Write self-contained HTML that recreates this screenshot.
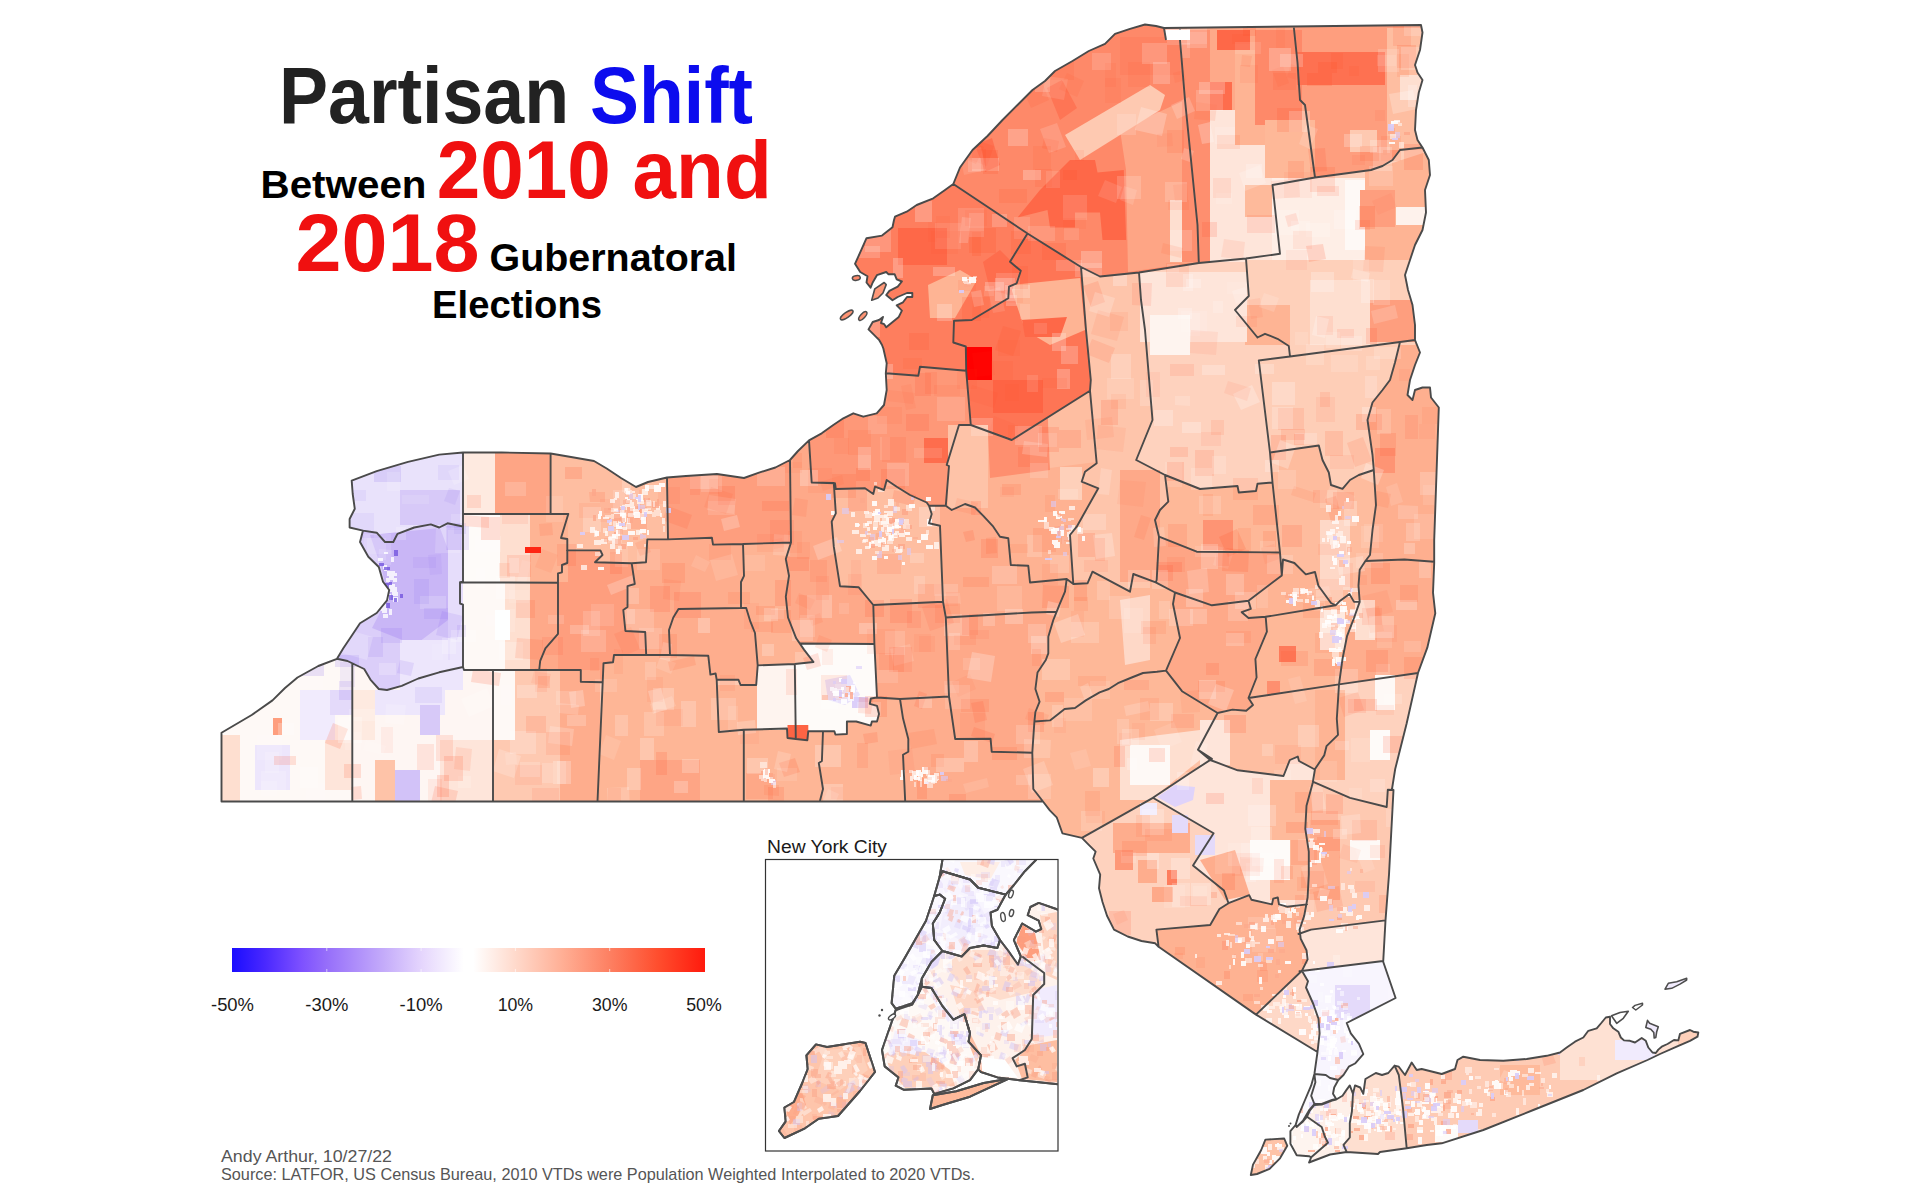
<!DOCTYPE html><html><head><meta charset="utf-8"><title>Partisan Shift</title><style>html,body{margin:0;padding:0;background:#fff}body{width:1920px;height:1200px;position:relative;overflow:hidden;font-family:"Liberation Sans",sans-serif}</style></head><body><svg width="1920" height="1200" viewBox="0 0 1920 1200" style="position:absolute;left:0;top:0">
<defs><clipPath id="land"><path d="M1130,28.8 1115,33.8 1105,43.8 1088.8,51 1072.5,61 1055,71 1045,81 1032.5,90 1017.5,105 1002.5,120 987.5,136 972.5,150 960,167.5 953.3,184 945,190 933.3,198.3 916.7,205 906.7,211.7 895,216.7 894,220 892.5,227.3 882,235.6 866.5,238.2 861.2,250.2 855,263.8 860.2,272 867.5,276.2 866.5,282.5 870.6,287.7 872.7,282.5 876.9,275.2 886.2,272 888.3,274.2 894.6,274.2 896.7,279.4 901.9,281.5 897.7,286.7 889.4,290.8 886.2,295 892.5,300.2 897.7,297 907,293 912.3,293 912.3,297 907,297 903,302.3 896.7,305.4 901.9,310.6 898.8,316.9 886.2,327.3 884.2,324.2 881,323 883,316.9 879,320 872.7,322 868.5,329.4 873.8,334.6 879,339.8 882,345 883.3,348.3 886.7,363.3 885.8,373.3 886.7,390 884,405 876.7,413.3 863.3,416.7 853.3,413.3 843.3,418.3 833.3,425 821.7,433.3 809,440.4 798,451 790,460 775.4,467.5 759,472.7 744,478 717,474 686,476 667,477.5 648,482 636,487 621,478 606.7,468.5 594,461 571,457 550.6,453.5 501.7,452.5 463,452.5 439.2,454.6 408,461.9 376.7,471.2 351.7,480.6 352.7,494 354.8,508.8 349.6,519 349.6,527.5 363,530.6 360,542 368.3,556.7 378.8,567 383,581.7 389.2,590 387,600.4 376.7,613 360,623.3 351.7,635.8 343.3,648.3 337,658.8 318.3,666 297.5,677.5 285,688 272.5,700.4 251.7,715 221.5,732.7 221.5,801.5 1043,801.5 1049.8,810.4 1056.7,817.3 1062.4,833.3 1081.9,837.9 1088.8,844.8 1095.6,851.7 1093.3,858.5 1100.2,874.6 1099,888.3 1102.5,902 1107,915.8 1114,929.6 1127.7,936.5 1141.5,941 1155.2,943.3 1158.6,946.8 1256,1014.6 1317.5,1052 1314.4,1074 1311.2,1085.4 1305,1100 1298.8,1114.6 1295.6,1125 1290.4,1131.2 1290.4,1143.8 1296.7,1155.2 1309,1156.2 1311.2,1157.3 1309,1162.5 1330,1154.5 1346.7,1152 1378,1154 1380,1152 1406.7,1148.3 1426.7,1145 1441.7,1143.3 1483.3,1130 1533.3,1110 1583.3,1090 1616.7,1073.3 1647.5,1060 1660,1054 1676.7,1046.7 1690,1040.8 1697.5,1036.7 1698.3,1032.5 1693.3,1031.7 1690,1030 1680,1033.8 1678.3,1040.4 1674,1040 1667.5,1044 1661.7,1046.7 1658.3,1049.6 1655.8,1053 1652.5,1052.5 1648.3,1047.5 1645.8,1040.8 1641.7,1038 1635,1042.5 1630,1040.8 1624,1040.4 1620.8,1037.5 1618.3,1031.7 1613.3,1028.3 1610,1024 1610,1016.7 1605.8,1017.5 1601.7,1022.5 1596.7,1028.3 1588.3,1030.8 1583.3,1037.5 1575,1041.7 1566.7,1047.5 1560,1052.5 1546.7,1055.8 1526.7,1059 1503.3,1060.8 1480,1060 1463.3,1056.7 1457.5,1060 1455,1069 1441.7,1074 1421.7,1069 1416.7,1070 1411.7,1062.5 1405,1075 1398.8,1066.7 1394.6,1065.6 1388.3,1073 1382,1075 1375.8,1073 1365.4,1079 1363.3,1093.8 1360.2,1087.5 1355,1085.4 1353,1093.8 1349.8,1085.4 1346.7,1089.6 1342.5,1095.8 1336.2,1099.5 1332,1100.5 1321.7,1104.5 1314.4,1105 1309.5,1111 1307,1116.7 1303,1121.5 1298.4,1125.4 1303,1120.8 1309,1110.4 1314.4,1104 1321.7,1104 1332,1100 1336.2,1099 1333,1093.8 1334.2,1087.5 1338.3,1080 1343.5,1075 1348.8,1066.7 1355,1063.5 1363.3,1054 1359,1043.8 1350.8,1033.3 1346.7,1023 1395.6,998 1383.2,961.7 1385.5,920.4 1389,874.6 1393.5,790 1392,789 1395.2,769 1406.7,723.3 1418,673 1427.3,647.7 1435.3,613.3 1433,592.7 1434.2,563 1434.2,540 1438.8,407.5 1431,397.5 1430,387.5 1422.5,387.5 1415,390 1412.5,400 1407.5,395 1410,380 1415,365 1420,352.5 1415,340 1415,325 1412.5,305 1408,290 1405,275 1410,260 1415,245 1422.5,230 1426,212.5 1425,190 1430,175 1428.8,160 1422.5,147.5 1417.5,140 1415,130 1416,110 1418.8,92.5 1422.5,80 1417.5,72.5 1415,65 1420,50 1422.5,32.5 1421,25 1164,28 1156,26 1145,24.5Z"/><path d="M1269.6,1168.8 1280,1158.3 1287.3,1145.8 1284.2,1138.5 1265.4,1139.6 1261.2,1150 1253,1164.6 1250.8,1175 1257,1174.0Z"/></clipPath>
<linearGradient id="lg" x1="0" x2="1" y1="0" y2="0"><stop offset="0" stop-color="#1a0dff"/><stop offset="0.07" stop-color="#4a28ff"/><stop offset="0.146" stop-color="#7d50ff"/><stop offset="0.2" stop-color="#966efa"/><stop offset="0.318" stop-color="#c3aafa"/><stop offset="0.404" stop-color="#e6d7fd"/><stop offset="0.49" stop-color="#ffffff"/><stop offset="0.51" stop-color="#ffffff"/><stop offset="0.6" stop-color="#ffd9cb"/><stop offset="0.7" stop-color="#ffae94"/><stop offset="0.8" stop-color="#fd7f61"/><stop offset="0.9" stop-color="#ff4e2e"/><stop offset="1" stop-color="#ff1a0d"/></linearGradient>
<clipPath id="inset"><rect x="766" y="860" width="291.5" height="290.5"/></clipPath>
</defs>
<g stroke="none">
<path d="M1145,24.5 1130,28.8 1115,33.8 1105,43.8 1088.8,51 1072.5,61 1055,71 1045,81 1032.5,90 1017.5,105 1002.5,120 987.5,136 972.5,150 960,167.5 953.3,184 1027.5,233.5 1081,267 1100,276.5 1139,272.5 1198.8,263 1197.5,225 1192.5,175 1185,100 1180,40 1180,27.8 1164,28 1156,26.0Z" fill="#fe8969"/>
<path d="M953.3,184 945,190 933.3,198.3 916.7,205 906.7,211.7 895,216.7 894,220 892.5,227.3 882,235.6 866.5,238.2 861.2,250.2 855,263.8 860.2,272 867.5,276.2 866.5,282.5 870.6,287.7 872.7,282.5 876.9,275.2 886.2,272 888.3,274.2 894.6,274.2 896.7,279.4 901.9,281.5 897.7,286.7 889.4,290.8 886.2,295 892.5,300.2 897.7,297 907,293 912.3,293 912.3,297 907,297 903,302.3 896.7,305.4 901.9,310.6 898.8,316.9 886.2,327.3 884.2,324.2 881,323 883,316.9 879,320 872.7,322 868.5,329.4 873.8,334.6 879,339.8 882,345 883.3,348.3 886.7,363.3 885.8,373.3 918.3,375.8 920,366.7 966.2,370.8 965.8,346.5 953.3,342.5 954,320.8 971.7,320 1008.3,298.3 1009,286.7 1016.7,283.3 1020.8,270.8 1010,261.7 1027.5,233.5Z" fill="#fe7e5e"/>
<path d="M885.8,373.3 885.8,373.3 886.7,390 884,405 876.7,413.3 863.3,416.7 853.3,413.3 843.3,418.3 833.3,425 821.7,433.3 809,440.4 811.7,482.5 833.8,483 833.8,483.3 835,483.3 835.8,489 865,488.3 873.3,494 875,486.7 884,490 886.7,480 896.7,486.7 910,495 926.7,502.5 929,505.8 945.8,505.8 949,466 946.7,465 959,425 970.8,425 966.2,370.8 920,366.7 918.3,375.8Z" fill="#fe9878"/>
<path d="M809,440.4 798,451 790,460 791,542.5 785.8,559 789,575.8 785.8,596.7 788,617.5 796.2,638.3 799.8,643.5 874.4,644 873.3,605 858.8,587.3 840,586.2 833.8,546.7 831.7,521.7 835.8,513.3 833.8,483.3 811.7,482.5Z" fill="#fea989"/>
<path d="M790,460 775.4,467.5 759,472.7 744,478 717,474 686,476 667,477.5 668,539.4 711.9,537.7 713,544.6 743,544 791,542.5Z" fill="#fe9e7e"/>
<path d="M667,477.5 648,482 636,487 621,478 606.7,468.5 594,461 571,457 550.6,453.5 550.6,514 568.3,514 561,538 567.3,539 567.3,550.4 600.4,550.4 602.5,555 595,562.3 631.7,563.3 646,562.3 647.3,539.4 668,539.4Z" fill="#febea1"/>
<path d="M550.6,453.5 501.7,452.5 463,452.5 463,514 550.6,514.0Z" fill="#febea1"/>
<path d="M463,452.5 439.2,454.6 408,461.9 376.7,471.2 351.7,480.6 352.7,494 354.8,508.8 349.6,519 349.6,527.5 363,530.6 376.7,532.7 385,542 393.3,542 397.5,533.8 414.2,527.5 430.8,524.4 439.2,527.5 447.5,523.3 463,526.5 463,514.0Z" fill="#e9e2fb"/>
<path d="M363,530.6 360,542 368.3,556.7 378.8,567 383,581.7 389.2,590 387,600.4 376.7,613 360,623.3 351.7,635.8 343.3,648.3 337,658.8 347.5,661 352.3,663.3 355.8,665 364.2,669 370.4,679.6 378.8,689 387,690 401.7,685.8 418.3,678.5 439.2,672.3 463,667 463,604.6 460,603.5 460,582.3 463,581.7 463,526.5 447.5,523.3 439.2,527.5 430.8,524.4 414.2,527.5 397.5,533.8 393.3,542 385,542 376.7,532.7Z" fill="#dbcef9"/>
<path d="M337,658.8 318.3,666 297.5,677.5 285,688 272.5,700.4 251.7,715 221.5,732.7 221.5,801.5 352.3,801.5 352.3,663.3 347.5,661.0Z" fill="#fef9f6"/>
<path d="M352.3,801.5 493,801.5 493,670 464,670 463,667 439.2,672.3 418.3,678.5 401.7,685.8 387,690 378.8,689 370.4,679.6 364.2,669 355.8,665 352.3,663.3Z" fill="#fef6f3"/>
<path d="M493,801.5 597.5,801.5 602.7,682.2 580.8,681.7 580.8,670 539.2,670 493,670.0Z" fill="#fec9b1"/>
<path d="M597.5,801.5 743.8,801.5 743.7,729.8 718.8,732 716.7,679.8 715.6,673.5 710.4,674.6 708.3,655.8 670,655 648.2,655 646.2,655 644.2,655 614,655 613,662.3 603.5,663.3 602.7,682.2Z" fill="#feb696"/>
<path d="M743.8,801.5 819.8,801.5 823,789 818.8,763 821.9,761 823,731.2 808.3,731.2 807.3,740.2 795.8,739 787.5,738 787,728.5 743.7,729.8Z" fill="#feb696"/>
<path d="M819.8,801.5 905.2,801.5 903,754.8 908.3,751.7 908.3,739 903,718.3 900,699 877,697.5 870.8,698.5 869.8,703.8 877,705.8 879,714 877,721.5 871.9,721.5 870.8,725.6 856.2,721.5 846.9,721.5 846.9,734 835.4,734.6 834.4,731.2 823,731.2 821.9,761 818.8,763 823,789.0Z" fill="#feb494"/>
<path d="M905.2,801.5 1043,801.5 1033.3,789 1032.3,752.7 991.7,751.7 990.6,738.8 955.2,739 949,696.5 900,699 903,718.3 908.3,739 908.3,751.7 903,754.8Z" fill="#fead8d"/>
<path d="M1043,801.5 1049.8,810.4 1056.7,817.3 1062.4,833.3 1081.9,837.9 1152.9,797.8 1189,773.8 1210.2,760 1210.2,760 1198,749.7 1217.6,713 1182,691.2 1166,670.6 1156.9,671.8 1143,673 1131.7,677.5 1117.9,683.2 1108.8,689 1099.6,692.4 1085.8,700.4 1075,708 1064.6,709 1058.3,714 1050,720.4 1034.4,721.5 1032.3,752.7 1033.3,789.0Z" fill="#feb898"/>
<path d="M1081.9,837.9 1088.8,844.8 1095.6,851.7 1093.3,858.5 1100.2,874.6 1099,888.3 1102.5,902 1107,915.8 1114,929.6 1127.7,936.5 1141.5,941 1155.2,943.3 1158.6,946.8 1156.4,929.6 1210.2,925 1219.4,909 1228.5,903.2 1224,890.6 1193,865.4 1213.6,833.3 1152.9,797.8Z" fill="#fed2be"/>
<path d="M1158.6,946.8 1256,1014.6 1301.8,970.9 1301.9,970.8 1307.6,959.4 1306.5,950.2 1300.7,938.8 1300.1,933.4 1299.6,929.6 1304.2,915.8 1306.3,904.5 1287,906.7 1279,904.4 1277.8,897.5 1273.2,898.6 1272,904.4 1251.5,899.8 1249.2,895.2 1228.5,903.2 1219.4,909 1210.2,925 1156.4,929.6Z" fill="#feb292"/>
<path d="M1256,1014.6 1317.5,1052 1319.6,1033.3 1318.5,1018.8 1313.3,1004 1306,987.5 1308,981.2 1302,970.9 1301.8,970.9Z" fill="#fed8c7"/>
<path d="M1317.5,1052 1314.4,1074 1325.8,1075 1330,1078 1338.3,1080 1343.5,1075 1348.8,1066.7 1355,1063.5 1363.3,1054 1359,1043.8 1350.8,1033.3 1346.7,1023 1395.6,998 1383.2,961.7 1383.2,961 1302,970.9 1308,981.2 1306,987.5 1313.3,1004 1318.5,1018.8 1319.6,1033.3Z" fill="#f8f5fe"/>
<path d="M1314.4,1074 1311.2,1085.4 1305,1100 1298.8,1114.6 1295.6,1125 1296.7,1127 1303,1120.8 1309,1110.4 1314.4,1104 1311.2,1095.8 1315.4,1082.3Z" fill="#fbfafe"/>
<path d="M1314.4,1104 1321.7,1104 1332,1100 1336.2,1099 1333,1093.8 1334.2,1087.5 1338.3,1080 1330,1078 1325.8,1075 1314.4,1074 1315.4,1082.3 1311.2,1095.8Z" fill="#faf8fe"/>
<path d="M1383.2,961 1385.5,920.4 1311,929.6 1300.1,933.4 1300.7,938.8 1306.5,950.2 1307.6,959.4 1301.9,970.8 1302,970.9Z" fill="#fee5da"/>
<path d="M1385.5,920.4 1389,874.6 1393.5,790 1387.8,789.8 1386.7,807 1350,797.8 1312.9,781.6 1312.7,783 1306.5,805.8 1305.3,828.8 1308.8,851.7 1308.8,874.6 1307.6,897.5 1306.3,904.5 1304.2,915.8 1299.6,929.6 1300.1,933.4 1311,929.6Z" fill="#fec9b1"/>
<path d="M1393.5,790 1392,789 1395.2,769 1406.7,723.3 1418,673 1339,684.4 1338,700.4 1336.8,718.8 1338,734.8 1326.5,746.2 1324.2,755.4 1315,769 1314.9,769.5 1312.9,781.6 1350,797.8 1386.7,807 1387.8,789.8Z" fill="#fed2be"/>
<path d="M1418,673 1427.3,647.7 1435.3,613.3 1433,592.7 1434.2,563 1434.2,561.8 1404.4,559.5 1365.4,561 1359.7,569.8 1358.5,585.8 1359.7,601.9 1354,618 1347,636.2 1342.5,659 1339,684.4Z" fill="#fead8d"/>
<path d="M1434.2,561.8 1434.2,540 1438.8,407.5 1431,397.5 1430,387.5 1422.5,387.5 1415,390 1412.5,400 1407.5,395 1410,380 1415,365 1420,352.5 1415,340 1400,342 1395,362.5 1390,380 1382.5,390 1372.5,402.5 1367.5,420 1372.5,455 1373.8,470 1376,505 1372.5,530 1370,555 1365.4,561 1404.4,559.5Z" fill="#feaf8f"/>
<path d="M1415,340 1415,325 1412.5,305 1408,290 1405,275 1410,260 1415,245 1422.5,230 1426,212.5 1425,190 1430,175 1428.8,160 1422.5,147.5 1400,150 1392.5,160 1382.5,166 1371,170 1352.5,172.5 1315,177.5 1272.5,185 1280,253.8 1246,258.5 1248.8,296 1235,310 1257.5,337.5 1265,333.8 1277.5,338.8 1288.8,346 1290,356.5 1400,342.0Z" fill="#fed0ba"/>
<path d="M1422.5,147.5 1417.5,140 1415,130 1416,110 1418.8,92.5 1422.5,80 1417.5,72.5 1415,65 1420,50 1422.5,32.5 1421,25 1293.7,26.5 1297.5,62.5 1300,100 1305,105 1315,177.5 1352.5,172.5 1371,170 1382.5,166 1392.5,160 1400,150.0Z" fill="#fe9e7e"/>
<path d="M1293.7,26.5 1180,27.8 1180,40 1185,100 1192.5,175 1197.5,225 1198.8,263 1246,258.5 1280,253.8 1272.5,185 1315,177.5 1305,105 1300,100 1297.5,62.5Z" fill="#fea989"/>
<path d="M1081,267 1027.5,233.5 1010,261.7 1020.8,270.8 1016.7,283.3 1009,286.7 1008.3,298.3 971.7,320 954,320.8 953.3,342.5 965.8,346.5 966.2,370.8 970.8,425 1011.7,440 1090,390.8 1090.8,380 1086,330.0Z" fill="#fe7555"/>
<path d="M1100,276.5 1081,267 1086,330 1090.8,380 1090,390.8 1096.7,463.3 1085,471.7 1081.7,481.7 1098.3,488.3 1076.7,526.7 1070,535 1073.3,584 1087.5,583.3 1092.5,571.7 1130,591.7 1133.3,574 1155.7,582.4 1156.7,580 1159,536.7 1155,520 1160,510 1168.3,501.7 1165,475 1136.2,460 1152.5,420 1145,330 1141,300 1139,272.5Z" fill="#fec5ab"/>
<path d="M1198.8,263 1139,272.5 1141,300 1145,330 1152.5,420 1136.2,460 1165,475 1200,489 1237.5,486 1238.8,492.5 1256,491 1257.5,483.8 1272.5,482.5 1270,452.5 1258.8,360.5 1290,356.5 1288.8,346 1277.5,338.8 1265,333.8 1257.5,337.5 1235,310 1248.8,296 1246,258.5Z" fill="#fed2be"/>
<path d="M1290,356.5 1258.8,360.5 1270,452.5 1318.8,445.5 1322.5,460 1328.8,472.5 1331,485 1342.5,488.8 1350,480 1358.8,475 1373.8,470 1372.5,455 1367.5,420 1372.5,402.5 1382.5,390 1390,380 1395,362.5 1400,342.0Z" fill="#feceb7"/>
<path d="M1270,452.5 1272.5,482.5 1280,552.5 1281.8,575.5 1283,559.5 1294.4,563 1305.8,574.4 1315,572 1318.4,585.8 1331,603 1335.6,605.3 1340.2,600.7 1349.4,593.9 1354,601.9 1359.7,601.9 1358.5,585.8 1359.7,569.8 1365.4,561 1370,555 1372.5,530 1376,505 1373.8,470 1358.8,475 1350,480 1342.5,488.8 1331,485 1328.8,472.5 1322.5,460 1318.8,445.5Z" fill="#febc9e"/>
<path d="M1280,552.5 1272.5,482.5 1257.5,483.8 1256,491 1238.8,492.5 1237.5,486 1200,489 1165,475 1168.3,501.7 1160,510 1155,520 1159,536.7 1196.7,551.7Z" fill="#feb898"/>
<path d="M1281.8,575.5 1280,552.5 1196.7,551.7 1159,536.7 1156.7,580 1155.7,582.4 1175,592.5 1211.9,605.3 1248.5,600.7Z" fill="#fea585"/>
<path d="M1090,390.8 1011.7,440 970.8,425 959,425 946.7,465 949,466 945.8,505.8 951.7,510 965,504 975,507.5 983.3,515.8 993.3,526.7 1000,536.7 1008.3,538.3 1010.8,565 1028.3,565.8 1030,582.5 1066.7,579 1073.3,584 1070,535 1076.7,526.7 1098.3,488.3 1081.7,481.7 1085,471.7 1096.7,463.3Z" fill="#feb292"/>
<path d="M811.7,482.5 833.8,483.3 833.8,483.0Z" fill="#feb494"/>
<path d="M929,505.8 926.7,502.5 910,495 896.7,486.7 886.7,480 884,490 875,486.7 873.3,494 865,488.3 835.8,489 835,483.3 833.8,483.3 835.8,513.3 831.7,521.7 833.8,546.7 840,586.2 858.8,587.3 873.3,605 943,601.7 940,525.8 929,523.3 931.7,514.0Z" fill="#febea1"/>
<path d="M945.8,505.8 929,505.8 931.7,514 929,523.3 940,525.8 943,601.7 945.8,617.5 1031.7,612.5 1056.7,611.7 1060,603.3 1065,591.7 1066.7,579 1030,582.5 1028.3,565.8 1010.8,565 1008.3,538.3 1000,536.7 993.3,526.7 983.3,515.8 975,507.5 965,504 951.7,510.0Z" fill="#fead8d"/>
<path d="M1073.3,584 1066.7,579 1065,591.7 1060,603.3 1056.7,611.7 1053.3,620 1048.3,636.7 1048.3,653.3 1045.8,660 1037.5,672.5 1035.4,689 1039.6,701.7 1035.4,712 1034.4,721.5 1050,720.4 1058.3,714 1064.6,709 1075,708 1085.8,700.4 1099.6,692.4 1108.8,689 1117.9,683.2 1131.7,677.5 1143,673 1156.9,671.8 1166,670.6 1180,638 1173,604 1175,592.5 1155.7,582.4 1133.3,574 1130,591.7 1092.5,571.7 1087.5,583.3Z" fill="#feb898"/>
<path d="M1248.5,600.7 1211.9,605.3 1175,592.5 1173,604 1180,638 1166,670.6 1182,691.2 1217.6,713 1232.5,709.6 1246.2,710.7 1253,705 1248.5,698 1256.6,677.5 1255.4,659 1266.9,631.7 1265.7,616.8 1248.5,618 1241.7,612.2 1250.8,608.8Z" fill="#fea989"/>
<path d="M1281.8,575.5 1248.5,600.7 1250.8,608.8 1241.7,612.2 1248.5,618 1265.7,616.8 1335.6,605.3 1331,603 1318.4,585.8 1315,572 1305.8,574.4 1294.4,563 1283,559.5Z" fill="#feb494"/>
<path d="M1265.7,616.8 1266.9,631.7 1255.4,659 1256.6,677.5 1248.5,698 1339,684.4 1342.5,659 1347,636.2 1354,618 1359.7,601.9 1354,601.9 1349.4,593.9 1340.2,600.7 1335.6,605.3Z" fill="#feb898"/>
<path d="M1248.5,698 1253,705 1246.2,710.7 1232.5,709.6 1217.6,713 1198,749.7 1211.9,758.9 1210.2,760 1237.7,770.3 1283.5,776 1289.8,760 1297.8,756.6 1299,761 1314.9,769.5 1315,769 1324.2,755.4 1326.5,746.2 1338,734.8 1336.8,718.8 1338,700.4 1339,684.4Z" fill="#febea1"/>
<path d="M1312.9,781.6 1314.9,769.5 1299,761 1297.8,756.6 1289.8,760 1283.5,776 1237.7,770.3 1210.2,760 1189,773.8 1152.9,797.8 1213.6,833.3 1193,865.4 1224,890.6 1228.5,903.2 1249.2,895.2 1251.5,899.8 1272,904.4 1273.2,898.6 1277.8,897.5 1279,904.4 1287,906.7 1306.3,904.5 1307.6,897.5 1308.8,874.6 1308.8,851.7 1305.3,828.8 1306.5,805.8 1312.7,783.0Z" fill="#fee5da"/>
<path d="M1302,970.9 1301.9,970.8 1301.8,970.9Z" fill="#feb494"/>
<path d="M1198,749.7 1210.2,760 1210.2,760 1211.9,758.9Z" fill="#feb494"/>
<path d="M1034.4,721.5 1035.4,712 1039.6,701.7 1035.4,689 1037.5,672.5 1045.8,660 1048.3,653.3 1048.3,636.7 1053.3,620 1056.7,611.7 1031.7,612.5 945.8,617.5 949,696.5 955.2,739 990.6,738.8 991.7,751.7 1032.3,752.7Z" fill="#fea989"/>
<path d="M945.8,617.5 943,601.7 873.3,605 874.4,644 877,697.5 900,699 949,696.5Z" fill="#fea989"/>
<path d="M668,539.4 647.3,539.4 646,562.3 631.7,563.3 634.8,584 627.5,586.2 627.5,607 623.3,610 625.4,631 645.2,632 646.2,655 648.2,655 670,655 669,630 673.3,617.5 678.5,609 741,608 741,582 744,575.8 743,544 713,544.6 711.9,537.7Z" fill="#fead8d"/>
<path d="M791,542.5 743,544 744,575.8 741,582 741,608 746.2,608 750.4,621.7 755,633 757.7,665.4 794.8,664 813.5,662 804,649.6 799.8,643.5 796.2,638.3 788,617.5 785.8,596.7 789,575.8 785.8,559.0Z" fill="#feb494"/>
<path d="M631.7,563.3 595,562.3 602.5,555 600.4,550.4 567.3,550.4 567.3,563 562,565 562,572.3 558,573.3 558,580.7 558,582.7 558,584.7 558,633.8 545.4,648.3 540.2,660.8 539.2,670 580.8,670 580.8,681.7 602.7,682.2 603.5,663.3 613,662.3 614,655 644.2,655 646.2,655 645.2,632 625.4,631 623.3,610 627.5,607 627.5,586.2 634.8,584.0Z" fill="#fe9e7e"/>
<path d="M550.6,514 463,514 463,526.5 463,581.7 460,582.3 558,582.7 558,580.7 558,573.3 562,572.3 562,565 567.3,563 567.3,550.4 567.3,539 561,538 568.3,514.0Z" fill="#fed4c1"/>
<path d="M558,584.7 558,582.7 460,582.3 460,603.5 463,604.6 463,667 464,670 493,670 539.2,670 540.2,660.8 545.4,648.3 558,633.8Z" fill="#fed8c7"/>
<path d="M670,655 708.3,655.8 710.4,674.6 715.6,673.5 716.7,679.8 738.5,679.8 740.6,685 756.2,685 757.7,665.4 755,633 750.4,621.7 746.2,608 741,608 678.5,609 673.3,617.5 669,630.0Z" fill="#fead8d"/>
<path d="M716.7,679.8 718.8,732 743.7,729.8 787,728.5 787.5,738 795.8,739 794.8,664 757.7,665.4 756.2,685 740.6,685 738.5,679.8Z" fill="#fec9b1"/>
<path d="M813.5,662 794.8,664 795.8,739 807.3,740.2 808.3,731.2 823,731.2 834.4,731.2 835.4,734.6 846.9,734 846.9,721.5 856.2,721.5 870.8,725.6 871.9,721.5 877,721.5 879,714 877,705.8 869.8,703.8 870.8,698.5 877,697.5 874.4,644 799.8,643.5 804,649.6Z" fill="#fefbf9"/>
<path d="M1307,1116.7 1303,1121.5 1297,1126.5 1295.6,1125 1290.4,1131.2 1290.4,1143.8 1296.7,1155.2 1309,1156.2 1311.2,1157.3 1328,1142.7 1324.8,1136.5 1321.7,1127.0Z" fill="#fef4ef"/>
<path d="M1353,1093.8 1349.8,1085.4 1346.7,1089.6 1342.5,1095.8 1336.2,1099.5 1332,1100.5 1321.7,1104.5 1314.4,1105 1309.5,1111 1307,1116.7 1321.7,1127 1324.8,1136.5 1328,1142.7 1311.2,1157.3 1309,1162.5 1330,1154.5 1346.7,1152 1343.5,1144.8 1349.8,1137.5 1349.8,1123 1351.9,1111.5Z" fill="#fef0e9"/>
<path d="M1394.6,1065.6 1388.3,1073 1382,1075 1375.8,1073 1365.4,1079 1363.3,1093.8 1360.2,1087.5 1355,1085.4 1353,1093.8 1351.9,1111.5 1349.8,1123 1349.8,1137.5 1343.5,1144.8 1346.7,1152 1378,1154 1380,1152 1406.7,1148.3 1403,1108.3 1398.8,1075.0Z" fill="#fedfd0"/>
<path d="M1406.7,1148.3 1426.7,1145 1441.7,1143.3 1483.3,1130 1533.3,1110 1583.3,1090 1616.7,1073.3 1647.5,1060 1660,1054 1676.7,1046.7 1690,1040.8 1697.5,1036.7 1698.3,1032.5 1693.3,1031.7 1690,1030 1680,1033.8 1678.3,1040.4 1674,1040 1667.5,1044 1661.7,1046.7 1658.3,1049.6 1655.8,1053 1652.5,1052.5 1648.3,1047.5 1645.8,1040.8 1641.7,1038 1635,1042.5 1630,1040.8 1624,1040.4 1620.8,1037.5 1618.3,1031.7 1613.3,1028.3 1610,1024 1610,1016.7 1605.8,1017.5 1601.7,1022.5 1596.7,1028.3 1588.3,1030.8 1583.3,1037.5 1575,1041.7 1566.7,1047.5 1560,1052.5 1546.7,1055.8 1526.7,1059 1503.3,1060.8 1480,1060 1463.3,1056.7 1457.5,1060 1455,1069 1441.7,1074 1421.7,1069 1416.7,1070 1411.7,1062.5 1405,1075 1398.8,1066.7 1394.6,1065.6 1398.8,1075 1403,1108.3Z" fill="#fecbb4"/>
<path d="M1250.8,1175 1253,1164.6 1261.2,1150 1265.4,1139.6 1284.2,1138.5 1287.3,1145.8 1280,1158.3 1269.6,1168.8 1257,1174.0Z" fill="#fec3a8"/>
</g>
<g clip-path="url(#land)" stroke="none">
<path d="M1120,130 1185,100 1198,262 1128,272 1126,170.0Z" fill="#fea585"/>
<path d="M1040,190 1070,160 1095,160 1097.5,172.5 1123.8,170 1126.2,240 1102.5,240 1100,212.5 1075,212.5 1075,227.5 1050,227.5 1047.5,210 1017.5,217.5Z" fill="#fe6848"/>
<path d="M1065,135 1150,85 1165,95 1160,110 1080,160.0Z" fill="#fec9b1"/>
<path d="M1047,88 1062,80 1077,108 1060,120.0Z" fill="#fe7555"/>
<path d="M975,145 992,138 1000,165 985,172.0Z" fill="#fe7151"/>
<rect x="1120" y="37" width="60" height="38" fill="#fe8262"/>
<rect x="1170" y="200" width="26" height="62" fill="#fedfd0"/>
<rect x="1182" y="30" width="28" height="232" fill="#fe8f6f"/>
<rect x="1210" y="110" width="62" height="152" fill="#fee5da"/>
<rect x="1245" y="185" width="27" height="32" fill="#feba9b"/>
<rect x="1235" y="50" width="30" height="95" fill="#feb494"/>
<rect x="1255" y="30" width="47" height="95" fill="#fe8969"/>
<rect x="1265" y="120" width="50" height="58" fill="#feb898"/>
<rect x="1210" y="82" width="22" height="28" fill="#fe6d4d"/>
<rect x="1217" y="30" width="33" height="20" fill="#fe6848"/>
<rect x="1297" y="52" width="88" height="33" fill="#fe7151"/>
<rect x="1387" y="28" width="38" height="122" fill="#febea1"/>
<rect x="1400" y="75" width="25" height="25" fill="#fedfd0"/>
<rect x="1350" y="130" width="27" height="22" fill="#fec9b1"/>
<rect x="1272" y="178" width="93" height="84" fill="#feeee6"/>
<rect x="1345" y="180" width="20" height="70" fill="#fef9f6"/>
<path d="M1365,172 1432,150 1432,345 1365,345.0Z" fill="#feb494"/>
<rect x="1360" y="190" width="35" height="37" fill="#fe9e7e"/>
<rect x="1396" y="207" width="32" height="18" fill="#fef2ec"/>
<rect x="1245" y="260" width="170" height="85" fill="#fed0ba"/>
<rect x="1245" y="305" width="45" height="40" fill="#feb494"/>
<rect x="1310" y="280" width="60" height="65" fill="#fedfd0"/>
<rect x="1370" y="300" width="48" height="42" fill="#fe9e7e"/>
<rect x="1140" y="272" width="107" height="70" fill="#fee5da"/>
<rect x="1150" y="315" width="40" height="40" fill="#fef4ef"/>
<path d="M1010,285 1080,278 1085,330 1050,345 1025,330.0Z" fill="#feb494"/>
<path d="M1022,320 1067,317 1060,337 1025,337.0Z" fill="#fe6848"/>
<rect x="966" y="347" width="26" height="33" fill="#ff0000"/>
<rect x="898" y="228" width="49" height="37" fill="#fe6848"/>
<path d="M983,262 1000,250 1020,270 1010,295 990,290.0Z" fill="#fe6d4d"/>
<path d="M928,285 960,270 977,280 955,318 930,318.0Z" fill="#feb494"/>
<rect x="924" y="438" width="26" height="25" fill="#fe6d4d"/>
<rect x="948" y="425" width="40" height="83" fill="#fec3a8"/>
<path d="M988,432 1011,441 1048,418 1050,470 990,478.0Z" fill="#fe8f6f"/>
<path d="M1048,418 1090,392 1096,462 1050,468.0Z" fill="#febea1"/>
<rect x="1060" y="467" width="22" height="33" fill="#fed0ba"/>
<rect x="1120" y="470" width="40" height="112" fill="#fea989"/>
<rect x="993" y="380" width="50" height="33" fill="#fe6444"/>
<path d="M370,535 440,528 452,560 448,620 415,645 372,628 388,597 382,570.0Z" fill="#c9b6f6"/>
<rect x="400" y="640" width="63" height="50" fill="#ede6fc"/>
<rect x="448" y="530" width="15" height="130" fill="#e6ddfb"/>
<rect x="400" y="490" width="60" height="35" fill="#d7c9f8"/>
<rect x="463" y="453" width="32" height="61" fill="#feeae0"/>
<rect x="495" y="453" width="56" height="61" fill="#fea585"/>
<rect x="463" y="514" width="37" height="68" fill="#fefbf9"/>
<rect x="500" y="514" width="30" height="68" fill="#fedfd0"/>
<rect x="530" y="514" width="38" height="68" fill="#feb494"/>
<rect x="525" y="547" width="16" height="6" fill="#fe2613"/>
<rect x="463" y="582" width="42" height="88" fill="#fef9f6"/>
<rect x="505" y="582" width="25" height="88" fill="#fedfd0"/>
<rect x="530" y="582" width="28" height="88" fill="#fea989"/>
<rect x="495" y="610" width="15" height="30" fill="#feffff"/>
<rect x="222" y="735" width="18" height="66" fill="#fedfd0"/>
<rect x="255" y="745" width="35" height="45" fill="#ede6fc"/>
<rect x="300" y="690" width="35" height="50" fill="#f1ebfd"/>
<rect x="330" y="690" width="22" height="25" fill="#e4dafa"/>
<rect x="325" y="740" width="27" height="50" fill="#fee5da"/>
<rect x="273" y="718" width="9" height="17" fill="#fe9e7e"/>
<rect x="375" y="690" width="70" height="25" fill="#ede6fc"/>
<rect x="420" y="705" width="20" height="30" fill="#d7c9f8"/>
<rect x="375" y="760" width="20" height="41" fill="#fec3a8"/>
<rect x="395" y="770" width="25" height="31" fill="#d2c2f8"/>
<rect x="440" y="740" width="53" height="61" fill="#fee5da"/>
<rect x="352" y="690" width="23" height="50" fill="#feeae0"/>
<rect x="493" y="670" width="22" height="70" fill="#fef9f6"/>
<rect x="560" y="670" width="40" height="131" fill="#fead8d"/>
<rect x="640" y="760" width="60" height="41" fill="#fea585"/>
<path d="M825,680 850,675 860,695 845,705 828,700.0Z" fill="#e9e2fb"/>
<rect x="852" y="697" width="16" height="11" fill="#dbcef9"/>
<rect x="757" y="665" width="38" height="65" fill="#fef4ef"/>
<rect x="718" y="685" width="39" height="45" fill="#feb494"/>
<path d="M787.5,725 808.3,725 808.3,740.5 795.8,739 787.5,738.0Z" fill="#fe6444"/>
<path d="M1120,740 1200,730 1200,760 1150,800 1120,800.0Z" fill="#fedfd0"/>
<rect x="1130" y="745" width="40" height="40" fill="#fef9f6"/>
<rect x="1270" y="780" width="42" height="120" fill="#feba9b"/>
<path d="M1157,797 1175,785 1195,787 1193,800 1175,807.0Z" fill="#dfd3fa"/>
<rect x="1195" y="835" width="20" height="20" fill="#e4dafa"/>
<path d="M1200,860 1235,850 1250,895 1225,900.0Z" fill="#fead8d"/>
<rect x="1250" y="840" width="40" height="40" fill="#fefbf9"/>
<rect x="1113" y="823" width="77" height="30" fill="#fead8d"/>
<rect x="1115" y="850" width="18" height="20" fill="#fe9878"/>
<rect x="1138" y="860" width="19" height="23" fill="#fead8d"/>
<rect x="1152" y="887" width="21" height="15" fill="#fea989"/>
<rect x="1167" y="870" width="10" height="15" fill="#fe7e5e"/>
<rect x="1140" y="803" width="17" height="12" fill="#f1ebfd"/>
<rect x="1172" y="815" width="16" height="18" fill="#e4dafa"/>
<rect x="1350" y="840" width="30" height="20" fill="#fef9f6"/>
<rect x="1310" y="820" width="30" height="80" fill="#fead8d"/>
<rect x="1335" y="985" width="35" height="35" fill="#e4dafa"/>
<rect x="1375" y="675" width="20" height="35" fill="#fef9f6"/>
<rect x="1370" y="730" width="20" height="30" fill="#fefbf9"/>
<rect x="1315" y="690" width="30" height="90" fill="#feb494"/>
<rect x="1355" y="600" width="20" height="40" fill="#fedfd0"/>
<rect x="1320" y="610" width="25" height="40" fill="#feeae0"/>
<rect x="1279" y="646" width="17" height="16" fill="#fe7a5a"/>
<rect x="1267" y="681" width="13" height="13" fill="#fe8f6f"/>
<rect x="1320" y="520" width="30" height="70" fill="#fed8c7"/>
<rect x="1200" y="720" width="30" height="45" fill="#fee5da"/>
<rect x="1375" y="448" width="20" height="25" fill="#fe9474"/>
<rect x="1203" y="520" width="30" height="30" fill="#fe9474"/>
<path d="M1120,600 1150,595 1150,660 1125,665.0Z" fill="#fed8c7"/>
<rect x="1560" y="1010" width="140" height="70" fill="#fee1d3"/>
<rect x="1615" y="1040" width="40" height="20" fill="#f1ebfd"/>
<rect x="1678" y="1028" width="22" height="17" fill="#fed0ba"/>
<rect x="1458" y="1120" width="20" height="13" fill="#e4dafa"/>
<rect x="1435" y="1125" width="23" height="17" fill="#fefbf9"/>
<rect x="1500" y="1065" width="40" height="30" fill="#feba9b"/>
<path d="M1171,105 1189,97 1195,111 1177,119z" fill="#fff" opacity="0.18"/><path d="M1021,85 1040,77 1049,100 1031,108z" fill="#ff4a22" opacity="0.12"/><path d="M1035,169h17v18h-17z" fill="#ff4a22" opacity="0.12"/><path d="M1070,753 1086,749 1091,766 1075,770z" fill="#fff" opacity="0.11"/><path d="M1356,553h27v15h-27z" fill="#fff" opacity="0.13"/><path d="M1054,623 1078,614 1085,635 1061,643z" fill="#fff" opacity="0.25"/><path d="M1422,407h16v17h-16z" fill="#ff4a22" opacity="0.07"/><path d="M917,778h10v21h-10z" fill="#ff4a22" opacity="0.16"/><path d="M737,722 755,720 756,733 738,735z" fill="#fff" opacity="0.21"/><path d="M625,490h16v24h-16z" fill="#ff4a22" opacity="0.08"/><path d="M1182,32h25v12h-25z" fill="#fff" opacity="0.12"/><path d="M974,727 995,734 992,743 971,736z" fill="#ff4a22" opacity="0.14"/><path d="M800,470h18v16h-18z" fill="#fff" opacity="0.25"/><path d="M1124,186 1137,190 1133,205 1120,200z" fill="#fff" opacity="0.12"/><path d="M925,372h12v22h-12z" fill="#ff4a22" opacity="0.11"/><path d="M656,752h11v23h-11z" fill="#ff4a22" opacity="0.15"/><path d="M548,615h16v9h-16z" fill="#fff" opacity="0.14"/><path d="M510,731h26v23h-26z" fill="#fff" opacity="0.20"/><path d="M857,743h11v25h-11z" fill="#ff4a22" opacity="0.11"/><path d="M1285,216 1296,213 1299,224 1288,227z" fill="#ff4a22" opacity="0.14"/><path d="M1182,422h19v11h-19z" fill="#fff" opacity="0.25"/><path d="M569,692 583,690 585,706 571,708z" fill="#fff" opacity="0.24"/><path d="M1196,957h9v11h-9z" fill="#ff4a22" opacity="0.07"/><path d="M1113,914 1124,910 1128,920 1117,925z" fill="#ff4a22" opacity="0.07"/><path d="M1370,140h20v13h-20z" fill="#fff" opacity="0.22"/><path d="M1341,1069 1349,1070 1347,1080 1339,1078z" fill="#ff4a22" opacity="0.11"/><path d="M962,297h19v24h-19z" fill="#ff4a22" opacity="0.15"/><path d="M396,527h10v13h-10z" fill="#fff" opacity="0.20"/><path d="M413,557h23v11h-23z" fill="#7a55ee" opacity="0.08"/><path d="M451,514h19v15h-19z" fill="#fff" opacity="0.15"/><path d="M709,544h22v16h-22z" fill="#ff4a22" opacity="0.09"/><path d="M1366,328h11v16h-11z" fill="#ff4a22" opacity="0.14"/><path d="M1005,609h18v15h-18z" fill="#fff" opacity="0.22"/><path d="M1113,275h14v11h-14z" fill="#fff" opacity="0.25"/><path d="M1128,62h22v25h-22z" fill="#ff4a22" opacity="0.09"/><path d="M1143,627h13v17h-13z" fill="#ff4a22" opacity="0.09"/><path d="M973,297 990,297 989,318 972,317z" fill="#ff4a22" opacity="0.13"/><path d="M1284,172h28v26h-28z" fill="#ff4a22" opacity="0.06"/><path d="M1195,450h19v26h-19z" fill="#ff4a22" opacity="0.13"/><path d="M447,525h14v25h-14z" fill="#7a55ee" opacity="0.11"/><path d="M627,768h14v22h-14z" fill="#fff" opacity="0.22"/><path d="M1141,107 1167,114 1162,136 1135,130z" fill="#fff" opacity="0.23"/><path d="M1343,844 1361,850 1357,863 1339,858z" fill="#ff4a22" opacity="0.07"/><path d="M1302,955h6v9h-6z" fill="#ff4a22" opacity="0.14"/><path d="M772,540 782,538 784,547 774,549z" fill="#ff4a22" opacity="0.08"/><path d="M954,635h22v10h-22z" fill="#ff4a22" opacity="0.09"/><path d="M553,761h18v23h-18z" fill="#fff" opacity="0.24"/><path d="M1127,758h10v12h-10z" fill="#fff" opacity="0.21"/><path d="M607,788 629,787 630,808 608,808z" fill="#fff" opacity="0.18"/><path d="M1027,375 1038,375 1038,392 1027,392z" fill="#fff" opacity="0.11"/><path d="M1317,316h16v19h-16z" fill="#ff4a22" opacity="0.09"/><path d="M881,364h12v15h-12z" fill="#fff" opacity="0.23"/><path d="M757,467h28v19h-28z" fill="#fff" opacity="0.16"/><path d="M1196,741 1208,744 1202,769 1190,766z" fill="#fff" opacity="0.15"/><path d="M1273,73h23v17h-23z" fill="#ff4a22" opacity="0.12"/><path d="M467,495h14v13h-14z" fill="#ff4a22" opacity="0.13"/><path d="M660,657 676,663 671,674 656,668z" fill="#fff" opacity="0.13"/><path d="M1027,535h15v22h-15z" fill="#fff" opacity="0.18"/><path d="M1320,490h17v18h-17z" fill="#fff" opacity="0.15"/><path d="M1059,430h22v18h-22z" fill="#ff4a22" opacity="0.14"/><path d="M779,763 795,758 800,772 784,777z" fill="#ff4a22" opacity="0.16"/><path d="M919,691 927,694 922,709 914,706z" fill="#ff4a22" opacity="0.14"/><path d="M442,611 463,616 457,640 436,635z" fill="#7a55ee" opacity="0.12"/><path d="M1051,55h23v25h-23z" fill="#ff4a22" opacity="0.11"/><path d="M570,625h19v9h-19z" fill="#fff" opacity="0.20"/><path d="M949,794h17v13h-17z" fill="#ff4a22" opacity="0.15"/><path d="M1241,843h16v16h-16z" fill="#fff" opacity="0.14"/><path d="M1331,355h27v17h-27z" fill="#fff" opacity="0.13"/><path d="M261,781h16v15h-16z" fill="#fff" opacity="0.13"/><path d="M1330,455h24v14h-24z" fill="#ff4a22" opacity="0.07"/><path d="M1349,66h10v10h-10z" fill="#ff4a22" opacity="0.09"/><path d="M1311,811h27v14h-27z" fill="#ff4a22" opacity="0.12"/><path d="M583,507h18v25h-18z" fill="#fff" opacity="0.22"/><path d="M1111,394h15v15h-15z" fill="#ff4a22" opacity="0.07"/><path d="M1263,531h13v16h-13z" fill="#ff4a22" opacity="0.13"/><path d="M1366,356h14v14h-14z" fill="#fff" opacity="0.14"/><path d="M690,471h28v18h-28z" fill="#fff" opacity="0.22"/><path d="M1367,1108h6v9h-6z" fill="#ff4a22" opacity="0.08"/><path d="M1423,485 1439,485 1439,505 1423,505z" fill="#fff" opacity="0.10"/><path d="M795,652h21v11h-21z" fill="#fff" opacity="0.20"/><path d="M1203,494h10v22h-10z" fill="#ff4a22" opacity="0.10"/><path d="M1165,462h17v25h-17z" fill="#fff" opacity="0.12"/><path d="M345,732h16v18h-16z" fill="#fff" opacity="0.14"/><path d="M1407,1134h6v6h-6z" fill="#ff4a22" opacity="0.16"/><path d="M1114,746h11v21h-11z" fill="#ff4a22" opacity="0.15"/><path d="M1132,723h13v17h-13z" fill="#ff4a22" opacity="0.06"/><path d="M386,704 406,705 404,725 385,723z" fill="#fff" opacity="0.16"/><path d="M962,217 971,218 968,243 959,243z" fill="#fff" opacity="0.17"/><path d="M1396,600h21v10h-21z" fill="#fff" opacity="0.24"/><path d="M420,596h26v13h-26z" fill="#fff" opacity="0.18"/><path d="M505,482h21v14h-21z" fill="#fff" opacity="0.16"/><path d="M381,628h21v15h-21z" fill="#7a55ee" opacity="0.12"/><path d="M581,630h25v22h-25z" fill="#fff" opacity="0.16"/><path d="M1307,73h25v13h-25z" fill="#ff4a22" opacity="0.16"/><path d="M1297,877h13v14h-13z" fill="#ff4a22" opacity="0.10"/><path d="M1181,43h9v15h-9z" fill="#fff" opacity="0.15"/><path d="M1081,251h21v17h-21z" fill="#fff" opacity="0.24"/><path d="M428,779h14v23h-14z" fill="#ff4a22" opacity="0.07"/><path d="M1090,681h20v18h-20z" fill="#fff" opacity="0.12"/><path d="M1000,487h14v10h-14z" fill="#ff4a22" opacity="0.06"/><path d="M1109,596h21v23h-21z" fill="#fff" opacity="0.15"/><path d="M919,636h16v16h-16z" fill="#ff4a22" opacity="0.07"/><path d="M1243,994h10v7h-10z" fill="#ff4a22" opacity="0.10"/><path d="M958,208h26v23h-26z" fill="#fff" opacity="0.12"/><path d="M1142,809h22v26h-22z" fill="#fff" opacity="0.23"/><path d="M1057,369h13v20h-13z" fill="#fff" opacity="0.24"/><path d="M381,727h12v26h-12z" fill="#ff4a22" opacity="0.06"/><path d="M1246,863h10v19h-10z" fill="#fff" opacity="0.22"/><path d="M1265,460h14v12h-14z" fill="#fff" opacity="0.24"/><path d="M1271,435h15v25h-15z" fill="#ff4a22" opacity="0.15"/><path d="M1377,55h19v11h-19z" fill="#fff" opacity="0.11"/><path d="M1061,346h17v18h-17z" fill="#fff" opacity="0.21"/><path d="M934,584h24v12h-24z" fill="#fff" opacity="0.15"/><path d="M1063,195h24v25h-24z" fill="#fff" opacity="0.12"/><path d="M1044,138 1059,141 1057,152 1042,148z" fill="#ff4a22" opacity="0.15"/><path d="M557,544h19v22h-19z" fill="#ff4a22" opacity="0.12"/><path d="M879,653h15v17h-15z" fill="#ff4a22" opacity="0.09"/><path d="M698,618h12v15h-12z" fill="#fff" opacity="0.25"/><path d="M458,776h13v12h-13z" fill="#fff" opacity="0.15"/><path d="M505,753 516,752 517,764 506,765z" fill="#fff" opacity="0.11"/><path d="M1235,592h21v17h-21z" fill="#fff" opacity="0.19"/><path d="M1352,820h25v21h-25z" fill="#ff4a22" opacity="0.11"/><path d="M522,560 531,562 526,584 517,582z" fill="#fff" opacity="0.15"/><path d="M622,476h9v16h-9z" fill="#fff" opacity="0.20"/><path d="M499,749 521,756 514,778 493,771z" fill="#fff" opacity="0.20"/><path d="M903,358h19v11h-19z" fill="#ff4a22" opacity="0.10"/><path d="M1248,805h28v21h-28z" fill="#fff" opacity="0.22"/><path d="M919,507h21v20h-21z" fill="#fff" opacity="0.24"/><path d="M340,662h15v25h-15z" fill="#7a55ee" opacity="0.09"/><path d="M644,712h20v24h-20z" fill="#fff" opacity="0.17"/><path d="M1109,911h22v24h-22z" fill="#ff4a22" opacity="0.14"/><path d="M1034,323h13v11h-13z" fill="#fff" opacity="0.11"/><path d="M1248,300 1260,298 1263,317 1251,319z" fill="#ff4a22" opacity="0.08"/><path d="M762,501h27v10h-27z" fill="#ff4a22" opacity="0.12"/><path d="M963,577h26v10h-26z" fill="#ff4a22" opacity="0.12"/><path d="M937,397h28v24h-28z" fill="#fff" opacity="0.13"/><path d="M653,688h21v22h-21z" fill="#fff" opacity="0.21"/><path d="M1018,447h12v20h-12z" fill="#ff4a22" opacity="0.15"/><path d="M1195,546h23v11h-23z" fill="#fff" opacity="0.11"/><path d="M1376,664h14v14h-14z" fill="#fff" opacity="0.15"/><path d="M944,614h25v22h-25z" fill="#fff" opacity="0.20"/><path d="M1167,264h12v9h-12z" fill="#fff" opacity="0.20"/><path d="M909,333h20v17h-20z" fill="#ff4a22" opacity="0.15"/><path d="M1289,111h21v21h-21z" fill="#fff" opacity="0.24"/><path d="M1276,28h9v20h-9z" fill="#ff4a22" opacity="0.07"/><path d="M1107,378h27v21h-27z" fill="#fff" opacity="0.12"/><path d="M747,758h21v16h-21z" fill="#fff" opacity="0.22"/><path d="M668,506 692,515 687,529 662,520z" fill="#ff4a22" opacity="0.12"/><path d="M600,499h20v23h-20z" fill="#ff4a22" opacity="0.06"/><path d="M335,655h24v12h-24z" fill="#7a55ee" opacity="0.15"/><path d="M1216,553h13v13h-13z" fill="#ff4a22" opacity="0.14"/><path d="M1008,425h10v16h-10z" fill="#ff4a22" opacity="0.09"/><path d="M919,696h13v12h-13z" fill="#fff" opacity="0.21"/><path d="M809,617 820,613 823,622 812,626z" fill="#ff4a22" opacity="0.10"/><path d="M1372,201 1391,193 1397,207 1378,215z" fill="#ff4a22" opacity="0.06"/><path d="M1075,263h27v14h-27z" fill="#fff" opacity="0.17"/><path d="M1101,468 1112,470 1109,495 1098,494z" fill="#fff" opacity="0.18"/><path d="M1272,210h27v25h-27z" fill="#fff" opacity="0.18"/><path d="M591,604h23v22h-23z" fill="#fff" opacity="0.12"/><path d="M650,704 672,696 676,706 653,714z" fill="#fff" opacity="0.14"/><path d="M770,520h24v25h-24z" fill="#ff4a22" opacity="0.11"/><path d="M333,723 348,729 340,749 325,743z" fill="#ff4a22" opacity="0.16"/><path d="M877,407h25v17h-25z" fill="#ff4a22" opacity="0.07"/><path d="M475,536h26v16h-26z" fill="#fff" opacity="0.16"/><path d="M934,385h26v11h-26z" fill="#ff4a22" opacity="0.07"/><path d="M565,467h17v12h-17z" fill="#ff4a22" opacity="0.16"/><path d="M865,600h19v17h-19z" fill="#ff4a22" opacity="0.15"/><path d="M538,676h12v12h-12z" fill="#ff4a22" opacity="0.13"/><path d="M1295,895h12v11h-12z" fill="#ff4a22" opacity="0.12"/><path d="M1294,486 1316,493 1313,502 1291,495z" fill="#ff4a22" opacity="0.09"/><path d="M343,490h23v11h-23z" fill="#7a55ee" opacity="0.08"/><path d="M1442,1069h10v11h-10z" fill="#ff4a22" opacity="0.15"/><path d="M970,630h19v9h-19z" fill="#ff4a22" opacity="0.08"/><path d="M668,662 694,656 696,665 670,671z" fill="#ff4a22" opacity="0.13"/><path d="M1272,70 1283,66 1289,83 1278,87z" fill="#ff4a22" opacity="0.09"/><path d="M1201,544h17v25h-17z" fill="#fff" opacity="0.20"/><path d="M1362,407h14v15h-14z" fill="#fff" opacity="0.25"/><path d="M579,503h21v15h-21z" fill="#ff4a22" opacity="0.07"/><path d="M546,496h17v26h-17z" fill="#fff" opacity="0.11"/><path d="M265,752h14v21h-14z" fill="#fff" opacity="0.18"/><path d="M583,611h17v25h-17z" fill="#fff" opacity="0.15"/><path d="M1579,1057h6v9h-6z" fill="#ff4a22" opacity="0.10"/><path d="M1306,344h18v21h-18z" fill="#fff" opacity="0.16"/><path d="M890,649 910,644 914,661 894,666z" fill="#fff" opacity="0.14"/><path d="M1028,712h16v20h-16z" fill="#ff4a22" opacity="0.14"/><path d="M831,787h12v12h-12z" fill="#ff4a22" opacity="0.09"/><path d="M1301,871h23v17h-23z" fill="#ff4a22" opacity="0.13"/><path d="M822,649h11v16h-11z" fill="#ff4a22" opacity="0.07"/><path d="M774,534 791,535 790,556 773,555z" fill="#fff" opacity="0.16"/><path d="M1167,19h23v26h-23z" fill="#fff" opacity="0.15"/><path d="M858,447h13v23h-13z" fill="#fff" opacity="0.25"/><path d="M1043,585 1069,586 1069,608 1042,608z" fill="#ff4a22" opacity="0.16"/><path d="M1085,420 1112,417 1114,437 1087,440z" fill="#ff4a22" opacity="0.07"/><path d="M832,474h24v24h-24z" fill="#ff4a22" opacity="0.13"/><path d="M970,138 994,146 987,166 963,157z" fill="#ff4a22" opacity="0.16"/><path d="M1141,621h25v13h-25z" fill="#ff4a22" opacity="0.10"/><path d="M1153,62h17v22h-17z" fill="#fff" opacity="0.20"/><path d="M1105,180 1122,187 1116,203 1098,196z" fill="#fff" opacity="0.11"/><path d="M1408,85h9v22h-9z" fill="#fff" opacity="0.21"/><path d="M257,735h25v25h-25z" fill="#fff" opacity="0.13"/><path d="M863,734 877,732 878,742 865,744z" fill="#ff4a22" opacity="0.15"/><path d="M656,709h27v17h-27z" fill="#ff4a22" opacity="0.08"/><path d="M820,482 842,475 844,484 823,491z" fill="#ff4a22" opacity="0.07"/><path d="M645,662h11v18h-11z" fill="#fff" opacity="0.16"/><path d="M1030,463h18v15h-18z" fill="#fff" opacity="0.14"/><path d="M499,642h24v18h-24z" fill="#fff" opacity="0.22"/><path d="M958,280h18v11h-18z" fill="#ff4a22" opacity="0.09"/><path d="M1002,484h19v11h-19z" fill="#ff4a22" opacity="0.13"/><path d="M1304,894h10v21h-10z" fill="#fff" opacity="0.10"/><path d="M1361,279h13v24h-13z" fill="#fff" opacity="0.24"/><path d="M1420,472h16v23h-16z" fill="#fff" opacity="0.19"/><path d="M615,715h13v21h-13z" fill="#fff" opacity="0.19"/><path d="M1024,739 1051,740 1050,758 1024,758z" fill="#fff" opacity="0.17"/><path d="M1198,681h27v11h-27z" fill="#ff4a22" opacity="0.13"/><path d="M1356,414h26v16h-26z" fill="#ff4a22" opacity="0.16"/><path d="M1308,975h9v8h-9z" fill="#fff" opacity="0.20"/><path d="M931,231h27v23h-27z" fill="#ff4a22" opacity="0.08"/><path d="M1020,304h10v15h-10z" fill="#fff" opacity="0.13"/><path d="M1226,574h18v21h-18z" fill="#fff" opacity="0.20"/><path d="M1239,173 1260,165 1266,183 1245,191z" fill="#fff" opacity="0.19"/><path d="M1334,210h22v19h-22z" fill="#fff" opacity="0.21"/><path d="M1232,34h18v10h-18z" fill="#ff4a22" opacity="0.09"/><path d="M696,555 710,562 705,572 691,566z" fill="#fff" opacity="0.10"/><path d="M1178,308h14v11h-14z" fill="#fff" opacity="0.22"/><path d="M1217,135h23v14h-23z" fill="#ff4a22" opacity="0.10"/><path d="M1024,441 1048,444 1047,457 1022,454z" fill="#fff" opacity="0.19"/><path d="M946,592h12v14h-12z" fill="#ff4a22" opacity="0.07"/><path d="M417,744h17v26h-17z" fill="#ff4a22" opacity="0.11"/><path d="M1190,609h17v15h-17z" fill="#fff" opacity="0.20"/><path d="M1050,555h19v18h-19z" fill="#fff" opacity="0.18"/><path d="M1111,354h20v25h-20z" fill="#fff" opacity="0.20"/><path d="M992,747h25v13h-25z" fill="#ff4a22" opacity="0.13"/><path d="M867,312h13v25h-13z" fill="#fff" opacity="0.21"/><path d="M1170,230h22v21h-22z" fill="#fff" opacity="0.17"/><path d="M1222,941h6v9h-6z" fill="#ff4a22" opacity="0.14"/><path d="M499,563h11v15h-11z" fill="#ff4a22" opacity="0.10"/><path d="M1253,505h26v20h-26z" fill="#ff4a22" opacity="0.12"/><path d="M1224,971h6v8h-6z" fill="#ff4a22" opacity="0.15"/><path d="M1419,424h16v15h-16z" fill="#ff4a22" opacity="0.06"/><path d="M1075,150h9v11h-9z" fill="#ff4a22" opacity="0.08"/><path d="M1337,329h17v9h-17z" fill="#ff4a22" opacity="0.11"/><path d="M1397,54h12v23h-12z" fill="#ff4a22" opacity="0.10"/><path d="M1238,528h13v25h-13z" fill="#ff4a22" opacity="0.10"/><path d="M745,555h20v16h-20z" fill="#fff" opacity="0.10"/><path d="M1147,853h12v16h-12z" fill="#fff" opacity="0.25"/><path d="M1149,748h16v14h-16z" fill="#ff4a22" opacity="0.15"/><path d="M1303,603h21v15h-21z" fill="#ff4a22" opacity="0.10"/><path d="M1362,596 1387,590 1393,612 1368,618z" fill="#ff4a22" opacity="0.08"/><path d="M808,468h24v25h-24z" fill="#ff4a22" opacity="0.07"/><path d="M1281,651h27v15h-27z" fill="#ff4a22" opacity="0.12"/><path d="M1228,843h27v23h-27z" fill="#fff" opacity="0.13"/><path d="M1335,741h14v9h-14z" fill="#fff" opacity="0.17"/><path d="M1320,761h17v21h-17z" fill="#fff" opacity="0.11"/><path d="M338,717h24v26h-24z" fill="#fff" opacity="0.24"/><path d="M1121,852h15v11h-15z" fill="#fff" opacity="0.12"/><path d="M550,726 574,729 572,746 548,743z" fill="#fff" opacity="0.20"/><path d="M1038,433h19v14h-19z" fill="#fff" opacity="0.18"/><path d="M436,735h17v26h-17z" fill="#ff4a22" opacity="0.12"/><path d="M1028,226h27v15h-27z" fill="#fff" opacity="0.13"/><path d="M994,416 1015,424 1010,440 989,432z" fill="#ff4a22" opacity="0.08"/><path d="M889,390 915,393 913,404 887,401z" fill="#ff4a22" opacity="0.07"/><path d="M1211,420h13v15h-13z" fill="#ff4a22" opacity="0.10"/><path d="M1264,293 1279,298 1274,312 1259,307z" fill="#fff" opacity="0.14"/><path d="M535,668h12v24h-12z" fill="#ff4a22" opacity="0.09"/><path d="M1093,535 1112,533 1115,556 1096,559z" fill="#fff" opacity="0.23"/><path d="M1306,125 1318,129 1310,149 1299,144z" fill="#fff" opacity="0.15"/><path d="M1386,809h10v18h-10z" fill="#fff" opacity="0.16"/><path d="M542,637h21v18h-21z" fill="#ff4a22" opacity="0.11"/><path d="M1295,332 1308,332 1308,345 1295,345z" fill="#fff" opacity="0.11"/><path d="M1384,1116h7v7h-7z" fill="#fff" opacity="0.17"/><path d="M785,462h17v11h-17z" fill="#ff4a22" opacity="0.06"/><path d="M1232,853h28v23h-28z" fill="#ff4a22" opacity="0.07"/><path d="M1233,394 1252,385 1260,402 1241,410z" fill="#fff" opacity="0.25"/><path d="M961,699h28v13h-28z" fill="#ff4a22" opacity="0.13"/><path d="M792,620h21v21h-21z" fill="#fff" opacity="0.19"/><path d="M1078,676h28v10h-28z" fill="#ff4a22" opacity="0.10"/><path d="M888,751 912,748 915,772 890,775z" fill="#ff4a22" opacity="0.06"/><path d="M986,538 996,537 997,553 986,554z" fill="#ff4a22" opacity="0.13"/><path d="M1291,221h19v9h-19z" fill="#fff" opacity="0.17"/><path d="M590,658h9v13h-9z" fill="#ff4a22" opacity="0.09"/><path d="M859,623h18v11h-18z" fill="#fff" opacity="0.24"/><path d="M1330,1136h8v9h-8z" fill="#fff" opacity="0.14"/><path d="M764,785 779,785 779,796 764,795z" fill="#ff4a22" opacity="0.10"/><path d="M1381,136h20v25h-20z" fill="#ff4a22" opacity="0.10"/><path d="M935,603h25v20h-25z" fill="#ff4a22" opacity="0.10"/><path d="M1352,155h13v10h-13z" fill="#ff4a22" opacity="0.07"/><path d="M1046,76 1068,79 1064,100 1042,96z" fill="#fff" opacity="0.11"/><path d="M1140,380h13v26h-13z" fill="#fff" opacity="0.18"/><path d="M971,501h10v14h-10z" fill="#ff4a22" opacity="0.14"/><path d="M515,765h27v20h-27z" fill="#ff4a22" opacity="0.07"/><path d="M1035,74h15v18h-15z" fill="#fff" opacity="0.18"/><path d="M539,524 552,523 553,535 540,536z" fill="#ff4a22" opacity="0.12"/><path d="M1281,866h12v13h-12z" fill="#ff4a22" opacity="0.13"/><path d="M1181,311h26v21h-26z" fill="#fff" opacity="0.11"/><path d="M446,526h23v24h-23z" fill="#7a55ee" opacity="0.13"/><path d="M778,751 791,754 787,772 774,769z" fill="#fff" opacity="0.17"/><path d="M709,479h10v15h-10z" fill="#ff4a22" opacity="0.08"/><path d="M1316,590h27v11h-27z" fill="#fff" opacity="0.23"/><path d="M507,555h24v22h-24z" fill="#ff4a22" opacity="0.12"/><path d="M1306,223h24v14h-24z" fill="#fff" opacity="0.18"/><path d="M1376,705h18v10h-18z" fill="#ff4a22" opacity="0.07"/><path d="M1295,433h22v11h-22z" fill="#fff" opacity="0.20"/><path d="M949,633h11v17h-11z" fill="#fff" opacity="0.18"/><path d="M1006,295h11v11h-11z" fill="#fff" opacity="0.22"/><path d="M1227,282h23v12h-23z" fill="#fff" opacity="0.10"/><path d="M339,681h13v19h-13z" fill="#7a55ee" opacity="0.13"/><path d="M1355,220h15v10h-15z" fill="#ff4a22" opacity="0.12"/><path d="M1216,193h16v11h-16z" fill="#fff" opacity="0.13"/><path d="M918,584h24v24h-24z" fill="#ff4a22" opacity="0.12"/><path d="M1310,167h25v25h-25z" fill="#ff4a22" opacity="0.13"/><path d="M1371,311 1395,305 1398,318 1374,324z" fill="#fff" opacity="0.17"/><path d="M1191,468h21v22h-21z" fill="#fff" opacity="0.16"/><path d="M711,698h25v22h-25z" fill="#fff" opacity="0.17"/><path d="M432,644h11v16h-11z" fill="#fff" opacity="0.10"/><path d="M819,635 832,640 827,652 815,647z" fill="#ff4a22" opacity="0.10"/><path d="M457,625h9v12h-9z" fill="#7a55ee" opacity="0.11"/><path d="M1295,792h28v21h-28z" fill="#ff4a22" opacity="0.13"/><path d="M1196,102 1217,105 1215,121 1194,119z" fill="#ff4a22" opacity="0.10"/><path d="M300,767h18v21h-18z" fill="#fff" opacity="0.23"/><path d="M1033,528h23v24h-23z" fill="#ff4a22" opacity="0.13"/><path d="M461,699 487,688 494,706 469,717z" fill="#fff" opacity="0.22"/><path d="M1175,947h10v8h-10z" fill="#ff4a22" opacity="0.13"/><path d="M908,733 934,729 937,744 911,749z" fill="#ff4a22" opacity="0.10"/><path d="M1365,376h12v22h-12z" fill="#fff" opacity="0.18"/><path d="M640,738h14v22h-14z" fill="#fff" opacity="0.22"/><path d="M1098,425 1126,428 1123,452 1096,449z" fill="#ff4a22" opacity="0.07"/><path d="M1308,149 1325,148 1327,171 1311,172z" fill="#ff4a22" opacity="0.14"/><path d="M1405,415h13v24h-13z" fill="#ff4a22" opacity="0.11"/><path d="M1199,680h17v19h-17z" fill="#fff" opacity="0.23"/><path d="M435,786 458,791 454,808 431,803z" fill="#ff4a22" opacity="0.15"/><path d="M1251,827h21v14h-21z" fill="#fff" opacity="0.19"/><path d="M972,158h27v13h-27z" fill="#fff" opacity="0.21"/><path d="M1092,53h19v17h-19z" fill="#fff" opacity="0.14"/><path d="M995,278h20v23h-20z" fill="#fff" opacity="0.25"/><path d="M374,466h27v16h-27z" fill="#7a55ee" opacity="0.15"/><path d="M1260,541h15v12h-15z" fill="#fff" opacity="0.14"/><path d="M858,246h22v12h-22z" fill="#fff" opacity="0.18"/><path d="M1320,1110h11v10h-11z" fill="#ff4a22" opacity="0.07"/><path d="M1315,633h20v20h-20z" fill="#ff4a22" opacity="0.09"/><path d="M1404,543h11v11h-11z" fill="#fff" opacity="0.22"/><path d="M1048,601 1061,604 1059,617 1046,614z" fill="#fff" opacity="0.24"/><path d="M1355,850 1367,846 1375,869 1364,873z" fill="#fff" opacity="0.12"/><path d="M1365,246 1385,247 1383,272 1363,271z" fill="#ff4a22" opacity="0.09"/><path d="M931,754h13v13h-13z" fill="#ff4a22" opacity="0.10"/><path d="M1335,669h23v24h-23z" fill="#fff" opacity="0.20"/><path d="M1267,555h26v19h-26z" fill="#fff" opacity="0.17"/><path d="M1311,272h23v20h-23z" fill="#fff" opacity="0.24"/><path d="M532,788h27v20h-27z" fill="#ff4a22" opacity="0.09"/><path d="M1340,1037 1345,1036 1346,1042 1341,1043z" fill="#ff4a22" opacity="0.12"/><path d="M1124,706 1148,701 1150,711 1126,716z" fill="#fff" opacity="0.18"/><path d="M1206,663h13v12h-13z" fill="#ff4a22" opacity="0.14"/><path d="M1117,114h19v21h-19z" fill="#fff" opacity="0.14"/><path d="M944,681h15v12h-15z" fill="#fff" opacity="0.11"/><path d="M981,539h17v19h-17z" fill="#ff4a22" opacity="0.15"/><path d="M1269,48h22v23h-22z" fill="#fff" opacity="0.23"/><path d="M1326,332h14v16h-14z" fill="#fff" opacity="0.13"/><path d="M893,258h10v20h-10z" fill="#fff" opacity="0.24"/><path d="M1166,263h23v24h-23z" fill="#ff4a22" opacity="0.10"/><path d="M1117,719h12v25h-12z" fill="#fff" opacity="0.16"/><path d="M1154,730 1174,722 1182,742 1162,750z" fill="#fff" opacity="0.11"/><path d="M658,487h22v17h-22z" fill="#ff4a22" opacity="0.07"/><path d="M1370,779h15v13h-15z" fill="#fff" opacity="0.17"/><path d="M777,768h20v13h-20z" fill="#fff" opacity="0.10"/><path d="M1014,217h16v22h-16z" fill="#fff" opacity="0.12"/><path d="M1342,1092h5v10h-5z" fill="#ff4a22" opacity="0.14"/><path d="M1156,562h26v10h-26z" fill="#ff4a22" opacity="0.14"/><path d="M914,576h11v18h-11z" fill="#fff" opacity="0.16"/><path d="M608,528h14v15h-14z" fill="#fff" opacity="0.18"/><path d="M988,290 1000,287 1005,311 993,313z" fill="#fff" opacity="0.11"/><path d="M1369,166h24v20h-24z" fill="#fff" opacity="0.14"/><path d="M928,222h9v20h-9z" fill="#ff4a22" opacity="0.06"/><path d="M1005,284h18v19h-18z" fill="#ff4a22" opacity="0.07"/><path d="M1311,1005h8v11h-8z" fill="#fff" opacity="0.13"/><path d="M1309,787 1322,785 1326,809 1313,811z" fill="#fff" opacity="0.17"/><path d="M1331,53h12v16h-12z" fill="#ff4a22" opacity="0.12"/><path d="M1110,312h18v19h-18z" fill="#ff4a22" opacity="0.07"/><path d="M613,490h26v26h-26z" fill="#fff" opacity="0.15"/><path d="M1078,533h17v24h-17z" fill="#ff4a22" opacity="0.15"/><path d="M349,513h25v25h-25z" fill="#7a55ee" opacity="0.07"/><path d="M972,149h14v20h-14z" fill="#ff4a22" opacity="0.14"/><path d="M859,697 873,699 871,714 858,713z" fill="#ff4a22" opacity="0.16"/><path d="M751,622h22v10h-22z" fill="#ff4a22" opacity="0.12"/><path d="M1393,25h18v21h-18z" fill="#ff4a22" opacity="0.12"/><path d="M1373,280h17v25h-17z" fill="#fff" opacity="0.16"/><path d="M775,580h16v26h-16z" fill="#ff4a22" opacity="0.15"/><path d="M1167,557h18v15h-18z" fill="#ff4a22" opacity="0.09"/><path d="M476,568h9v20h-9z" fill="#fff" opacity="0.16"/><path d="M1145,829h27v12h-27z" fill="#ff4a22" opacity="0.09"/><path d="M1243,22h13v14h-13z" fill="#ff4a22" opacity="0.16"/><path d="M509,558h10v15h-10z" fill="#fff" opacity="0.21"/><path d="M1136,815h14v22h-14z" fill="#ff4a22" opacity="0.09"/><path d="M877,554h24v20h-24z" fill="#ff4a22" opacity="0.11"/><path d="M501,685h11v20h-11z" fill="#fff" opacity="0.14"/><path d="M1280,54h23v13h-23z" fill="#fff" opacity="0.20"/><path d="M674,781h14v12h-14z" fill="#fff" opacity="0.22"/><path d="M800,615h15v22h-15z" fill="#fff" opacity="0.14"/><path d="M962,614h16v21h-16z" fill="#ff4a22" opacity="0.14"/><path d="M1141,515 1151,518 1144,540 1134,537z" fill="#ff4a22" opacity="0.10"/><path d="M1347,443 1363,437 1372,461 1355,467z" fill="#ff4a22" opacity="0.12"/><path d="M261,771h25v20h-25z" fill="#fff" opacity="0.18"/><path d="M1274,859h10v24h-10z" fill="#ff4a22" opacity="0.11"/><path d="M451,630h25v12h-25z" fill="#fff" opacity="0.21"/><path d="M893,647h11v25h-11z" fill="#ff4a22" opacity="0.13"/><path d="M637,549h23v21h-23z" fill="#fff" opacity="0.13"/><path d="M1397,45h19v23h-19z" fill="#ff4a22" opacity="0.16"/><path d="M815,745h26v22h-26z" fill="#fff" opacity="0.24"/><path d="M1333,955h7v10h-7z" fill="#fff" opacity="0.23"/><path d="M1199,82h26v12h-26z" fill="#fff" opacity="0.22"/><path d="M1388,988h12v12h-12z" fill="#fff" opacity="0.17"/><path d="M1294,434h10v11h-10z" fill="#ff4a22" opacity="0.15"/><path d="M1306,246 1323,244 1326,259 1309,262z" fill="#ff4a22" opacity="0.16"/><path d="M517,638 543,640 542,660 515,658z" fill="#ff4a22" opacity="0.13"/><path d="M1083,514h23v16h-23z" fill="#fff" opacity="0.18"/><path d="M1105,78h16v25h-16z" fill="#ff4a22" opacity="0.08"/><path d="M1293,231h19v18h-19z" fill="#ff4a22" opacity="0.07"/><path d="M1542,1058 1553,1055 1556,1063 1544,1066z" fill="#ff4a22" opacity="0.12"/><path d="M1398,505 1418,506 1418,519 1398,519z" fill="#fff" opacity="0.16"/><path d="M1005,285h25v13h-25z" fill="#fff" opacity="0.23"/><path d="M1317,837h23v14h-23z" fill="#ff4a22" opacity="0.15"/><path d="M1213,178h18v20h-18z" fill="#ff4a22" opacity="0.09"/><path d="M1153,528 1164,527 1166,546 1154,547z" fill="#fff" opacity="0.14"/><path d="M1348,699h18v14h-18z" fill="#ff4a22" opacity="0.11"/><path d="M1371,563h19v21h-19z" fill="#ff4a22" opacity="0.16"/><path d="M1028,774h23v25h-23z" fill="#fff" opacity="0.15"/><path d="M1085,791h15v25h-15z" fill="#ff4a22" opacity="0.10"/><path d="M1406,523h14v18h-14z" fill="#fff" opacity="0.18"/><path d="M1158,565h15v16h-15z" fill="#ff4a22" opacity="0.14"/><path d="M1389,94 1413,90 1417,109 1393,114z" fill="#fff" opacity="0.23"/><path d="M1291,840h26v25h-26z" fill="#ff4a22" opacity="0.15"/><path d="M1322,1010h8v6h-8z" fill="#ff4a22" opacity="0.14"/><path d="M1262,744h11v12h-11z" fill="#fff" opacity="0.19"/><path d="M856,468h14v13h-14z" fill="#ff4a22" opacity="0.16"/><path d="M1383,736h21v17h-21z" fill="#ff4a22" opacity="0.15"/><path d="M1101,400h17v25h-17z" fill="#ff4a22" opacity="0.15"/><path d="M444,756h19v25h-19z" fill="#ff4a22" opacity="0.15"/><path d="M823,784h20v21h-20z" fill="#fff" opacity="0.24"/><path d="M1228,381 1251,388 1247,401 1224,393z" fill="#ff4a22" opacity="0.08"/><path d="M880,437h10v23h-10z" fill="#fff" opacity="0.11"/><path d="M516,600h19v18h-19z" fill="#ff4a22" opacity="0.13"/><path d="M1317,186h22v10h-22z" fill="#ff4a22" opacity="0.11"/><path d="M963,532 973,530 975,540 966,542z" fill="#ff4a22" opacity="0.15"/><path d="M1164,885h21v23h-21z" fill="#fff" opacity="0.12"/><path d="M1351,738h19v24h-19z" fill="#fff" opacity="0.11"/><path d="M1222,873h13v17h-13z" fill="#ff4a22" opacity="0.16"/><path d="M983,150h15v24h-15z" fill="#ff4a22" opacity="0.15"/><path d="M1040,129 1057,123 1066,147 1049,153z" fill="#fff" opacity="0.15"/><path d="M415,687h27v16h-27z" fill="#7a55ee" opacity="0.09"/><path d="M882,437h24v25h-24z" fill="#ff4a22" opacity="0.11"/><path d="M1201,432h20v14h-20z" fill="#ff4a22" opacity="0.08"/><path d="M1193,886h14v11h-14z" fill="#fff" opacity="0.12"/><path d="M971,418h22v18h-22z" fill="#fff" opacity="0.19"/><path d="M972,385 998,393 994,408 968,400z" fill="#ff4a22" opacity="0.07"/><path d="M746,773h27v26h-27z" fill="#ff4a22" opacity="0.12"/><path d="M762,644h12v12h-12z" fill="#fff" opacity="0.22"/><path d="M952,682 970,674 976,689 958,697z" fill="#ff4a22" opacity="0.06"/><path d="M851,560h10v26h-10z" fill="#ff4a22" opacity="0.06"/><path d="M344,764h17v14h-17z" fill="#ff4a22" opacity="0.15"/><path d="M463,515 489,517 489,528 462,526z" fill="#ff4a22" opacity="0.15"/><path d="M1168,200h21v10h-21z" fill="#ff4a22" opacity="0.09"/><path d="M965,210h22v16h-22z" fill="#ff4a22" opacity="0.07"/><path d="M1252,778h11v16h-11z" fill="#ff4a22" opacity="0.09"/><path d="M608,788h13v16h-13z" fill="#ff4a22" opacity="0.10"/><path d="M606,735 621,741 614,760 599,754z" fill="#fff" opacity="0.11"/><path d="M1419,561h12v17h-12z" fill="#fff" opacity="0.20"/><path d="M454,523h12v11h-12z" fill="#7a55ee" opacity="0.10"/><path d="M1189,313h11v23h-11z" fill="#fff" opacity="0.13"/><path d="M1314,659h27v17h-27z" fill="#ff4a22" opacity="0.14"/><path d="M1288,161h16v19h-16z" fill="#ff4a22" opacity="0.12"/><path d="M957,498 978,503 975,515 954,510z" fill="#ff4a22" opacity="0.09"/><path d="M1366,609 1379,606 1384,631 1370,633z" fill="#ff4a22" opacity="0.10"/><path d="M1215,853h25v21h-25z" fill="#fff" opacity="0.11"/><path d="M718,486h17v19h-17z" fill="#ff4a22" opacity="0.15"/><path d="M710,560 732,554 738,575 716,581z" fill="#fff" opacity="0.12"/><path d="M708,501h27v14h-27z" fill="#fff" opacity="0.12"/><path d="M1213,301h10v12h-10z" fill="#fff" opacity="0.16"/><path d="M971,142 984,147 976,164 963,158z" fill="#ff4a22" opacity="0.16"/><path d="M793,453h9v15h-9z" fill="#ff4a22" opacity="0.09"/><path d="M517,685h20v13h-20z" fill="#fff" opacity="0.21"/><path d="M556,691h20v14h-20z" fill="#fff" opacity="0.15"/><path d="M968,158h13v14h-13z" fill="#fff" opacity="0.15"/><path d="M701,476h21v16h-21z" fill="#fff" opacity="0.14"/><path d="M546,732h24v23h-24z" fill="#ff4a22" opacity="0.10"/><path d="M1320,1101h11v7h-11z" fill="#ff4a22" opacity="0.13"/><path d="M813,546 837,537 842,551 818,560z" fill="#fff" opacity="0.21"/><path d="M1012,266h16v23h-16z" fill="#ff4a22" opacity="0.12"/><path d="M1122,841h25v15h-25z" fill="#ff4a22" opacity="0.12"/><path d="M709,495 736,499 734,514 707,510z" fill="#fff" opacity="0.12"/><path d="M690,477h10v18h-10z" fill="#ff4a22" opacity="0.11"/><path d="M1236,316h21v11h-21z" fill="#ff4a22" opacity="0.08"/><path d="M639,628h23v21h-23z" fill="#fff" opacity="0.14"/><path d="M1016,725h24v19h-24z" fill="#fff" opacity="0.17"/><path d="M1325,431h18v25h-18z" fill="#ff4a22" opacity="0.13"/><path d="M1086,811h19v12h-19z" fill="#ff4a22" opacity="0.07"/><path d="M1226,631h25v12h-25z" fill="#ff4a22" opacity="0.09"/><path d="M1202,365h23v10h-23z" fill="#fff" opacity="0.24"/><path d="M1187,571 1207,568 1209,592 1189,594z" fill="#fff" opacity="0.18"/><path d="M1443,1102h7v7h-7z" fill="#ff4a22" opacity="0.11"/><path d="M756,606h19v9h-19z" fill="#ff4a22" opacity="0.13"/><path d="M1344,501h13v25h-13z" fill="#fff" opacity="0.24"/><path d="M1152,570h16v19h-16z" fill="#fff" opacity="0.17"/><path d="M1029,708 1049,715 1045,725 1025,719z" fill="#ff4a22" opacity="0.09"/><path d="M1414,514h22v25h-22z" fill="#fff" opacity="0.12"/><path d="M682,759h17v14h-17z" fill="#fff" opacity="0.21"/><path d="M914,634h17v18h-17z" fill="#ff4a22" opacity="0.06"/><path d="M1167,130h17v23h-17z" fill="#ff4a22" opacity="0.12"/><path d="M1170,447h18v10h-18z" fill="#ff4a22" opacity="0.13"/><path d="M297,677h26v12h-26z" fill="#fff" opacity="0.14"/><path d="M937,304h15v17h-15z" fill="#fff" opacity="0.22"/><path d="M1333,1013h6v10h-6z" fill="#fff" opacity="0.17"/><path d="M1330,486 1355,496 1349,511 1324,500z" fill="#fff" opacity="0.11"/><path d="M1216,684 1234,690 1226,711 1208,704z" fill="#fff" opacity="0.22"/><path d="M959,151 981,147 986,170 964,175z" fill="#fff" opacity="0.10"/><path d="M1286,250h21v20h-21z" fill="#ff4a22" opacity="0.06"/><path d="M984,286h10v10h-10z" fill="#fff" opacity="0.11"/><path d="M799,593 815,600 810,610 795,603z" fill="#ff4a22" opacity="0.09"/><path d="M771,610h20v23h-20z" fill="#ff4a22" opacity="0.13"/><path d="M438,465h21v15h-21z" fill="#7a55ee" opacity="0.08"/><path d="M1045,495h10v17h-10z" fill="#ff4a22" opacity="0.09"/><path d="M807,595h25v23h-25z" fill="#fff" opacity="0.22"/><path d="M503,609h12v23h-12z" fill="#fff" opacity="0.14"/><path d="M1016,775h15v10h-15z" fill="#fff" opacity="0.16"/><path d="M626,588h13v16h-13z" fill="#fff" opacity="0.19"/><path d="M1159,601h11v18h-11z" fill="#fff" opacity="0.16"/><path d="M1280,440 1296,446 1288,469 1272,463z" fill="#fff" opacity="0.25"/><path d="M1174,953h9v6h-9z" fill="#ff4a22" opacity="0.08"/><path d="M1170,364h24v12h-24z" fill="#ff4a22" opacity="0.11"/><path d="M1224,239 1245,242 1243,260 1221,257z" fill="#ff4a22" opacity="0.09"/><path d="M969,228h27v25h-27z" fill="#ff4a22" opacity="0.16"/><path d="M915,373h16v23h-16z" fill="#ff4a22" opacity="0.14"/><path d="M992,566h25v18h-25z" fill="#fff" opacity="0.18"/><path d="M542,549 558,555 551,573 535,567z" fill="#ff4a22" opacity="0.07"/><path d="M1074,597h14v14h-14z" fill="#ff4a22" opacity="0.10"/><path d="M1338,698 1358,692 1364,710 1344,717z" fill="#ff4a22" opacity="0.11"/><path d="M442,638h14v16h-14z" fill="#fff" opacity="0.21"/><path d="M1361,526h18v22h-18z" fill="#fff" opacity="0.12"/><path d="M414,579h15v25h-15z" fill="#7a55ee" opacity="0.10"/><path d="M1314,598h11v13h-11z" fill="#fff" opacity="0.11"/><path d="M664,579 681,581 679,601 663,599z" fill="#ff4a22" opacity="0.09"/><path d="M1080,687 1088,683 1094,698 1085,701z" fill="#fff" opacity="0.19"/><path d="M1186,589h17v18h-17z" fill="#fff" opacity="0.21"/><path d="M1191,330 1218,332 1216,355 1190,353z" fill="#ff4a22" opacity="0.08"/><path d="M366,740 386,746 383,755 363,750z" fill="#fff" opacity="0.14"/><path d="M889,647h23v25h-23z" fill="#ff4a22" opacity="0.11"/><path d="M1378,49h21v23h-21z" fill="#fff" opacity="0.16"/><path d="M1117,176h24v23h-24z" fill="#fff" opacity="0.17"/><path d="M436,527 461,528 460,553 435,553z" fill="#fff" opacity="0.16"/><path d="M1320,392h10v15h-10z" fill="#ff4a22" opacity="0.11"/><path d="M1318,579h25v11h-25z" fill="#ff4a22" opacity="0.08"/><path d="M481,517h19v23h-19z" fill="#ff4a22" opacity="0.16"/><path d="M1052,333h14v18h-14z" fill="#fff" opacity="0.23"/><path d="M1235,42h26v12h-26z" fill="#fff" opacity="0.10"/><path d="M1404,641h17v11h-17z" fill="#fff" opacity="0.13"/><path d="M351,787 361,786 362,799 352,800z" fill="#ff4a22" opacity="0.15"/><path d="M387,472h13v19h-13z" fill="#fff" opacity="0.15"/><path d="M1246,164h16v14h-16z" fill="#fff" opacity="0.21"/><path d="M865,229h26v23h-26z" fill="#fff" opacity="0.19"/><path d="M873,670h25v13h-25z" fill="#fff" opacity="0.12"/><path d="M972,232h9v24h-9z" fill="#ff4a22" opacity="0.16"/><path d="M449,488 460,491 455,505 444,501z" fill="#7a55ee" opacity="0.09"/><path d="M1119,733h12v13h-12z" fill="#ff4a22" opacity="0.06"/><path d="M614,634 631,627 640,649 624,656z" fill="#ff4a22" opacity="0.10"/><path d="M1286,822h22v11h-22z" fill="#ff4a22" opacity="0.16"/><path d="M821,675h26v25h-26z" fill="#ff4a22" opacity="0.10"/><path d="M1313,892 1339,886 1343,906 1317,912z" fill="#ff4a22" opacity="0.12"/><path d="M963,784 987,778 989,787 966,793z" fill="#fff" opacity="0.11"/><path d="M1364,524h19v18h-19z" fill="#fff" opacity="0.11"/><path d="M1183,274h10v17h-10z" fill="#fff" opacity="0.21"/><path d="M610,552h12v22h-12z" fill="#ff4a22" opacity="0.15"/><path d="M1093,768h16v19h-16z" fill="#fff" opacity="0.25"/><path d="M1157,134 1172,133 1173,146 1157,147z" fill="#ff4a22" opacity="0.06"/><path d="M1370,845h15v13h-15z" fill="#ff4a22" opacity="0.09"/><path d="M1042,564h16v21h-16z" fill="#ff4a22" opacity="0.07"/><path d="M1081,811h21v20h-21z" fill="#fff" opacity="0.17"/><path d="M1353,269 1370,273 1368,282 1351,278z" fill="#fff" opacity="0.20"/><path d="M935,223h26v26h-26z" fill="#fff" opacity="0.10"/><path d="M1063,218h23v11h-23z" fill="#ff4a22" opacity="0.07"/><path d="M1333,492h21v17h-21z" fill="#ff4a22" opacity="0.14"/><path d="M502,515h26v9h-26z" fill="#ff4a22" opacity="0.09"/><path d="M1154,410h19v16h-19z" fill="#fff" opacity="0.24"/><path d="M1278,408h26v22h-26z" fill="#ff4a22" opacity="0.11"/><path d="M1232,291 1245,287 1249,300 1236,304z" fill="#fff" opacity="0.18"/><path d="M728,592h22v12h-22z" fill="#ff4a22" opacity="0.10"/><path d="M922,607 947,599 954,623 930,631z" fill="#ff4a22" opacity="0.11"/><path d="M1337,560 1363,556 1365,571 1339,575z" fill="#fff" opacity="0.24"/><path d="M1355,881h20v11h-20z" fill="#ff4a22" opacity="0.07"/><path d="M368,637h15v20h-15z" fill="#7a55ee" opacity="0.11"/><path d="M663,642 672,644 670,661 660,659z" fill="#fff" opacity="0.23"/><path d="M306,783 325,783 325,806 306,806z" fill="#fff" opacity="0.12"/><path d="M857,702h24v14h-24z" fill="#fff" opacity="0.24"/><path d="M615,543h13v24h-13z" fill="#fff" opacity="0.10"/><path d="M402,495h27v9h-27z" fill="#fff" opacity="0.11"/><path d="M945,685h25v24h-25z" fill="#fff" opacity="0.12"/><path d="M424,608h24v11h-24z" fill="#7a55ee" opacity="0.10"/><path d="M486,615h12v11h-12z" fill="#fff" opacity="0.13"/><path d="M1240,857 1264,858 1263,872 1240,871z" fill="#ff4a22" opacity="0.08"/><path d="M1359,206h16v23h-16z" fill="#ff4a22" opacity="0.16"/><path d="M1316,397h19v25h-19z" fill="#ff4a22" opacity="0.07"/><path d="M1180,692 1199,690 1200,712 1182,713z" fill="#ff4a22" opacity="0.07"/><path d="M983,613h12v13h-12z" fill="#fff" opacity="0.19"/><path d="M1278,470h18v19h-18z" fill="#fff" opacity="0.14"/><path d="M901,386 911,384 916,408 906,410z" fill="#ff4a22" opacity="0.08"/><path d="M1380,433h16v23h-16z" fill="#ff4a22" opacity="0.14"/><path d="M1282,525h20v22h-20z" fill="#ff4a22" opacity="0.14"/><path d="M720,675h15v16h-15z" fill="#ff4a22" opacity="0.08"/><path d="M999,189h28v14h-28z" fill="#ff4a22" opacity="0.13"/><path d="M526,716h20v17h-20z" fill="#ff4a22" opacity="0.13"/><path d="M810,560h17v22h-17z" fill="#ff4a22" opacity="0.10"/><path d="M971,703 983,701 987,720 975,723z" fill="#ff4a22" opacity="0.14"/><path d="M650,586h20v26h-20z" fill="#ff4a22" opacity="0.14"/><path d="M1184,148 1194,151 1190,162 1181,159z" fill="#fff" opacity="0.18"/><path d="M496,576h19v23h-19z" fill="#fff" opacity="0.23"/><path d="M1366,650h22v22h-22z" fill="#ff4a22" opacity="0.15"/><path d="M278,723h16v12h-16z" fill="#fff" opacity="0.24"/><path d="M972,353 992,351 995,375 975,377z" fill="#ff4a22" opacity="0.06"/><path d="M835,684h12v15h-12z" fill="#fff" opacity="0.20"/><path d="M1386,487 1397,483 1403,502 1391,506z" fill="#fff" opacity="0.12"/><path d="M1376,625h21v17h-21z" fill="#ff4a22" opacity="0.07"/><path d="M1054,718h12v15h-12z" fill="#ff4a22" opacity="0.06"/><path d="M1252,928h24v24h-24z" fill="#fff" opacity="0.12"/><path d="M1233,478h25v22h-25z" fill="#ff4a22" opacity="0.10"/><path d="M1399,369h11v12h-11z" fill="#ff4a22" opacity="0.06"/><path d="M1031,636h17v18h-17z" fill="#fff" opacity="0.24"/><path d="M1404,23h25v13h-25z" fill="#fff" opacity="0.18"/><path d="M1219,537 1237,529 1246,549 1228,557z" fill="#ff4a22" opacity="0.16"/><path d="M1032,649h9v17h-9z" fill="#ff4a22" opacity="0.10"/><path d="M1173,73 1184,70 1186,80 1175,83z" fill="#ff4a22" opacity="0.09"/><path d="M1168,524h19v23h-19z" fill="#ff4a22" opacity="0.12"/><path d="M848,490h19v21h-19z" fill="#ff4a22" opacity="0.15"/><path d="M991,361h22v19h-22z" fill="#ff4a22" opacity="0.09"/><path d="M910,553h14v10h-14z" fill="#fff" opacity="0.19"/><path d="M936,216h14v22h-14z" fill="#ff4a22" opacity="0.07"/><path d="M1326,1109h11v7h-11z" fill="#ff4a22" opacity="0.14"/><path d="M1039,427h20v25h-20z" fill="#ff4a22" opacity="0.15"/><path d="M1028,624h18v19h-18z" fill="#fff" opacity="0.18"/><path d="M1003,326 1021,331 1013,356 995,350z" fill="#ff4a22" opacity="0.13"/><path d="M1124,680h25v10h-25z" fill="#ff4a22" opacity="0.11"/><path d="M821,700h17v9h-17z" fill="#fff" opacity="0.21"/><path d="M865,696h22v21h-22z" fill="#ff4a22" opacity="0.16"/><path d="M364,534h27v20h-27z" fill="#fff" opacity="0.13"/><path d="M915,201h17v21h-17z" fill="#fff" opacity="0.22"/><path d="M1215,127h20v17h-20z" fill="#fff" opacity="0.14"/><path d="M349,709h26v12h-26z" fill="#fff" opacity="0.19"/><path d="M662,563h23v20h-23z" fill="#ff4a22" opacity="0.13"/><path d="M1071,611h13v26h-13z" fill="#ff4a22" opacity="0.07"/><path d="M740,731h19v13h-19z" fill="#ff4a22" opacity="0.06"/><path d="M1318,992h5v10h-5z" fill="#fff" opacity="0.21"/><path d="M1366,463 1384,470 1378,485 1361,478z" fill="#fff" opacity="0.25"/><path d="M1146,372h14v25h-14z" fill="#ff4a22" opacity="0.06"/><path d="M1369,616h25v22h-25z" fill="#fff" opacity="0.23"/><path d="M1224,715h22v18h-22z" fill="#ff4a22" opacity="0.16"/><path d="M711,487 733,494 726,514 704,507z" fill="#ff4a22" opacity="0.09"/><path d="M1058,489h20v10h-20z" fill="#fff" opacity="0.15"/><path d="M1242,55 1252,56 1250,67 1241,66z" fill="#ff4a22" opacity="0.11"/><path d="M659,634h18v24h-18z" fill="#ff4a22" opacity="0.12"/><path d="M1171,858h19v21h-19z" fill="#fff" opacity="0.25"/><path d="M450,637h16v23h-16z" fill="#fff" opacity="0.22"/><path d="M957,369h20v20h-20z" fill="#ff4a22" opacity="0.07"/><path d="M1011,231h20v23h-20z" fill="#ff4a22" opacity="0.13"/><path d="M595,679h22v13h-22z" fill="#fff" opacity="0.12"/><path d="M437,775h12v22h-12z" fill="#ff4a22" opacity="0.16"/><path d="M787,557h22v14h-22z" fill="#ff4a22" opacity="0.16"/><path d="M1052,705h11v22h-11z" fill="#fff" opacity="0.19"/><path d="M1042,659h28v21h-28z" fill="#fff" opacity="0.20"/><path d="M534,671 551,674 548,686 531,683z" fill="#ff4a22" opacity="0.08"/><path d="M1377,491 1391,494 1388,508 1374,505z" fill="#ff4a22" opacity="0.10"/><path d="M1240,65h18v18h-18z" fill="#ff4a22" opacity="0.08"/><path d="M868,416h19v18h-19z" fill="#fff" opacity="0.12"/><path d="M1306,589 1329,586 1331,595 1307,598z" fill="#fff" opacity="0.13"/><path d="M1045,692h19v10h-19z" fill="#ff4a22" opacity="0.14"/><path d="M1271,181 1299,179 1300,197 1272,199z" fill="#ff4a22" opacity="0.09"/><path d="M607,585 633,575 636,585 611,595z" fill="#fff" opacity="0.22"/><path d="M1344,134h18v13h-18z" fill="#fff" opacity="0.23"/><path d="M509,590h20v13h-20z" fill="#fff" opacity="0.10"/><path d="M960,713h25v25h-25z" fill="#ff4a22" opacity="0.07"/><path d="M1377,409h14v25h-14z" fill="#fff" opacity="0.15"/><path d="M788,531h14v22h-14z" fill="#ff4a22" opacity="0.07"/><path d="M367,538h19v22h-19z" fill="#fff" opacity="0.14"/><path d="M1357,575h10v10h-10z" fill="#ff4a22" opacity="0.08"/><path d="M1008,129h20v17h-20z" fill="#fff" opacity="0.22"/><path d="M560,703 579,705 578,715 559,713z" fill="#fff" opacity="0.15"/><path d="M933,267h22v9h-22z" fill="#fff" opacity="0.22"/><path d="M1056,260h26v11h-26z" fill="#fff" opacity="0.14"/><path d="M839,603h10v11h-10z" fill="#fff" opacity="0.11"/><path d="M1015,426h27v19h-27z" fill="#fff" opacity="0.18"/><path d="M1218,546 1234,551 1228,569 1213,565z" fill="#fff" opacity="0.11"/><path d="M997,586h25v25h-25z" fill="#fff" opacity="0.12"/><path d="M996,273h24v17h-24z" fill="#fff" opacity="0.14"/><path d="M1142,43h25v21h-25z" fill="#fff" opacity="0.17"/><path d="M1373,147 1392,147 1392,171 1373,171z" fill="#fff" opacity="0.20"/><path d="M907,611h14v17h-14z" fill="#ff4a22" opacity="0.11"/><path d="M448,471 463,465 469,479 454,485z" fill="#fff" opacity="0.19"/><path d="M1105,63h11v24h-11z" fill="#ff4a22" opacity="0.08"/><path d="M828,789 839,794 832,811 821,807z" fill="#fff" opacity="0.12"/><path d="M1064,228h15v12h-15z" fill="#fff" opacity="0.11"/><path d="M1247,215h28v18h-28z" fill="#ff4a22" opacity="0.11"/><path d="M1261,548 1274,544 1279,559 1265,564z" fill="#ff4a22" opacity="0.08"/><path d="M1343,563h10v24h-10z" fill="#ff4a22" opacity="0.07"/><path d="M1128,570h22v18h-22z" fill="#fff" opacity="0.20"/><path d="M1212,456h14v18h-14z" fill="#fff" opacity="0.16"/><path d="M1171,714h23v14h-23z" fill="#ff4a22" opacity="0.11"/><path d="M589,492 605,492 605,502 590,502z" fill="#ff4a22" opacity="0.13"/><path d="M1226,633h18v13h-18z" fill="#fff" opacity="0.20"/><path d="M624,609h11v15h-11z" fill="#fff" opacity="0.18"/><path d="M1167,462h17v19h-17z" fill="#ff4a22" opacity="0.15"/><path d="M1074,580h13v21h-13z" fill="#ff4a22" opacity="0.16"/><path d="M301,664h23v12h-23z" fill="#7a55ee" opacity="0.16"/><path d="M1202,222h15v15h-15z" fill="#ff4a22" opacity="0.14"/><path d="M1288,679 1300,676 1307,701 1295,704z" fill="#fff" opacity="0.11"/><path d="M1023,769 1044,761 1053,785 1032,793z" fill="#fff" opacity="0.18"/><path d="M1173,185 1187,184 1188,200 1175,201z" fill="#ff4a22" opacity="0.10"/><path d="M1248,917h27v12h-27z" fill="#fff" opacity="0.15"/><path d="M998,340h22v16h-22z" fill="#ff4a22" opacity="0.09"/><path d="M1274,770h17v10h-17z" fill="#fff" opacity="0.12"/><path d="M1320,888 1330,890 1327,900 1317,898z" fill="#fff" opacity="0.23"/><path d="M1310,995h8v12h-8z" fill="#fff" opacity="0.11"/><path d="M764,608h14v13h-14z" fill="#fff" opacity="0.20"/><path d="M1122,729h17v16h-17z" fill="#fff" opacity="0.18"/><path d="M627,507h20v22h-20z" fill="#ff4a22" opacity="0.13"/><path d="M520,762h20v15h-20z" fill="#fff" opacity="0.17"/><path d="M771,609 784,609 784,619 771,619z" fill="#fff" opacity="0.12"/><path d="M744,603h15v26h-15z" fill="#ff4a22" opacity="0.06"/><path d="M1180,896h27v10h-27z" fill="#ff4a22" opacity="0.11"/><path d="M379,663h17v12h-17z" fill="#fff" opacity="0.22"/><path d="M1384,694h18v10h-18z" fill="#fff" opacity="0.16"/><path d="M1098,310 1124,317 1117,341 1091,334z" fill="#ff4a22" opacity="0.09"/><path d="M881,469h24v20h-24z" fill="#ff4a22" opacity="0.15"/><path d="M567,715h19v11h-19z" fill="#fff" opacity="0.19"/><path d="M1326,794 1343,795 1343,814 1326,814z" fill="#ff4a22" opacity="0.15"/><path d="M894,490 916,495 913,506 892,501z" fill="#ff4a22" opacity="0.15"/><path d="M349,630 373,637 367,660 342,653z" fill="#fff" opacity="0.21"/><path d="M428,555 441,554 442,574 430,575z" fill="#7a55ee" opacity="0.08"/><path d="M795,498 808,500 806,517 792,515z" fill="#ff4a22" opacity="0.10"/><path d="M1353,259h16v22h-16z" fill="#fff" opacity="0.12"/><path d="M969,213h15v24h-15z" fill="#fff" opacity="0.13"/><path d="M1187,25h20v23h-20z" fill="#fff" opacity="0.18"/><path d="M1258,953h5v8h-5z" fill="#fff" opacity="0.17"/><path d="M1341,336h21v15h-21z" fill="#fff" opacity="0.18"/><path d="M1275,745h26v19h-26z" fill="#ff4a22" opacity="0.07"/><path d="M906,414h23v17h-23z" fill="#ff4a22" opacity="0.14"/><path d="M992,214h15v13h-15z" fill="#fff" opacity="0.19"/><path d="M964,741h14v21h-14z" fill="#fff" opacity="0.21"/><path d="M972,652 995,656 991,682 967,678z" fill="#fff" opacity="0.24"/><path d="M614,649 623,650 623,674 614,674z" fill="#ff4a22" opacity="0.07"/><path d="M963,658h17v12h-17z" fill="#fff" opacity="0.12"/><path d="M1223,548 1249,550 1248,572 1222,571z" fill="#ff4a22" opacity="0.16"/><path d="M1124,608h19v25h-19z" fill="#fff" opacity="0.12"/><path d="M1228,601h20v20h-20z" fill="#fff" opacity="0.17"/><path d="M635,543 646,539 651,552 640,556z" fill="#ff4a22" opacity="0.10"/><path d="M757,534h27v18h-27z" fill="#ff4a22" opacity="0.07"/><path d="M1404,657h21v22h-21z" fill="#ff4a22" opacity="0.13"/><path d="M1291,64 1301,68 1297,80 1287,77z" fill="#ff4a22" opacity="0.08"/><path d="M1046,171h14v17h-14z" fill="#fff" opacity="0.11"/><path d="M1067,73 1084,81 1077,97 1059,89z" fill="#ff4a22" opacity="0.09"/><path d="M1281,429h24v11h-24z" fill="#ff4a22" opacity="0.12"/><path d="M885,631h20v24h-20z" fill="#fff" opacity="0.14"/><path d="M1005,384h14v17h-14z" fill="#ff4a22" opacity="0.08"/><path d="M1343,966h9v11h-9z" fill="#fff" opacity="0.20"/><path d="M1097,581h13v19h-13z" fill="#fff" opacity="0.16"/><path d="M1165,182h22v20h-22z" fill="#fff" opacity="0.17"/><path d="M1362,608h20v17h-20z" fill="#ff4a22" opacity="0.11"/><path d="M887,463h22v23h-22z" fill="#fff" opacity="0.18"/><path d="M890,599h22v24h-22z" fill="#ff4a22" opacity="0.14"/><path d="M1313,490h14v13h-14z" fill="#ff4a22" opacity="0.11"/><path d="M826,417h18v21h-18z" fill="#ff4a22" opacity="0.15"/><path d="M1186,279h15v9h-15z" fill="#fff" opacity="0.22"/><path d="M1298,725h21v22h-21z" fill="#fff" opacity="0.22"/><path d="M1374,347h27v12h-27z" fill="#fff" opacity="0.16"/><path d="M1318,62h19v11h-19z" fill="#ff4a22" opacity="0.16"/><path d="M1354,699h23v12h-23z" fill="#ff4a22" opacity="0.15"/><path d="M274,756h22v9h-22z" fill="#ff4a22" opacity="0.15"/><path d="M1169,609h24v17h-24z" fill="#fff" opacity="0.18"/><path d="M1401,47h25v23h-25z" fill="#fff" opacity="0.20"/><path d="M1257,585h11v23h-11z" fill="#fff" opacity="0.13"/><path d="M1191,883h20v22h-20z" fill="#fff" opacity="0.25"/><path d="M1252,853h22v13h-22z" fill="#fff" opacity="0.22"/><path d="M1277,108h25v24h-25z" fill="#ff4a22" opacity="0.15"/><path d="M1375,110h10v11h-10z" fill="#ff4a22" opacity="0.08"/><path d="M914,448h28v10h-28z" fill="#fff" opacity="0.11"/><path d="M1360,146h19v15h-19z" fill="#ff4a22" opacity="0.13"/><path d="M1255,364h19v10h-19z" fill="#fff" opacity="0.22"/><path d="M799,595h23v23h-23z" fill="#ff4a22" opacity="0.10"/><path d="M1175,396 1190,396 1190,406 1175,405z" fill="#fff" opacity="0.16"/><path d="M473,669 501,673 499,686 471,682z" fill="#ff4a22" opacity="0.16"/><path d="M1132,283 1152,283 1151,306 1132,305z" fill="#ff4a22" opacity="0.11"/><path d="M1042,378h25v10h-25z" fill="#ff4a22" opacity="0.09"/><path d="M1042,243h24v17h-24z" fill="#ff4a22" opacity="0.15"/><path d="M1023,170h18v10h-18z" fill="#fff" opacity="0.25"/><path d="M1083,286 1098,281 1105,302 1091,307z" fill="#ff4a22" opacity="0.14"/><path d="M816,576h13v24h-13z" fill="#ff4a22" opacity="0.08"/><path d="M935,594 960,593 961,604 935,605z" fill="#fff" opacity="0.10"/><path d="M1150,703h23v18h-23z" fill="#fff" opacity="0.20"/><path d="M681,701h15v26h-15z" fill="#fff" opacity="0.20"/><path d="M1063,170h14v10h-14z" fill="#ff4a22" opacity="0.14"/><path d="M1140,698h19v22h-19z" fill="#ff4a22" opacity="0.09"/><path d="M1064,698h28v23h-28z" fill="#fff" opacity="0.12"/><path d="M971,292 981,290 984,305 974,307z" fill="#fff" opacity="0.18"/><path d="M400,660 414,663 411,676 397,673z" fill="#7a55ee" opacity="0.12"/><path d="M1349,788h13v12h-13z" fill="#fff" opacity="0.12"/><path d="M1272,382h23v23h-23z" fill="#fff" opacity="0.24"/><path d="M1177,772h12v18h-12z" fill="#fff" opacity="0.21"/><path d="M985,282h19v9h-19z" fill="#fff" opacity="0.24"/><path d="M803,658 818,653 821,666 807,670z" fill="#ff4a22" opacity="0.14"/><path d="M1385,1132h10v8h-10z" fill="#ff4a22" opacity="0.14"/><path d="M1272,407h21v22h-21z" fill="#fff" opacity="0.20"/><path d="M456,747 472,749 470,771 454,769z" fill="#ff4a22" opacity="0.10"/><path d="M786,669h11v26h-11z" fill="#ff4a22" opacity="0.11"/><path d="M1199,496h22v18h-22z" fill="#fff" opacity="0.16"/><path d="M557,761h9v23h-9z" fill="#fff" opacity="0.17"/><path d="M379,549 392,550 391,565 378,563z" fill="#fff" opacity="0.16"/><path d="M647,677h16v25h-16z" fill="#ff4a22" opacity="0.07"/><path d="M1071,622h28v21h-28z" fill="#fff" opacity="0.17"/><path d="M848,430h23v25h-23z" fill="#ff4a22" opacity="0.10"/><path d="M648,691 661,688 667,710 654,713z" fill="#fff" opacity="0.22"/><path d="M1084,560h24v12h-24z" fill="#ff4a22" opacity="0.08"/><path d="M1257,970h11v12h-11z" fill="#ff4a22" opacity="0.10"/><path d="M1206,793h18v11h-18z" fill="#ff4a22" opacity="0.14"/><path d="M1400,585h18v17h-18z" fill="#ff4a22" opacity="0.13"/><path d="M768,787h16v24h-16z" fill="#ff4a22" opacity="0.14"/><path d="M627,609h27v23h-27z" fill="#fff" opacity="0.15"/><path d="M1325,499 1336,496 1342,519 1331,522z" fill="#ff4a22" opacity="0.13"/><path d="M848,574h14v21h-14z" fill="#ff4a22" opacity="0.08"/><path d="M936,758h28v14h-28z" fill="#fff" opacity="0.23"/><path d="M834,438h15v16h-15z" fill="#ff4a22" opacity="0.07"/><path d="M1379,895h11v18h-11z" fill="#ff4a22" opacity="0.13"/><path d="M1333,829h14v10h-14z" fill="#fff" opacity="0.21"/><path d="M1163,243 1183,248 1181,258 1161,253z" fill="#ff4a22" opacity="0.10"/><path d="M1120,480 1146,482 1143,507 1117,504z" fill="#ff4a22" opacity="0.06"/><path d="M1377,632h15v16h-15z" fill="#fff" opacity="0.12"/><path d="M1196,90h27v21h-27z" fill="#fff" opacity="0.16"/><path d="M674,592h27v26h-27z" fill="#ff4a22" opacity="0.14"/><path d="M721,519 737,515 740,527 724,531z" fill="#fff" opacity="0.22"/><path d="M1095,292 1115,298 1109,317 1089,311z" fill="#fff" opacity="0.20"/><path d="M797,542h13v17h-13z" fill="#ff4a22" opacity="0.07"/><path d="M1341,816 1360,814 1361,833 1342,835z" fill="#fff" opacity="0.20"/><path d="M1316,316 1329,319 1325,338 1312,335z" fill="#fff" opacity="0.24"/><path d="M1504,1070 1514,1074 1510,1085 1499,1080z" fill="#fff" opacity="0.19"/><path d="M1318,544h28v11h-28z" fill="#ff4a22" opacity="0.08"/><path d="M1260,962h7v9h-7z" fill="#ff4a22" opacity="0.12"/><path d="M1301,867 1321,861 1328,884 1308,890z" fill="#fff" opacity="0.15"/><path d="M1010,544h18v9h-18z" fill="#ff4a22" opacity="0.09"/><path d="M1404,144h19v26h-19z" fill="#ff4a22" opacity="0.15"/><path d="M1172,883h18v24h-18z" fill="#fff" opacity="0.21"/><path d="M1092,339 1115,348 1109,363 1086,354z" fill="#ff4a22" opacity="0.12"/><path d="M1033,146h18v24h-18z" fill="#ff4a22" opacity="0.10"/><path d="M728,706h10v26h-10z" fill="#fff" opacity="0.11"/><path d="M1198,125 1210,122 1214,142 1202,144z" fill="#fff" opacity="0.24"/><path d="M1095,538h10v23h-10z" fill="#ff4a22" opacity="0.11"/><path d="M542,763h11v20h-11z" fill="#fff" opacity="0.16"/><path d="M867,629h28v25h-28z" fill="#ff4a22" opacity="0.07"/><path d="M1298,839h16v22h-16z" fill="#fff" opacity="0.12"/><path d="M594,540h7v5h-7zM615,492h4v6h-4zM642,489h6v6h-6zM633,509h6v6h-6zM613,536h5v3h-5zM610,544h5v5h-5zM616,523h5v3h-5zM627,518h3v6h-3zM612,539h6v5h-6zM663,501h3v6h-3zM629,503h5v3h-5zM634,506h3v3h-3zM625,504h6v3h-6zM636,530h4v5h-4zM581,565h6v5h-6zM614,513h6v5h-6zM660,513h2v4h-2zM603,517h6v2h-6zM605,531h3v5h-3zM630,506h4v2h-4zM622,505h5v5h-5zM662,518h3v6h-3zM632,491h3v2h-3zM631,502h3v5h-3zM601,539h6v5h-6zM645,498h3v4h-3zM637,498h4v6h-4zM626,500h6v3h-6zM639,500h5v4h-5zM614,509h4v2h-4zM610,499h5v4h-5zM622,509h3v6h-3zM577,544h6v4h-6zM622,525h5v5h-5zM620,506h2v3h-2zM642,509h6v5h-6zM643,521h3v2h-3zM614,498h3v2h-3zM618,520h3v6h-3zM646,511h6v3h-6zM656,506h4v4h-4zM620,522h5v5h-5zM608,537h5v3h-5zM637,500h7v4h-7zM625,488h3v3h-3zM590,527h5v6h-5zM647,501h5v5h-5zM880,515h7v3h-7zM875,544h3v2h-3zM886,533h5v3h-5zM892,534h2v3h-2zM856,549h5v3h-5zM898,533h7v4h-7zM895,531h7v2h-7zM867,527h3v4h-3zM858,524h2v2h-2zM892,522h6v6h-6zM860,534h6v3h-6zM851,512h4v5h-4zM865,546h5v3h-5zM888,499h6v7h-6zM878,541h3v6h-3zM856,549h6v5h-6zM886,517h6v5h-6zM867,521h5v3h-5zM892,533h5v5h-5zM871,540h7v6h-7zM896,547h4v3h-4zM852,530h7v4h-7zM895,548h7v5h-7zM881,527h5v5h-5zM887,511h6v5h-6zM934,542h5v7h-5zM888,536h6v5h-6zM884,511h5v2h-5zM873,511h7v5h-7zM886,521h4v3h-4zM864,511h5v3h-5zM881,521h6v4h-6zM882,545h7v6h-7zM894,546h2v6h-2zM874,515h6v7h-6zM863,539h5v3h-5zM900,531h5v2h-5zM906,537h6v4h-6zM899,530h6v2h-6zM883,525h5v5h-5zM1069,506h6v4h-6zM1069,527h3v6h-3zM1062,537h7v3h-7zM1062,540h2v4h-2zM1072,525h3v6h-3zM1066,542h4v2h-4zM1049,527h6v4h-6zM1067,532h3v7h-3zM1331,621h7v5h-7zM1339,578h6v7h-6zM1341,634h3v4h-3zM1352,623h4v6h-4zM1340,621h4v3h-4zM1322,623h5v5h-5zM1338,647h3v3h-3zM1335,636h6v3h-6zM1336,629h4v7h-4zM1343,621h7v3h-7zM1348,592h4v5h-4zM1335,602h6v3h-6zM1343,607h2v5h-2zM1319,632h4v6h-4zM1340,601h3v3h-3zM1344,619h3v2h-3zM1350,610h5v4h-5zM1328,616h6v3h-6zM1335,632h7v5h-7zM1333,657h4v6h-4zM1307,591h5v4h-5zM1305,599h4v4h-4zM1316,600h3v3h-3zM1300,588h5v6h-5zM1315,601h5v6h-5zM1292,592h7v5h-7zM918,776h4v5h-4zM910,776h3v5h-3zM911,776h5v3h-5zM912,771h7v5h-7zM935,778h3v3h-3zM924,779h4v5h-4zM934,773h5v7h-5zM931,778h6v5h-6zM852,687h3v6h-3zM848,695h6v6h-6zM832,688h5v5h-5zM830,687h4v4h-4zM853,682h3v2h-3zM1327,538h2v4h-2zM1333,541h6v7h-6zM1340,536h6v7h-6zM1341,576h4v4h-4zM1345,563h4v4h-4zM1322,538h3v4h-3zM1335,515h3v6h-3zM1332,521h7v3h-7zM1330,529h5v5h-5zM1330,567h5v2h-5zM1326,505h5v7h-5zM1326,531h6v4h-6zM1311,860h5v3h-5zM1313,829h7v6h-7zM1308,842h7v6h-7zM1310,839h3v5h-3zM1305,915h6v5h-6zM1271,915h4v5h-4zM1296,923h6v7h-6zM1265,914h3v4h-3zM1285,908h5v6h-5zM1286,921h5v7h-5zM1301,922h5v2h-5zM1287,912h5v6h-5zM1263,918h6v4h-6zM967,279h4v6h-4zM965,280h6v2h-6zM1394,120h6v2h-6zM1309,1034h2v4h-2zM1318,967h2v5h-2zM1308,1016h3v6h-3zM1347,1016h5v3h-5zM1322,1028h2v6h-2zM1320,983h4v3h-4zM1327,1043h6v7h-6zM1330,1066h7v4h-7zM1311,1024h6v4h-6zM1311,1041h3v3h-3zM1319,1017h7v6h-7zM1324,1032h3v3h-3zM1337,988h4v2h-4zM1314,1009h2v6h-2zM1309,1019h3v4h-3zM1320,1021h4v3h-4zM1329,1036h6v4h-6zM1351,1050h6v5h-6zM1326,1036h4v2h-4zM1318,1099h7v7h-7zM1325,1016h5v4h-5zM1334,1022h6v3h-6zM1302,953h7v6h-7zM1329,1010h5v6h-5zM1324,1031h6v7h-6zM1314,1035h6v5h-6zM1325,996h6v7h-6zM1263,1007h6v4h-6zM1272,994h6v2h-6zM1264,1005h5v6h-5zM1282,1010h6v5h-6zM1313,1021h3v4h-3zM1280,1006h4v6h-4zM1293,994h3v5h-3zM1278,1018h3v6h-3zM1282,999h4v7h-4zM1296,1004h6v6h-6zM1266,1018h6v5h-6zM1368,1128h3v5h-3zM1360,1110h4v4h-4zM1380,1098h3v5h-3zM1352,1118h5v5h-5zM1384,1108h5v6h-5zM1361,1119h3v6h-3zM1384,1122h4v7h-4zM1367,1120h5v3h-5zM1366,1111h5v5h-5zM1375,1110h6v6h-6zM1341,1132h4v5h-4zM1372,1118h4v2h-4zM1381,1115h3v4h-3zM1364,1134h4v7h-4zM1372,1116h5v4h-5zM1396,1104h5v5h-5zM1372,1121h7v7h-7zM1368,1122h4v7h-4zM1394,1109h5v5h-5zM1371,1113h3v2h-3zM1374,1126h2v5h-2zM1405,1101h5v3h-5zM1417,1127h6v5h-6zM1479,1103h4v4h-4zM1435,1107h6v6h-6zM1431,1107h6v6h-6zM1417,1101h5v6h-5zM1453,1098h5v5h-5zM1408,1113h6v3h-6zM1448,1113h6v5h-6zM1429,1092h7v5h-7zM1458,1146h3v2h-3zM1436,1103h4v6h-4zM1370,1096h7v6h-7zM1430,1130h4v2h-4zM1422,1115h7v4h-7zM1478,1109h4v5h-4zM1434,1118h3v7h-3zM1407,1083h4v3h-4zM1383,1112h3v5h-3zM1431,1117h6v4h-6zM1466,1102h6v3h-6zM1440,1108h3v3h-3zM1438,1104h5v2h-5zM1476,1112h6v4h-6zM1441,1075h4v6h-4zM1443,1126h4v2h-4zM1444,1099h4v4h-4zM1455,1093h6v6h-6zM1319,1168h6v2h-6zM1305,1120h3v5h-3zM1331,1134h5v4h-5zM1295,1114h4v4h-4zM1327,1143h2v4h-2zM1332,1117h6v4h-6zM1317,1116h6v6h-6zM1316,1133h5v3h-5zM1333,1133h5v4h-5zM1320,1127h3v3h-3zM1324,1136h4v2h-4zM1339,1137h6v6h-6zM1335,1141h5v5h-5zM1325,1131h6v4h-6zM1320,1105h3v6h-3zM1307,1107h6v6h-6zM1327,1125h3v5h-3zM1337,1115h3v5h-3zM1306,1123h5v3h-5zM1303,1124h4v6h-4zM1289,1115h4v7h-4zM1325,1118h2v7h-2zM1313,1144h5v5h-5zM1277,1147h7v3h-7zM1269,1169h4v6h-4zM1263,1156h4v4h-4zM1252,1164h3v4h-3zM1265,1165h3v5h-3zM1268,1144h4v6h-4zM1251,936h3v5h-3zM1278,970h3v3h-3zM1224,933h6v2h-6zM1217,934h4v3h-4zM1195,954h2v4h-2zM1249,931h2v7h-2zM1235,938h7v5h-7zM1226,940h3v6h-3zM1250,924h7v5h-7zM1216,981h6v4h-6zM1348,885h6v4h-6zM1340,907h7v6h-7zM1343,927h5v3h-5zM1364,905h6v6h-6zM1352,893h5v5h-5zM1346,911h7v5h-7zM1337,907h3v4h-3zM1547,1092h6v5h-6zM1516,1108h3v7h-3zM1535,1072h6v2h-6zM1529,1083h5v3h-5zM1488,1088h5v2h-5zM1526,1085h4v5h-4zM1552,1073h5v5h-5zM1487,1092h3v4h-3zM1528,1068h6v5h-6zM1517,1086h2v6h-2z" fill="#fff" opacity="0.70"/><path d="M621,522h2v5h-2zM616,530h4v2h-4zM614,514h7v7h-7zM635,506h5v3h-5zM608,508h5v2h-5zM635,513h4v6h-4zM620,536h3v4h-3zM614,532h2v3h-2zM657,499h2v6h-2zM593,515h3v6h-3zM621,544h5v5h-5zM633,537h5v3h-5zM652,502h7v6h-7zM644,498h6v4h-6zM592,489h4v7h-4zM906,525h6v4h-6zM871,544h4v4h-4zM902,509h6v6h-6zM899,530h5v3h-5zM889,518h6v5h-6zM894,535h5v2h-5zM898,544h7v5h-7zM1058,526h3v7h-3zM1061,537h3v7h-3zM1065,525h6v4h-6zM1065,528h6v3h-6zM1062,537h6v4h-6zM1064,537h3v3h-3zM1329,597h3v5h-3zM1289,596h3v3h-3zM1301,589h4v4h-4zM929,773h5v3h-5zM922,770h3v5h-3zM943,776h6v5h-6zM755,778h4v2h-4zM761,771h6v3h-6zM845,693h3v4h-3zM839,692h3v6h-3zM850,692h3v7h-3zM846,686h6v6h-6zM1314,833h7v4h-7zM964,283h6v4h-6zM965,280h6v5h-6zM1383,150h4v5h-4zM1388,128h7v6h-7zM1404,132h6v3h-6zM1364,1027h4v6h-4zM1318,1017h3v7h-3zM1335,1018h4v3h-4zM1292,989h2v7h-2zM1297,1000h5v2h-5zM1248,1013h6v3h-6zM1254,994h6v3h-6zM1330,1114h6v5h-6zM1351,1131h2v2h-2zM1384,1103h6v5h-6zM1354,1128h6v3h-6zM1359,1103h7v6h-7zM1364,1116h6v3h-6zM1353,1116h6v3h-6zM1359,1135h5v5h-5zM1441,1121h6v4h-6zM1408,1124h6v4h-6zM1431,1099h3v3h-3zM1446,1129h5v5h-5zM1457,1090h5v4h-5zM1432,1096h6v2h-6zM1444,1092h7v6h-7zM1441,1079h5v5h-5zM1443,1105h2v6h-2zM1376,1093h4v4h-4zM1390,1126h2v6h-2zM1423,1098h5v2h-5zM1308,1150h7v2h-7zM1335,1150h5v2h-5zM1325,1127h3v4h-3zM1321,1133h5v7h-5zM1322,1141h5v5h-5zM1259,1142h2v3h-2zM1256,1145h6v6h-6zM1234,954h2v3h-2zM1271,921h3v4h-3zM1268,949h6v4h-6zM1249,922h6v3h-6zM1337,907h6v4h-6zM1328,898h5v6h-5zM1337,917h5v3h-5zM1430,1079h3v6h-3zM1490,1097h5v4h-5z" fill="#fca68a" opacity="0.80"/><path d="M609,521h2v4h-2zM616,510h5v2h-5zM629,493h4v6h-4zM640,534h3v5h-3zM640,505h5v4h-5zM642,535h4v3h-4zM907,548h4v7h-4zM879,551h3v4h-3zM898,555h4v5h-4zM837,540h7v3h-7zM911,497h3v3h-3zM893,506h4v7h-4zM898,519h7v2h-7zM870,534h5v6h-5zM865,531h3v4h-3zM898,518h6v5h-6zM877,553h5v5h-5zM842,508h7v6h-7zM1058,527h6v6h-6zM1061,518h2v3h-2zM1063,519h3v3h-3zM1051,501h5v6h-5zM1068,525h4v4h-4zM1063,552h4v4h-4zM1057,530h6v6h-6zM1060,526h4v6h-4zM1330,630h6v5h-6zM1350,588h3v4h-3zM1343,620h7v3h-7zM1349,613h6v3h-6zM925,782h4v2h-4zM941,776h7v5h-7zM771,780h5v5h-5zM833,681h3v3h-3zM856,666h6v3h-6zM1345,516h6v3h-6zM1342,506h2v3h-2zM1324,831h2v6h-2zM1322,853h4v3h-4zM1395,132h5v6h-5zM1391,123h2v6h-2zM1344,1008h4v3h-4zM1321,1057h5v3h-5zM1321,1036h6v5h-6zM1288,1004h6v7h-6zM1286,1008h2v4h-2zM1380,1090h2v6h-2zM1361,1103h4v4h-4zM1353,1092h3v4h-3zM1380,1114h4v7h-4zM1370,1102h6v4h-6zM1428,1116h6v2h-6zM1415,1079h4v3h-4zM1411,1091h4v5h-4zM1425,1095h6v7h-6zM1432,1088h6v5h-6zM1364,1099h2v6h-2zM1442,1131h5v3h-5zM1415,1101h5v2h-5zM1403,1093h3v6h-3zM1425,1090h3v3h-3zM1443,1119h7v6h-7zM1461,1106h3v6h-3zM1312,1162h4v3h-4zM1302,1124h4v2h-4zM1320,1115h3v5h-3zM1309,1102h7v6h-7zM1315,1114h4v7h-4zM1308,1111h3v3h-3zM1255,1148h5v5h-5zM1279,1149h4v3h-4zM1266,1167h2v4h-2zM1278,942h6v5h-6zM1235,935h3v7h-3zM1347,871h4v3h-4zM1328,886h7v3h-7zM1329,905h4v6h-4zM1338,914h4v4h-4zM1548,1094h4v2h-4z" fill="#d8ccfa" opacity="0.60"/><path d="M599,511h3v5h-3zM636,450h5v2h-5zM641,517h5v7h-5zM627,542h6v4h-6zM659,483h6v4h-6zM598,567h6v3h-6zM616,530h4v6h-4zM625,497h3v2h-3zM621,470h3v6h-3zM612,534h4v4h-4zM637,470h2v4h-2zM640,529h6v4h-6zM616,549h4v5h-4zM616,525h6v4h-6zM645,485h4v6h-4zM634,512h6v6h-6zM628,531h7v4h-7zM595,531h4v5h-4zM598,514h3v5h-3zM624,476h3v2h-3zM620,512h6v4h-6zM627,499h3v2h-3zM636,497h5v3h-5zM626,491h4v3h-4zM638,494h5v7h-5zM622,515h4v7h-4zM654,485h7v7h-7zM647,530h2v5h-2zM926,497h5v4h-5zM896,526h5v2h-5zM855,523h4v4h-4zM872,513h3v3h-3zM889,538h3v2h-3zM895,525h4v3h-4zM921,534h7v6h-7zM917,540h4v3h-4zM831,511h5v4h-5zM872,501h5v5h-5zM865,523h4v3h-4zM905,532h5v3h-5zM872,540h2v3h-2zM926,545h7v4h-7zM873,527h4v3h-4zM878,537h6v6h-6zM883,538h3v6h-3zM927,519h5v7h-5zM902,562h3v3h-3zM892,526h2v3h-2zM884,556h4v3h-4zM909,504h6v4h-6zM872,556h5v4h-5zM869,542h2v6h-2zM889,535h4v3h-4zM887,527h6v5h-6zM875,509h5v6h-5zM895,519h4v3h-4zM1078,527h3v5h-3zM1059,511h6v3h-6zM1054,542h6v6h-6zM1044,517h3v5h-3zM1053,511h4v5h-4zM1052,540h3v4h-3zM1056,515h4v4h-4zM1053,540h5v5h-5zM1051,529h6v5h-6zM1060,530h4v6h-4zM1038,520h6v2h-6zM1082,536h3v5h-3zM1053,528h6v3h-6zM1059,516h3v2h-3zM1321,606h2v6h-2zM1341,657h5v4h-5zM1334,614h3v4h-3zM1333,628h6v2h-6zM1356,616h4v3h-4zM1342,602h4v3h-4zM1352,618h4v2h-4zM1332,659h3v7h-3zM1333,628h2v2h-2zM1327,615h5v4h-5zM1338,638h3v5h-3zM1325,620h6v4h-6zM1340,620h6v7h-6zM1329,648h7v4h-7zM1340,606h7v6h-7zM1336,649h6v3h-6zM1337,632h5v7h-5zM1336,657h7v7h-7zM1293,594h4v7h-4zM1312,595h2v5h-2zM1301,589h7v4h-7zM1293,601h3v5h-3zM1288,594h4v2h-4zM1286,600h3v3h-3zM922,768h6v6h-6zM900,777h5v3h-5zM914,777h6v3h-6zM928,775h7v7h-7zM921,772h2v5h-2zM916,770h5v6h-5zM901,770h4v7h-4zM914,775h3v2h-3zM922,767h6v3h-6zM763,772h6v7h-6zM763,770h3v5h-3zM771,779h4v2h-4zM764,769h6v4h-6zM769,777h4v6h-4zM841,694h3v3h-3zM839,678h3v4h-3zM841,687h3v3h-3zM841,699h6v5h-6zM851,685h4v7h-4zM833,691h6v5h-6zM1348,548h2v7h-2zM1336,527h3v2h-3zM1338,544h2v3h-2zM1338,511h3v5h-3zM1347,541h4v3h-4zM1346,498h3v4h-3zM1352,516h7v6h-7zM1332,556h2v5h-2zM1339,551h5v5h-5zM1333,558h4v7h-4zM1315,860h6v3h-6zM1313,845h6v5h-6zM1308,862h4v5h-4zM1319,843h6v2h-6zM1320,847h2v6h-2zM1319,853h2v7h-2zM1291,908h3v4h-3zM1273,919h4v3h-4zM1275,914h6v6h-6zM1311,912h3v5h-3zM1279,903h7v3h-7zM1293,909h3v4h-3zM969,277h7v6h-7zM962,277h5v4h-5zM1391,121h7v3h-7zM1389,142h6v2h-6zM1330,1039h6v5h-6zM1313,961h2v3h-2zM1341,1012h3v6h-3zM1311,1030h5v6h-5zM1329,1015h7v3h-7zM1330,990h3v3h-3zM1347,1018h4v3h-4zM1331,1024h3v4h-3zM1344,1028h2v5h-2zM1333,1006h3v3h-3zM1342,1050h4v2h-4zM1325,1020h4v4h-4zM1333,1038h4v4h-4zM1313,1028h7v3h-7zM1335,1047h2v2h-2zM1348,1040h7v3h-7zM1336,1026h4v4h-4zM1331,1024h4v6h-4zM1329,1050h3v5h-3zM1318,1038h6v7h-6zM1321,1033h7v2h-7zM1349,1036h5v4h-5zM1328,1056h3v5h-3zM1334,1029h4v4h-4zM1346,1031h3v7h-3zM1299,1029h7v6h-7zM1309,1035h4v4h-4zM1330,1043h5v5h-5zM1315,968h4v4h-4zM1283,995h3v3h-3zM1259,977h3v7h-3zM1292,1004h7v2h-7zM1304,1006h6v2h-6zM1293,987h3v5h-3zM1295,1011h6v3h-6zM1267,1010h5v3h-5zM1284,1015h5v3h-5zM1256,1016h5v5h-5zM1305,1013h3v3h-3zM1373,1103h4v4h-4zM1361,1089h6v7h-6zM1388,1114h3v6h-3zM1363,1087h5v6h-5zM1357,1120h4v5h-4zM1396,1111h5v4h-5zM1385,1126h5v4h-5zM1374,1106h4v6h-4zM1358,1108h5v4h-5zM1374,1101h6v6h-6zM1373,1127h5v2h-5zM1377,1127h5v5h-5zM1368,1117h4v5h-4zM1364,1123h7v6h-7zM1377,1119h7v5h-7zM1396,1121h2v3h-2zM1418,1137h4v7h-4zM1385,1126h5v5h-5zM1395,1098h6v7h-6zM1352,1103h3v6h-3zM1350,1087h4v3h-4zM1383,1103h5v7h-5zM1357,1104h5v6h-5zM1423,1107h3v4h-3zM1431,1098h6v6h-6zM1422,1109h2v3h-2zM1440,1125h6v5h-6zM1438,1153h6v7h-6zM1400,1122h5v2h-5zM1360,1121h3v2h-3zM1423,1114h3v4h-3zM1411,1101h4v6h-4zM1424,1110h6v5h-6zM1375,1116h3v7h-3zM1430,1093h5v5h-5zM1451,1106h6v6h-6zM1457,1100h4v4h-4zM1415,1109h5v6h-5zM1396,1091h6v7h-6zM1425,1083h5v6h-5zM1469,1076h4v4h-4zM1419,1120h4v5h-4zM1436,1130h7v6h-7zM1414,1112h6v2h-6zM1465,1099h6v3h-6zM1422,1102h7v2h-7zM1417,1130h6v3h-6zM1423,1091h6v3h-6zM1456,1113h3v5h-3zM1438,1072h2v2h-2zM1451,1126h5v3h-5zM1329,1123h5v3h-5zM1307,1124h4v3h-4zM1315,1129h2v6h-2zM1301,1124h3v7h-3zM1324,1108h4v3h-4zM1329,1115h7v5h-7zM1349,1114h3v4h-3zM1343,1117h7v3h-7zM1310,1122h4v5h-4zM1342,1130h3v6h-3zM1293,1136h3v4h-3zM1301,1134h2v4h-2zM1288,1143h5v5h-5zM1338,1113h4v5h-4zM1306,1122h3v6h-3zM1326,1122h6v3h-6zM1338,1115h6v4h-6zM1269,1160h3v4h-3zM1277,1143h2v3h-2zM1261,1147h6v7h-6zM1275,1144h7v3h-7zM1272,1155h4v5h-4zM1267,1152h3v4h-3zM1274,1156h7v6h-7zM1242,1168h6v5h-6zM1282,1153h7v6h-7zM1288,1159h3v4h-3zM1241,961h5v5h-5zM1238,940h3v3h-3zM1261,926h5v6h-5zM1246,942h4v6h-4zM1268,939h6v5h-6zM1285,961h6v3h-6zM1233,959h2v6h-2zM1241,952h3v6h-3zM1357,915h5v4h-5zM1336,929h7v4h-7zM1320,896h7v5h-7zM1356,916h3v4h-3zM1514,1071h6v4h-6zM1538,1104h2v4h-2zM1492,1081h7v4h-7zM1549,1085h2v4h-2zM1495,1080h3v2h-3zM1484,1089h4v4h-4zM1510,1070h7v6h-7zM1508,1072h3v5h-3zM1509,1077h4v4h-4zM1494,1083h7v6h-7zM1504,1090h4v5h-4z" fill="#fff" opacity="0.90"/><path d="M610,549h5v5h-5zM623,500h7v4h-7zM615,539h6v6h-6zM622,525h6v2h-6zM618,529h5v5h-5zM619,507h7v6h-7zM646,501h6v5h-6zM604,538h4v4h-4zM604,508h6v5h-6zM628,518h5v5h-5zM619,518h6v4h-6zM884,527h3v5h-3zM869,537h5v4h-5zM913,537h5v2h-5zM896,502h3v4h-3zM901,528h5v2h-5zM892,549h4v3h-4zM891,521h3v4h-3zM889,520h6v6h-6zM876,533h6v6h-6zM881,542h4v5h-4zM860,498h5v5h-5zM1054,526h6v2h-6zM1058,531h3v6h-3zM1057,513h4v4h-4zM1331,623h7v7h-7zM1337,609h3v5h-3zM1359,613h4v5h-4zM1340,637h2v2h-2zM1332,624h5v4h-5zM1285,593h5v5h-5zM1297,591h4v5h-4zM1309,593h5v3h-5zM924,767h6v3h-6zM927,777h5v3h-5zM946,779h6v3h-6zM937,776h3v3h-3zM761,778h5v5h-5zM770,774h5v5h-5zM772,774h3v5h-3zM765,768h3v7h-3zM822,695h6v5h-6zM1339,560h6v7h-6zM1347,547h5v5h-5zM1297,917h6v7h-6zM1282,920h4v4h-4zM1294,918h4v6h-4zM1297,913h5v6h-5zM1335,1057h5v7h-5zM1333,1030h3v4h-3zM1341,1003h7v5h-7zM1335,1075h7v5h-7zM1329,1020h6v3h-6zM1288,1005h6v4h-6zM1290,992h3v3h-3zM1296,1012h4v4h-4zM1387,1096h5v6h-5zM1380,1126h7v4h-7zM1350,1101h4v6h-4zM1362,1087h6v2h-6zM1382,1119h6v3h-6zM1471,1113h3v2h-3zM1434,1097h2v5h-2zM1371,1123h6v6h-6zM1423,1092h6v6h-6zM1447,1090h6v3h-6zM1407,1108h5v4h-5zM1416,1093h4v6h-4zM1446,1100h5v4h-5zM1388,1115h5v5h-5zM1467,1138h2v6h-2zM1307,1127h2v3h-2zM1335,1128h6v6h-6zM1299,1108h4v5h-4zM1334,1146h5v3h-5zM1305,1127h4v5h-4zM1316,1131h2v7h-2zM1319,1138h7v6h-7zM1283,1157h6v4h-6zM1264,1159h6v4h-6zM1259,1173h6v3h-6zM1253,1148h6v5h-6zM1244,924h6v4h-6zM1279,949h6v4h-6zM1247,957h2v6h-2zM1275,974h4v4h-4zM1244,937h6v7h-6zM1276,959h4v6h-4zM1211,892h6v6h-6zM1345,926h2v5h-2zM1353,926h5v3h-5zM1360,869h3v4h-3zM1541,1083h2v3h-2zM1489,1086h4v5h-4zM1539,1087h5v2h-5zM1504,1078h4v6h-4zM1505,1088h3v6h-3z" fill="#fca68a" opacity="0.50"/><path d="M640,513h4v7h-4zM644,544h3v3h-3zM649,485h5v4h-5zM609,520h3v5h-3zM625,490h7v4h-7zM613,521h4v6h-4zM663,526h2v6h-2zM654,510h4v5h-4zM603,528h4v5h-4zM645,508h6v2h-6zM618,546h4v4h-4zM609,536h3v5h-3zM628,513h6v4h-6zM644,511h3v3h-3zM611,508h7v4h-7zM620,510h4v7h-4zM626,491h4v4h-4zM656,510h5v6h-5zM653,501h2v6h-2zM624,488h6v5h-6zM626,523h5v6h-5zM611,514h3v5h-3zM595,552h7v4h-7zM605,515h6v3h-6zM630,507h5v4h-5zM633,494h3v5h-3zM646,500h5v6h-5zM594,530h3v7h-3zM652,512h4v5h-4zM639,531h3v3h-3zM618,522h3v6h-3zM904,519h5v5h-5zM926,530h3v5h-3zM887,540h6v4h-6zM882,522h3v2h-3zM879,521h3v4h-3zM906,505h6v6h-6zM892,533h6v5h-6zM878,489h6v3h-6zM884,514h4v5h-4zM885,530h4v4h-4zM868,512h4v6h-4zM894,522h5v7h-5zM894,507h6v4h-6zM865,514h7v4h-7zM884,505h4v3h-4zM873,521h5v6h-5zM862,540h4v3h-4zM867,533h4v2h-4zM882,518h7v6h-7zM875,551h4v3h-4zM931,505h4v6h-4zM873,526h5v2h-5zM903,524h7v5h-7zM874,482h3v3h-3zM887,524h6v6h-6zM900,546h3v6h-3zM863,523h4v5h-4zM1044,522h5v7h-5zM1048,550h3v4h-3zM1071,518h3v2h-3zM1061,524h3v2h-3zM1044,517h2v7h-2zM1056,514h2v3h-2zM1077,528h6v6h-6zM1066,528h6v2h-6zM1068,518h3v3h-3zM1334,638h3v5h-3zM1328,625h7v2h-7zM1350,609h7v6h-7zM1339,626h2v4h-2zM1352,588h7v4h-7zM1345,619h3v3h-3zM1337,628h5v4h-5zM1338,627h2v7h-2zM1332,651h7v6h-7zM1351,589h4v3h-4zM1349,627h7v5h-7zM1332,616h5v6h-5zM1337,629h7v6h-7zM1331,609h6v5h-6zM1325,624h6v2h-6zM1346,610h2v5h-2zM1300,590h3v4h-3zM1297,599h6v3h-6zM1315,585h3v4h-3zM1293,588h6v6h-6zM1281,592h5v3h-5zM1293,596h2v6h-2zM926,770h4v6h-4zM927,782h6v6h-6zM927,776h6v5h-6zM909,770h4v3h-4zM924,778h3v6h-3zM932,778h3v6h-3zM920,780h2v7h-2zM914,782h2v5h-2zM759,775h2v4h-2zM773,782h3v6h-3zM760,762h7v6h-7zM759,776h4v3h-4zM761,775h3v6h-3zM764,779h3v3h-3zM850,689h5v3h-5zM837,689h6v3h-6zM856,690h3v2h-3zM846,687h3v5h-3zM1336,533h7v4h-7zM1338,531h5v3h-5zM1331,545h4v4h-4zM1340,552h4v4h-4zM1327,532h6v7h-6zM1330,539h7v6h-7zM1327,854h2v3h-2zM1312,884h5v3h-5zM1317,848h6v3h-6zM1309,838h5v2h-5zM1319,852h6v6h-6zM1279,910h6v3h-6zM1288,911h4v2h-4zM1278,907h7v3h-7zM1305,912h4v3h-4zM1279,906h6v4h-6zM1273,914h7v4h-7zM1296,904h4v4h-4zM1292,905h3v3h-3zM1296,912h3v4h-3zM1298,920h2v2h-2zM1297,920h6v2h-6zM973,276h4v2h-4zM964,282h7v2h-7zM963,279h5v4h-5zM1391,121h3v5h-3zM1399,142h5v6h-5zM1390,134h6v5h-6zM1398,123h4v3h-4zM1398,121h2v3h-2zM1321,1022h5v6h-5zM1325,995h7v2h-7zM1334,1049h4v6h-4zM1340,991h4v5h-4zM1332,1005h3v3h-3zM1326,1048h4v7h-4zM1351,1060h2v4h-2zM1330,1014h7v3h-7zM1351,1052h6v4h-6zM1301,999h6v3h-6zM1314,1055h6v4h-6zM1326,1007h2v5h-2zM1313,1002h4v6h-4zM1329,1014h4v5h-4zM1314,1038h7v5h-7zM1329,1014h5v2h-5zM1343,1006h5v4h-5zM1337,1086h3v5h-3zM1337,1001h6v4h-6zM1357,997h3v3h-3zM1347,1013h3v7h-3zM1334,1007h5v3h-5zM1344,1023h5v6h-5zM1321,1052h5v3h-5zM1321,1009h6v3h-6zM1343,1021h3v7h-3zM1341,1014h7v3h-7zM1338,1018h2v6h-2zM1328,1085h2v6h-2zM1313,1024h4v5h-4zM1317,1080h4v6h-4zM1343,1016h6v6h-6zM1301,1053h6v3h-6zM1324,1040h6v6h-6zM1283,987h4v6h-4zM1254,1001h6v3h-6zM1287,1035h5v4h-5zM1295,1013h7v5h-7zM1269,1006h6v3h-6zM1279,1004h3v5h-3zM1280,1010h2v3h-2zM1285,1003h4v6h-4zM1261,1005h6v4h-6zM1260,987h3v3h-3zM1300,1004h2v4h-2zM1273,1002h7v4h-7zM1370,1106h4v4h-4zM1373,1121h5v6h-5zM1394,1117h4v5h-4zM1376,1099h6v5h-6zM1381,1115h4v5h-4zM1393,1128h3v2h-3zM1372,1119h3v3h-3zM1337,1134h7v2h-7zM1363,1100h6v2h-6zM1373,1093h7v5h-7zM1399,1113h3v3h-3zM1380,1116h4v5h-4zM1362,1121h6v4h-6zM1391,1112h3v4h-3zM1355,1099h4v6h-4zM1390,1096h2v6h-2zM1373,1088h6v4h-6zM1453,1124h4v2h-4zM1410,1082h6v5h-6zM1424,1097h5v4h-5zM1450,1109h2v4h-2zM1478,1129h7v3h-7zM1469,1089h3v5h-3zM1378,1111h5v7h-5zM1415,1116h4v6h-4zM1462,1101h6v5h-6zM1465,1067h7v6h-7zM1492,1113h4v4h-4zM1384,1102h7v5h-7zM1378,1101h6v5h-6zM1477,1086h4v3h-4zM1436,1101h7v7h-7zM1438,1113h5v3h-5zM1450,1145h4v7h-4zM1421,1106h4v5h-4zM1414,1092h4v6h-4zM1425,1091h4v3h-4zM1470,1102h7v6h-7zM1321,1147h4v3h-4zM1321,1138h4v6h-4zM1316,1147h4v2h-4zM1347,1116h6v7h-6zM1300,1129h6v2h-6zM1312,1127h4v2h-4zM1313,1129h2v6h-2zM1326,1120h5v2h-5zM1302,1124h5v3h-5zM1336,1128h5v6h-5zM1336,1156h5v3h-5zM1315,1159h6v7h-6zM1339,1131h6v3h-6zM1329,1113h2v4h-2zM1312,1124h7v4h-7zM1290,1128h3v7h-3zM1253,1159h6v5h-6zM1280,1163h7v3h-7zM1252,1149h3v3h-3zM1279,1161h4v5h-4zM1266,959h6v4h-6zM1232,955h4v3h-4zM1258,964h5v3h-5zM1255,942h5v2h-5zM1230,942h2v6h-2zM1245,958h7v5h-7zM1255,923h3v7h-3zM1250,940h5v7h-5zM1251,925h6v4h-6zM1229,965h2v4h-2zM1228,934h7v2h-7zM1236,922h6v3h-6zM1297,927h7v5h-7zM1238,937h7v5h-7zM1276,936h7v5h-7zM1341,923h7v3h-7zM1350,868h2v3h-2zM1328,899h4v5h-4zM1350,889h5v4h-5zM1341,883h4v7h-4zM1597,1075h3v6h-3zM1509,1084h5v4h-5zM1522,1074h6v3h-6zM1499,1083h4v6h-4zM1522,1090h2v6h-2zM1546,1089h3v4h-3zM1494,1068h5v2h-5zM1507,1082h3v3h-3zM1541,1078h4v5h-4zM1466,1072h3v3h-3zM1475,1076h6v3h-6zM1523,1098h3v7h-3zM1485,1081h4v6h-4zM1506,1092h5v5h-5z" fill="#fff" opacity="0.50"/><path d="M608,526h6v5h-6zM638,504h2v6h-2zM635,497h3v2h-3zM622,535h7v5h-7zM638,495h3v7h-3zM621,506h4v4h-4zM580,532h5v3h-5zM666,508h5v5h-5zM619,523h6v3h-6zM607,520h3v3h-3zM644,512h3v5h-3zM610,519h2v3h-2zM899,520h4v5h-4zM879,531h3v6h-3zM878,512h3v2h-3zM826,494h5v6h-5zM892,529h2v5h-2zM1056,536h5v2h-5zM1045,558h7v2h-7zM1337,618h5v4h-5zM1335,637h3v6h-3zM1337,637h5v3h-5zM1337,619h7v5h-7zM1332,636h7v7h-7zM1337,662h5v4h-5zM1311,601h6v4h-6zM1289,598h4v6h-4zM940,772h4v3h-4zM833,698h3v3h-3zM841,679h6v5h-6zM839,690h3v7h-3zM1333,536h4v4h-4zM1337,554h7v3h-7zM1343,560h5v4h-5zM1306,828h7v6h-7zM1321,852h6v2h-6zM959,290h5v3h-5zM1388,124h6v7h-6zM1392,138h6v2h-6zM1326,1024h4v6h-4zM1327,1016h5v6h-5zM1312,1000h6v6h-6zM1327,962h7v6h-7zM1351,1041h2v4h-2zM1317,1023h7v5h-7zM1339,1052h4v7h-4zM1331,1022h6v3h-6zM1303,1007h7v3h-7zM1310,1005h5v4h-5zM1282,1007h2v6h-2zM1284,990h5v5h-5zM1407,1098h6v2h-6zM1387,1115h7v4h-7zM1371,1123h4v5h-4zM1376,1119h5v5h-5zM1395,1086h2v5h-2zM1384,1111h7v3h-7zM1393,1119h2v3h-2zM1361,1117h6v6h-6zM1344,1117h3v5h-3zM1342,1146h6v3h-6zM1376,1106h3v4h-3zM1431,1106h6v5h-6zM1409,1074h4v3h-4zM1401,1087h6v5h-6zM1405,1106h6v3h-6zM1461,1080h5v5h-5zM1433,1103h7v3h-7zM1402,1111h5v7h-5zM1417,1087h4v6h-4zM1396,1117h4v4h-4zM1324,1102h5v6h-5zM1312,1129h4v7h-4zM1328,1138h4v7h-4zM1293,1155h7v3h-7zM1304,1126h5v6h-5zM1317,1122h3v4h-3zM1268,1165h6v3h-6zM1266,957h7v3h-7zM1254,956h7v6h-7zM1244,949h6v5h-6zM1266,946h4v2h-4zM1363,892h6v6h-6zM1352,904h4v5h-4zM1329,919h5v2h-5zM1348,906h4v6h-4zM1491,1093h3v6h-3zM1506,1077h2v4h-2zM1558,1050h2v5h-2zM1515,1073h4v6h-4zM1528,1076h6v4h-6zM1527,1077h3v3h-3zM1516,1056h3v5h-3z" fill="#d8ccfa" opacity="0.90"/><path d="M384,552h4v2h-4zM381,606h5v5h-5zM392,587h3v4h-3zM383,614h5v4h-5zM378,558h5v3h-5zM385,606h2v4h-2zM387,571h5v5h-5zM382,609h5v4h-5zM383,565h4v4h-4zM393,587h4v5h-4zM383,592h5v5h-5zM379,597h5v5h-5zM394,573h3v3h-3zM389,577h4v3h-4zM386,580h3v2h-3zM390,584h5v5h-5zM384,568h3v3h-3zM391,557h3v5h-3zM386,594h5v6h-5zM391,571h4v5h-4zM386,578h4v4h-4zM385,585h5v3h-5zM389,574h5v5h-5zM389,588h5v4h-5zM381,603h6v5h-6zM393,578h4v4h-4zM380,594h5v4h-5zM392,592h6v4h-6zM389,609h3v6h-3zM393,597h5v5h-5zM380,596h6v2h-6zM381,600h4v3h-4z" fill="#fff" opacity="0.80"/><path d="M394,550h4v6h-4zM382,591h3v3h-3zM400,594h3v4h-3zM389,595h4v5h-4zM384,567h6v3h-6zM379,563h5v3h-5zM394,598h3v4h-3zM381,584h5v2h-5zM384,591h5v5h-5zM386,603h4v5h-4zM384,583h5v5h-5zM389,582h3v3h-3zM379,587h5v3h-5z" fill="#6848dc" opacity="0.70"/>
</g>
<g fill="none" stroke="#4a4a4a" stroke-width="1.9" stroke-linejoin="round" stroke-linecap="round">
<path d="M953.3,184 1027.5,233.5 1081,267 1100,276.5M1100,276.5 1139,272.5 1198.8,263 1246,258.5 1280,253.8M1180,29 1180,40 1185,100 1192.5,175 1197.5,225 1198.8,263.0M1293.8,27 1297.5,62.5 1300,100 1305,105 1315,177.5M1315,177.5 1352.5,172.5 1371,170 1382.5,166 1392.5,160 1400,150 1422.5,147.5M1315,177.5 1272.5,185 1280,253.8M1027.5,233.5 1010,261.7 1020.8,270.8 1016.7,283.3 1009,286.7 1008.3,298.3 971.7,320 954,320.8 953.3,342.5 965.8,346.5 966.2,370.8M966.2,370.8 920,366.7 918.3,375.8 886,373.3M1081,267 1086,330 1090.8,380 1090,390.8M1139,272.5 1141,300 1145,330 1152.5,420 1136.2,460.0M1246,258.5 1248.8,296 1235,310 1257.5,337.5M1257.5,337.5 1265,333.8 1277.5,338.8 1288.8,346 1290,356.5M1258.8,360.5 1290,356.5 1400,342 1415,340.0M1258.8,360.5 1270,452.5 1272.5,482.5 1280,552.5 1281.8,575.5M1136.2,460 1165,475 1200,489 1237.5,486 1238.8,492.5 1256,491 1257.5,483.8 1272.5,482.5M1270,452.5 1318.8,445.5 1322.5,460 1328.8,472.5 1331,485 1342.5,488.8 1350,480 1358.8,475 1373.8,470.0M1400,342 1395,362.5 1390,380 1382.5,390 1372.5,402.5 1367.5,420 1372.5,455 1373.8,470 1376,505 1372.5,530 1370,555 1365.4,561 1359.7,569.8 1358.5,585.8 1359.7,601.9M1365.4,561 1404.4,559.5 1434.2,561.8M966.2,370.8 970.8,425.0M970.8,425 1011.7,440 1090,390.8M970.8,425 959,425 946.7,465 949,466 945.8,505.8M809,440.4 811.7,482.5 835,483.3 835.8,489 865,488.3 873.3,494 875,486.7 884,490 886.7,480 896.7,486.7 910,495 926.7,502.5 929,505.8 945.8,505.8M1090,390.8 1096.7,463.3 1085,471.7 1081.7,481.7 1098.3,488.3 1076.7,526.7 1070,535 1073.3,584.0M945.8,505.8 951.7,510 965,504 975,507.5 983.3,515.8 993.3,526.7 1000,536.7 1008.3,538.3 1010.8,565 1028.3,565.8 1030,582.5 1066.7,579.0M929,505.8 931.7,514 929,523.3 940,525.8 943,601.7M1165,475 1168.3,501.7 1160,510 1155,520 1159,536.7 1156.7,580 1155.7,582.4M1159,536.7 1196.7,551.7 1280,552.5M1066.7,579 1073.3,584 1087.5,583.3 1092.5,571.7 1130,591.7 1133.3,574 1155.7,582.4 1175,592.5M1175,592.5 1211.9,605.3 1248.5,600.7 1281.8,575.5M1248.5,600.7 1250.8,608.8 1241.7,612.2 1248.5,618 1265.7,616.8 1266.9,631.7 1255.4,659 1256.6,677.5 1248.5,698 1253,705 1246.2,710.7 1232.5,709.6 1217.6,713.0M1265.7,616.8 1335.6,605.3M1281.8,575.5 1283,559.5 1294.4,563 1305.8,574.4 1315,572 1318.4,585.8 1331,603 1335.6,605.3 1340.2,600.7 1349.4,593.9 1354,601.9 1359.7,601.9M1359.7,601.9 1354,618 1347,636.2 1342.5,659 1339,684.4 1338,700.4 1336.8,718.8 1338,734.8 1326.5,746.2 1324.2,755.4 1315,769 1312.7,783 1306.5,805.8 1305.3,828.8 1308.8,851.7 1308.8,874.6 1307.6,897.5 1304.2,915.8 1299.6,929.6 1300.7,938.8 1306.5,950.2 1307.6,959.4 1301.9,970.8 1308,981.2 1306,987.5 1313.3,1004 1318.5,1018.8 1319.6,1033.3 1317.5,1052.0M1339,684.4 1418,673.0M1248.5,698 1339,684.4M1175,592.5 1173,604 1180,638 1166,670.6M1166,670.6 1182,691.2 1217.6,713.0M1217.6,713 1198,749.7M1198,749.7 1210.2,760 1237.7,770.3 1283.5,776 1289.8,760 1297.8,756.6 1299,761 1313.9,769.0M1313.3,781.8 1350,797.8 1386.7,807 1387.8,789.8 1393.5,790.0M1198,749.7 1211.9,758.9 1189,773.8 1152.9,797.8M1152.9,797.8 1081.9,837.9M1152.9,797.8 1213.6,833.3 1193,865.4 1224,890.6 1228.5,903.2M1156.4,929.6 1210.2,925 1219.4,909 1228.5,903.2M1156.4,929.6 1158.6,946.8M1228.5,903.2 1249.2,895.2 1251.5,899.8 1272,904.4 1273.2,898.6 1277.8,897.5 1279,904.4 1287,906.7 1307,904.4M1298.5,934 1311,929.6 1385.5,920.4M1299.5,971.2 1383.2,961.0M1256,1014.6 1301.9,970.8M1314.4,1074 1325.8,1075 1330,1078 1338.3,1080.0M1314.4,1074 1315.4,1082.3 1311.2,1095.8 1314.4,1104.0M1066.7,579 1065,591.7 1060,603.3 1056.7,611.7 1053.3,620 1048.3,636.7 1048.3,653.3 1045.8,660 1037.5,672.5 1035.4,689 1039.6,701.7 1035.4,712 1034.4,721.5M1034.4,721.5 1050,720.4 1058.3,714 1064.6,709 1075,708 1085.8,700.4 1099.6,692.4 1108.8,689 1117.9,683.2 1131.7,677.5 1143,673 1156.9,671.8 1166,670.6M1034.4,721.5 1032.3,752.7 1033.3,789 1043,801.5M949,696.5 955.2,739 990.6,738.8 991.7,751.7 1032.3,752.7M945.8,617.5 1031.7,612.5 1056.7,611.7M943,601.7 945.8,617.5 949,696.5M790,460 791,542.5M667,477.5 668,539.4M647.3,539.4 668,539.4 711.9,537.7 713,544.6 743,544 791,542.5M647.3,539.4 646,562.3 631.7,563.3 595,562.3 602.5,555 600.4,550.4 567,550.4M550.6,453.5 550.6,514.0M463,514 568.3,514.0M568.3,514 561,538 567.3,539 567.3,550.4 567.3,563 562,565 562,572.3 558,573.3 558,582.7M460,582.3 558,582.7M463,452.5 463,526.5 463,581.7 460,582.3 460,603.5 463,604.6 463,667 464,670.0M363,530.6 376.7,532.7 385,542 393.3,542 397.5,533.8 414.2,527.5 430.8,524.4 439.2,527.5 447.5,523.3 463,526.5M558,582.7 558,633.8 545.4,648.3 540.2,660.8 539.2,670.0M464,670 493,670 539.2,670 580.8,670 580.8,681.7 602.7,682.2M337,658.8 347.5,661 355.8,665 364.2,669 370.4,679.6 378.8,689 387,690 401.7,685.8 418.3,678.5 439.2,672.3 463,667.0M352.3,663.5 352.3,801.5M493,670 493,801.5M602.7,682.2 597.5,801.5M602.7,682.2 603.5,663.3 613,662.3 614,655 646.2,655.0M631.7,563.3 634.8,584 627.5,586.2 627.5,607 623.3,610 625.4,631 645.2,632 646.2,655.0M646.2,655 670,655 708.3,655.8 710.4,674.6 715.6,673.5 716.7,679.8 718.8,732 743.8,729.8M670,655 669,630 673.3,617.5 678.5,609 741,608 746.2,608.0M743,544 744,575.8 741,582 741,608.0M746.2,608 750.4,621.7 755,633 757.7,665.4 756.2,685.0M756.2,685 740.6,685 738.5,679.8 716.7,679.8M757.7,665.4 794.8,664 813.5,662.0M791,542.5 785.8,559 789,575.8 785.8,596.7 788,617.5 796.2,638.3 804,649.6 813.5,662.0M800.4,643.5 874.4,644.0M811.7,482.5 833.8,483 835.8,513.3 831.7,521.7 833.8,546.7 840,586.2 858.8,587.3 873.3,605 874.4,644 877,697.5M873.3,605 943,601.7M794.8,664 795.8,739.0M743.8,729.8 743.8,801.5M743.8,729.8 787,728.5 787.5,738 795.8,739 807.3,740.2 808.3,731.2 823,731.2 834.4,731.2 835.4,734.6 846.9,734 846.9,721.5 856.2,721.5 870.8,725.6 871.9,721.5 877,721.5 879,714 877,705.8 869.8,703.8 870.8,698.5 877,697.5 900,699 949,696.5M823,731.2 821.9,761 818.8,763 823,789 819.8,801.5M900,699 903,718.3 908.3,739 908.3,751.7 903,754.8 905.2,801.5M1307,1116.7 1321.7,1127 1324.8,1136.5 1328,1142.7 1311.2,1157.3M1353,1093.8 1351.9,1111.5 1349.8,1123 1349.8,1137.5 1343.5,1144.8 1346.7,1152.0M1394.6,1065.6 1398.8,1075 1403,1108.3 1406.7,1148.3M1145,24.5 1130,28.8 1115,33.8 1105,43.8 1088.8,51 1072.5,61 1055,71 1045,81 1032.5,90 1017.5,105 1002.5,120 987.5,136 972.5,150 960,167.5 953.3,184 945,190 933.3,198.3 916.7,205 906.7,211.7 895,216.7 894,220 892.5,227.3 882,235.6 866.5,238.2 861.2,250.2 855,263.8 860.2,272 867.5,276.2 866.5,282.5 870.6,287.7 872.7,282.5 876.9,275.2 886.2,272 888.3,274.2 894.6,274.2 896.7,279.4 901.9,281.5 897.7,286.7 889.4,290.8 886.2,295 892.5,300.2 897.7,297 907,293 912.3,293 912.3,297 907,297 903,302.3 896.7,305.4 901.9,310.6 898.8,316.9 886.2,327.3 884.2,324.2 881,323 883,316.9 879,320 872.7,322 868.5,329.4 873.8,334.6 879,339.8 882,345 883.3,348.3 886.7,363.3 885.8,373.3 886.7,390 884,405 876.7,413.3 863.3,416.7 853.3,413.3 843.3,418.3 833.3,425 821.7,433.3 809,440.4 798,451 790,460 775.4,467.5 759,472.7 744,478 717,474 686,476 667,477.5 648,482 636,487 621,478 606.7,468.5 594,461 571,457 550.6,453.5 501.7,452.5 463,452.5 439.2,454.6 408,461.9 376.7,471.2 351.7,480.6 352.7,494 354.8,508.8 349.6,519 349.6,527.5 363,530.6 360,542 368.3,556.7 378.8,567 383,581.7 389.2,590 387,600.4 376.7,613 360,623.3 351.7,635.8 343.3,648.3 337,658.8 318.3,666 297.5,677.5 285,688 272.5,700.4 251.7,715 221.5,732.7 221.5,801.5 1043,801.5 1049.8,810.4 1056.7,817.3 1062.4,833.3 1081.9,837.9 1088.8,844.8 1095.6,851.7 1093.3,858.5 1100.2,874.6 1099,888.3 1102.5,902 1107,915.8 1114,929.6 1127.7,936.5 1141.5,941 1155.2,943.3 1158.6,946.8 1256,1014.6 1317.5,1052 1314.4,1074 1311.2,1085.4 1305,1100 1298.8,1114.6 1295.6,1125 1296.7,1127 1303,1120.8 1309,1110.4 1314.4,1104 1321.7,1104 1332,1100 1336.2,1099 1333,1093.8 1334.2,1087.5 1338.3,1080 1343.5,1075 1348.8,1066.7 1355,1063.5 1363.3,1054 1359,1043.8 1350.8,1033.3 1346.7,1023 1395.6,998 1383.2,961.7 1385.5,920.4 1389,874.6 1393.5,790 1392,789 1395.2,769 1406.7,723.3 1418,673 1427.3,647.7 1435.3,613.3 1433,592.7 1434.2,563 1434.2,540 1438.8,407.5 1431,397.5 1430,387.5 1422.5,387.5 1415,390 1412.5,400 1407.5,395 1410,380 1415,365 1420,352.5 1415,340 1415,325 1412.5,305 1408,290 1405,275 1410,260 1415,245 1422.5,230 1426,212.5 1425,190 1430,175 1428.8,160 1422.5,147.5 1417.5,140 1415,130 1416,110 1418.8,92.5 1422.5,80 1417.5,72.5 1415,65 1420,50 1422.5,32.5 1421,25 1164,28 1156,26.0ZM1297,1126.5 1303,1121.5 1307,1116.7 1309.5,1111 1314.4,1105 1321.7,1104.5 1332,1100.5 1336.2,1099.5 1342.5,1095.8 1346.7,1089.6 1349.8,1085.4 1353,1093.8 1355,1085.4 1360.2,1087.5 1363.3,1093.8 1365.4,1079 1375.8,1073 1382,1075 1388.3,1073 1394.6,1065.6 1398.8,1066.7 1405,1075 1411.7,1062.5 1416.7,1070 1421.7,1069 1441.7,1074 1455,1069 1457.5,1060 1463.3,1056.7 1480,1060 1503.3,1060.8 1526.7,1059 1546.7,1055.8 1560,1052.5 1566.7,1047.5 1575,1041.7 1583.3,1037.5 1588.3,1030.8 1596.7,1028.3 1601.7,1022.5 1605.8,1017.5 1610,1016.7 1610,1024 1613.3,1028.3 1618.3,1031.7 1620.8,1037.5 1624,1040.4 1630,1040.8 1635,1042.5 1641.7,1038 1645.8,1040.8 1648.3,1047.5 1652.5,1052.5 1655.8,1053 1658.3,1049.6 1661.7,1046.7 1667.5,1044 1674,1040 1678.3,1040.4 1680,1033.8 1690,1030 1693.3,1031.7 1698.3,1032.5 1697.5,1036.7 1690,1040.8 1676.7,1046.7 1660,1054 1647.5,1060 1616.7,1073.3 1583.3,1090 1533.3,1110 1483.3,1130 1441.7,1143.3 1426.7,1145 1406.7,1148.3 1380,1152 1378,1154 1346.7,1152 1330,1154.5 1309,1162.5 1311.2,1157.3 1309,1156.2 1296.7,1155.2 1290.4,1143.8 1290.4,1131.2 1295.6,1125.0ZM1250.8,1175 1253,1164.6 1261.2,1150 1265.4,1139.6 1284.2,1138.5 1287.3,1145.8 1280,1158.3 1269.6,1168.8 1257,1174.0Z"/>
</g>
<path d="M1164.5,29.5 H1190 V40 H1166 Z" fill="#fff"/><path d="M1164,28 L1166,40" fill="none" stroke="#4d4d4d" stroke-width="1.9"/><ellipse cx="856.3" cy="278" rx="4" ry="2.3" transform="rotate(-10 856.3 278)" fill="#fe8969" stroke="#4d4d4d" stroke-width="1.5"/><ellipse cx="846.7" cy="315" rx="7.5" ry="2.6" transform="rotate(-35 846.7 315)" fill="#fe9474" stroke="#4d4d4d" stroke-width="1.5"/><ellipse cx="862.8" cy="316" rx="5.5" ry="2.3" transform="rotate(-48 862.8 316)" fill="#fe9474" stroke="#4d4d4d" stroke-width="1.5"/><path d="M871.7,300.2 874.8,288.8 884.2,282.5 886.2,284.6 883,293 878,298.0Z" fill="#fe9878" stroke="#4d4d4d" stroke-width="1.6" stroke-linejoin="round"/><path d="M1647.5,1020.4 1649.6,1023.3 1658.3,1026.7 1656.7,1031.7 1655.8,1037.5 1654.2,1038 1653.8,1032.5 1650.8,1029.2 1645.8,1027.5Z" fill="#f1ebfd" stroke="#4d4d4d" stroke-width="1.6" stroke-linejoin="round"/><path d="M1611.5,1015.8 1620,1012.5 1628.3,1011.2 1623.3,1018.3 1616.7,1023.3Z" fill="#fff" stroke="#4d4d4d" stroke-width="1.6" stroke-linejoin="round"/><path d="M1632.5,1007.5 1635,1005.4 1642.5,1003.3 1642.5,1005 1635.8,1010.0Z" fill="#fff" stroke="#4d4d4d" stroke-width="1.5" stroke-linejoin="round"/><path d="M1665,989.2 1668.3,983.3 1676.7,981.7 1686.7,978.3 1686.7,980 1680,984.2 1671.7,988.3Z" fill="#f1ebfd" stroke="#4d4d4d" stroke-width="1.5" stroke-linejoin="round"/><circle cx="1289" cy="1126" r="1" fill="#4d4d4d"/><circle cx="1290.5" cy="1123.5" r="1" fill="#4d4d4d"/>
<rect x="765.5" y="859.5" width="292.5" height="291.5" fill="#fff" stroke="none"/><g clip-path="url(#inset)" stroke="#4d4d4d" stroke-width="2" stroke-linejoin="round"><path d="M944,850 942.4,860 939.7,876.7 942.4,871.2 970,879.5 978.2,887.7 1005.7,894.6 1013.9,885 1024.9,871.2 1035.9,860 1040,850.0Z" fill="#faf8fe"/><path d="M942.4,871.2 970,879.5 978.2,887.7 1005.7,894.6 997.4,909.7 990.5,912.5 991.9,926 1000,940 997.4,948 983.7,945.5 970,948 961.7,956.5 942.4,951 934.2,940 932.8,923.5 939.7,912.5 945.2,898.7 939.7,894.6 934.2,896 939.7,876.7Z" fill="#f8f5fe"/><path d="M942.4,951 961.7,956.5 970,948 983.7,945.5 997.4,948 1000,940 1008.4,951 1013.9,959 1018,964.7 1020.8,956.5 1013.9,940 1022.2,923.5 1035.9,931.7 1041.4,929 1038.7,920.7 1027.7,915.2 1030.4,907 1038.7,902.9 1062,911 1062,1084.8 1019.4,1080.2 997.4,1077.4 981,1072 978.2,1069.2 981,1055.4 968.6,1041.7 970,1033.4 964.4,1014.2 953.4,1019.7 942.4,1006 931.4,988 921.8,986.7 921.8,978.5 931.4,962.0Z" fill="#fef2ec"/><path d="M921.8,986.7 931.4,988 942.4,1006 953.4,1019.7 964.4,1014.2 970,1033.4 968.6,1041.7 981,1055.4 978.2,1069.2 970,1080.2 953.4,1088.4 934.2,1093.9 931.4,1088.4 904,1089.8 895.7,1085.7 898.5,1077.4 884.7,1066.4 882,1050 891.6,1022.4 895.7,1010 912.2,1004.5 917.7,995.0Z" fill="#fef9f6"/><path d="M934.2,896 926,920.7 915,940 904,959.2 894.3,975.7 891.6,1003.2 895.7,1008.7 912.2,1003.2 917.7,995 921.8,978.5 931.4,962 942.4,951 934.2,940 932.8,923.5 939.7,912.5 945.2,898.7 939.7,894.6Z" fill="#faf8fe"/><path d="M930,1109 932.8,1095.3 956.2,1091.2 983.7,1083 1008.4,1078.8 970,1096.7 942.4,1105.0Z" fill="#feba9b"/><path d="M778.9,1131 784.4,1138 805,1128.3 818.7,1118.7 838,1116 860,1091 875,1072 865.5,1043 860,1041.7 827,1047 816,1044.4 806.4,1055.4 807.7,1069 802.2,1083 794,1102 784.4,1107.7 785.7,1121.4Z" fill="#fec5ab"/><clipPath id="insetland"><path d="M944,850 942.4,860 939.7,876.7 942.4,871.2 970,879.5 978.2,887.7 1005.7,894.6 1013.9,885 1024.9,871.2 1035.9,860 1040,850.0Z"/><path d="M942.4,871.2 970,879.5 978.2,887.7 1005.7,894.6 997.4,909.7 990.5,912.5 991.9,926 1000,940 997.4,948 983.7,945.5 970,948 961.7,956.5 942.4,951 934.2,940 932.8,923.5 939.7,912.5 945.2,898.7 939.7,894.6 934.2,896 939.7,876.7Z"/><path d="M942.4,951 961.7,956.5 970,948 983.7,945.5 997.4,948 1000,940 1008.4,951 1013.9,959 1018,964.7 1020.8,956.5 1013.9,940 1022.2,923.5 1035.9,931.7 1041.4,929 1038.7,920.7 1027.7,915.2 1030.4,907 1038.7,902.9 1062,911 1062,1084.8 1019.4,1080.2 997.4,1077.4 981,1072 978.2,1069.2 981,1055.4 968.6,1041.7 970,1033.4 964.4,1014.2 953.4,1019.7 942.4,1006 931.4,988 921.8,986.7 921.8,978.5 931.4,962.0Z"/><path d="M921.8,986.7 931.4,988 942.4,1006 953.4,1019.7 964.4,1014.2 970,1033.4 968.6,1041.7 981,1055.4 978.2,1069.2 970,1080.2 953.4,1088.4 934.2,1093.9 931.4,1088.4 904,1089.8 895.7,1085.7 898.5,1077.4 884.7,1066.4 882,1050 891.6,1022.4 895.7,1010 912.2,1004.5 917.7,995.0Z"/><path d="M934.2,896 926,920.7 915,940 904,959.2 894.3,975.7 891.6,1003.2 895.7,1008.7 912.2,1003.2 917.7,995 921.8,978.5 931.4,962 942.4,951 934.2,940 932.8,923.5 939.7,912.5 945.2,898.7 939.7,894.6Z"/><path d="M930,1109 932.8,1095.3 956.2,1091.2 983.7,1083 1008.4,1078.8 970,1096.7 942.4,1105.0Z"/><path d="M778.9,1131 784.4,1138 805,1128.3 818.7,1118.7 838,1116 860,1091 875,1072 865.5,1043 860,1041.7 827,1047 816,1044.4 806.4,1055.4 807.7,1069 802.2,1083 794,1102 784.4,1107.7 785.7,1121.4Z"/></clipPath><g stroke="none" clip-path="url(#insetland)"><path d="M1022.5,925 1035,933 1041,960 1030,962 1016,942.0Z" fill="#fe9e7e" opacity="1"/><path d="M965,950 1000,950 1040,975 1042,990 1000,1000 960,985 945,965.0Z" fill="#feddcd" opacity="1"/><path d="M950,985 975,990 985,1010 960,1015.0Z" fill="#fed8c7" opacity="1"/><path d="M886,1058 900,1050 925,1052 950,1070 955,1086 905,1088 890,1070.0Z" fill="#fed0ba" opacity="1"/><path d="M1030,1045 1057,1040 1057,1082 1022,1079 1015,1060.0Z" fill="#febea1" opacity="1"/><path d="M1034,990 1057,985 1057,1035 1033,1038.0Z" fill="#f1ebfd" opacity="1"/><path d="M1040,915 1057,912 1057,980 1046,975.0Z" fill="#fed4c1" opacity="1"/><path d="M970,1033 981,1055 976,1062 968,1042.0Z" fill="#febea1" opacity="1"/><path d="M930,955 942,953 938,965 928,972.0Z" fill="#e4dafa" opacity="1"/><path d="M935,990 955,1018 948,1022 930,995.0Z" fill="#f1ebfd" opacity="1"/><path d="M895,1030 920,1040 915,1055 890,1050.0Z" fill="#f4f0fd" opacity="1"/><path d="M950,1030 966,1036 966,1046 952,1044.0Z" fill="#ede6fc" opacity="1"/><path d="M945,900 975,895 990,925 960,940 940,930.0Z" fill="#f2eefd" opacity="1"/><path d="M960,862 1000,862 990,880 965,875.0Z" fill="#feeee6" opacity="1"/><path d="M785,1105 800,1085 806,1105 790,1125.0Z" fill="#fead8d" opacity="1"/><path d="M825,1050 860,1047 868,1070 840,1090 815,1080.0Z" fill="#fed0ba" opacity="1"/><path d="M978,1063 984,1063 984,1075 978,1075.0Z" fill="#feb494" opacity="1"/><path d="M981,872h9v6h-9zM1017,869h6v4h-6zM1001,861h4v6h-4zM995,875h5v6h-5zM991,879 995,880 992,888 988,887zM976,874h5v3h-5zM1004,861 1008,858 1011,864 1007,867zM1019,858h7v7h-7zM968,925h5v8h-5zM931,922h8v7h-8zM971,928h4v7h-4zM931,932h6v8h-6zM939,884h4v4h-4zM981,933 988,936 986,940 979,938zM950,951h4v4h-4zM977,908 981,909 980,912 976,911zM983,915 991,910 996,918 988,922zM963,885 972,888 969,895 961,892zM980,936 983,937 981,943 978,942zM935,933h8v3h-8zM957,897h9v7h-9zM967,929h8v5h-8zM963,905 970,900 974,906 966,911zM957,919 963,921 960,929 954,927zM934,882 939,878 943,884 937,888zM970,900h6v3h-6zM937,942h4v8h-4zM984,940h8v6h-8zM947,908 950,909 948,914 945,913zM968,891h6v5h-6zM963,877h8v6h-8zM930,922h7v6h-7zM943,888 946,887 949,893 946,894zM949,880 956,882 953,890 947,887zM1053,1011 1059,1013 1056,1020 1051,1018zM961,1012h6v4h-6zM939,995h5v3h-5zM944,966 950,963 953,970 948,973zM946,952h4v8h-4zM1002,956 1007,958 1004,966 999,964zM1013,977h5v4h-5zM954,977 957,976 959,979 956,981zM965,987 969,988 966,995 963,994zM932,989 938,991 937,995 931,993zM1030,940h4v6h-4zM972,1043 975,1044 974,1049 970,1048zM982,1023h3v7h-3zM979,988h3v6h-3zM987,1007h7v6h-7zM1037,1043 1043,1039 1044,1042 1038,1045zM1016,992 1021,994 1020,997 1015,995zM978,1007 982,1005 986,1012 982,1014zM920,979 926,975 928,979 922,982zM1029,976h8v6h-8zM1005,947 1008,949 1005,956 1002,955zM993,1062 1000,1058 1004,1064 997,1068zM1035,966 1039,967 1037,972 1033,971zM1038,957 1045,953 1048,959 1041,963zM942,1000 947,998 948,1001 944,1003zM1051,923h5v7h-5zM1035,1020h9v3h-9zM1004,1040h5v4h-5zM1056,963 1063,966 1061,974 1053,971zM994,1010 1000,1007 1003,1012 997,1016zM966,975h6v5h-6zM1031,961 1039,964 1038,968 1029,965zM1026,930 1032,927 1035,933 1029,936zM1055,991h4v9h-4zM1045,964h6v8h-6zM922,1055h8v8h-8zM960,1079h3v3h-3zM940,1048 944,1046 947,1050 943,1052zM963,1042h6v6h-6zM935,1066 939,1067 938,1072 933,1071zM942,1028 944,1026 945,1028 943,1030zM934,1009 938,1006 942,1012 938,1015zM911,1087h6v4h-6zM969,1058 973,1056 975,1060 972,1062zM898,1037h8v4h-8zM928,1048 935,1050 933,1055 926,1053zM910,1019 915,1017 917,1021 913,1024zM954,1060h4v5h-4zM942,1051 947,1053 945,1057 941,1055zM949,1032 957,1035 955,1039 948,1036zM940,1035h4v7h-4zM936,1052 941,1053 940,1057 935,1055zM950,1055 957,1051 961,1058 954,1062zM919,1002 928,1005 926,1010 918,1007zM924,990 926,989 929,994 927,996zM890,1048 896,1051 893,1057 887,1055zM888,1066h6v8h-6zM929,1011 933,1012 931,1017 927,1016zM960,1031h4v3h-4zM900,1036 904,1038 902,1045 897,1043zM899,1051 903,1049 907,1055 902,1057zM901,1072h9v4h-9zM890,1039h9v5h-9zM922,1046h3v4h-3zM905,1016h5v4h-5zM904,1011h4v8h-4zM950,1020h9v9h-9zM920,997h4v4h-4zM959,1014 966,1016 963,1022 957,1020zM926,1079 931,1077 935,1084 931,1087zM956,1078 962,1075 965,1081 960,1084zM927,949h9v6h-9zM922,937 930,933 932,938 925,942zM917,979 921,976 923,981 919,983zM902,981h7v3h-7zM931,925h3v6h-3zM935,911 938,913 936,920 932,919zM918,931h4v3h-4zM909,975 916,977 913,985 907,983zM915,982 920,980 922,982 917,985zM918,976 921,977 918,985 916,984zM915,969 921,965 925,972 918,976zM929,912h6v8h-6zM913,965h5v3h-5zM900,961h7v8h-7zM816,1081h5v6h-5zM830,1102h3v4h-3zM802,1087 807,1084 811,1091 806,1094zM829,1111 835,1113 834,1116 828,1114zM833,1103h4v5h-4zM842,1102h6v7h-6zM859,1079 862,1077 865,1082 861,1084zM844,1091h3v8h-3zM820,1090 827,1085 830,1090 822,1094z" fill="#cfc0f8" opacity="0.25"/><path d="M990,887h7v6h-7zM1021,847 1024,845 1028,853 1025,855zM989,858 995,860 994,865 987,863zM1033,848h7v6h-7zM992,878 1000,881 997,888 989,885zM955,868 959,869 958,873 954,871zM1006,858 1010,855 1014,862 1010,865zM952,881h6v4h-6zM968,918h3v9h-3zM968,927 971,928 969,933 966,932zM983,889h6v6h-6zM970,899h8v5h-8zM986,896h6v6h-6zM994,936h7v8h-7zM987,890h8v7h-8zM969,908h4v9h-4zM963,925 968,927 967,931 962,929zM960,940 967,936 971,943 964,947zM977,920 982,917 984,921 979,924zM984,926 988,924 990,927 986,929zM989,895h4v5h-4zM994,904h4v3h-4zM978,886 981,887 979,891 976,889zM990,943 995,941 997,945 993,948zM978,916 982,914 985,920 982,922zM941,870h6v5h-6zM989,1014h4v6h-4zM1059,1051h5v8h-5zM950,973 955,975 952,982 947,980zM998,963h3v8h-3zM1005,950h4v4h-4zM953,989 960,991 957,997 951,994zM1007,950h4v6h-4zM926,986h8v3h-8zM990,949 998,952 996,958 987,955zM1020,1024 1027,1020 1029,1023 1021,1027zM993,964 997,966 996,968 992,967zM979,1011h3v7h-3zM990,959 998,954 1002,962 995,966zM1011,1042 1019,1045 1017,1051 1009,1048zM973,957 979,954 981,957 975,961zM1025,962 1033,965 1031,969 1024,966zM941,950h4v9h-4zM1028,981h7v5h-7zM947,965 950,963 953,967 950,969zM1001,1052 1006,1054 1004,1060 999,1058zM1060,964 1064,965 1062,970 1058,969zM985,1023h5v6h-5zM989,976h6v9h-6zM1027,994 1031,995 1028,1003 1024,1002zM934,980 940,977 944,983 938,987zM982,986h8v5h-8zM948,957 954,954 955,957 950,960zM1002,1028 1009,1030 1007,1037 1000,1035zM1005,981 1011,983 1008,992 1002,990zM1016,962h8v4h-8zM964,1008h7v6h-7zM1017,959h6v4h-6zM1040,1044h7v7h-7zM983,1065h7v4h-7zM1041,905h4v6h-4zM925,975h4v7h-4zM1031,971 1039,973 1038,979 1030,976zM1016,996h9v9h-9zM1048,1043h3v4h-3zM984,1010 988,1011 987,1014 983,1012zM933,973h4v9h-4zM1022,956h5v5h-5zM1039,976h5v5h-5zM1024,1040h6v4h-6zM1042,1071h7v3h-7zM977,1031 984,1034 983,1037 976,1034zM913,1079 918,1076 919,1079 914,1082zM903,1081h9v6h-9zM953,1035h9v4h-9zM898,1029h8v9h-8zM940,1081 947,1084 946,1088 939,1085zM926,1062h7v5h-7zM929,1015 933,1016 931,1020 928,1019zM939,1059 945,1056 948,1060 941,1064zM966,1031h5v6h-5zM910,1040h7v6h-7zM900,1067 904,1065 908,1071 904,1074zM903,1077 908,1079 907,1082 901,1080zM938,1010h3v6h-3zM933,1061 938,1063 935,1071 930,1069zM951,1053h8v8h-8zM934,1056 937,1057 936,1062 932,1061zM957,1034 961,1035 958,1042 954,1041zM916,1046 922,1049 921,1053 914,1050zM954,1034h9v3h-9zM937,1025h5v7h-5zM928,1066h5v8h-5zM974,1052h4v6h-4zM941,1049 947,1051 945,1056 939,1054zM886,1040 889,1039 893,1046 890,1048zM912,1019 918,1021 917,1023 911,1021zM935,1090 941,1086 943,1089 936,1093zM921,1017h7v3h-7zM916,1051h3v5h-3zM968,1060 973,1057 975,1061 971,1064zM901,1079h3v3h-3zM930,1053h3v5h-3zM939,1027h3v8h-3zM891,1052 894,1051 896,1054 893,1056zM957,1054 960,1055 958,1061 956,1060zM914,944 919,946 918,949 913,947zM919,943h7v9h-7zM896,975h4v5h-4zM920,929 927,932 924,939 917,936zM938,905h7v3h-7zM908,987h8v4h-8zM920,965 925,967 923,974 917,972zM917,936 923,938 920,946 914,944zM930,958h3v3h-3zM910,996 915,994 919,1000 914,1003zM895,976h5v6h-5zM927,919h8v5h-8zM918,936h8v6h-8zM938,896 941,894 943,897 940,899zM923,957 930,959 927,967 920,964zM797,1103h5v8h-5zM839,1096 841,1095 843,1098 841,1099zM859,1084 863,1085 861,1091 857,1089zM793,1119h7v6h-7zM811,1055h6v8h-6zM847,1084 854,1080 856,1084 849,1088zM845,1090 853,1086 855,1090 848,1094z" fill="#cfc0f8" opacity="0.45"/><path d="M1000,887 1003,885 1004,888 1002,889zM1016,860h3v5h-3zM1015,865 1020,867 1018,872 1014,870zM945,868 948,867 952,874 949,875zM976,880h6v5h-6zM977,857h7v8h-7zM981,874h7v8h-7zM945,904h5v5h-5zM951,875h8v9h-8zM947,947 952,944 955,949 950,952zM977,933h4v4h-4zM965,885h5v7h-5zM958,940 964,936 968,943 962,947zM943,933h3v8h-3zM955,910h3v4h-3zM976,1020 978,1018 981,1022 978,1024zM1022,1042h3v4h-3zM987,990h9v4h-9zM1049,936 1056,939 1054,943 1047,941zM1006,1073h5v6h-5zM1055,973 1061,969 1064,975 1058,978zM1029,1035 1033,1032 1037,1039 1033,1041zM927,970h8v8h-8zM1026,1064h3v4h-3zM1055,944h3v5h-3zM1031,1054 1039,1057 1036,1063 1029,1060zM964,1014h4v6h-4zM1012,986 1019,981 1022,986 1014,990zM973,992 981,988 984,993 976,997zM1048,959h6v7h-6zM996,1070h7v3h-7zM1035,987h5v7h-5zM1015,971 1023,973 1021,976 1014,974zM957,994h8v4h-8zM1058,979 1064,976 1066,979 1060,983zM1045,1004h9v3h-9zM1042,1074 1050,1077 1048,1081 1040,1078zM1014,1044h7v8h-7zM1029,1010h8v9h-8zM1042,956h4v7h-4zM987,1026 989,1027 988,1031 985,1030zM984,979h3v6h-3zM1003,1061 1010,1056 1013,1061 1006,1066zM974,973h8v7h-8zM981,1047h6v6h-6zM1037,1035h7v7h-7zM1024,983h5v6h-5zM1022,1039h3v3h-3zM1010,1013 1013,1011 1014,1014 1011,1016zM986,1052 992,1054 989,1061 983,1059zM985,1024h3v8h-3zM972,1018h5v5h-5zM1053,1012h5v7h-5zM1002,949 1005,947 1009,953 1005,955zM1030,990 1033,991 1032,994 1029,993zM1024,1018 1029,1016 1032,1022 1028,1025zM1031,1037 1038,1033 1042,1040 1035,1044zM1028,1043h6v9h-6zM1052,1063h8v6h-8zM1048,1079h9v9h-9zM1024,971 1030,968 1033,972 1027,976zM980,1051h7v4h-7zM1037,1006 1040,1007 1037,1015 1034,1013zM1005,966h5v3h-5zM1043,1017 1050,1014 1053,1019 1046,1023zM976,1060 984,1063 982,1071 974,1068zM963,1009 968,1011 965,1017 961,1016zM933,994h3v6h-3zM912,1075h8v5h-8zM907,1049h3v7h-3zM965,1056 973,1059 971,1063 963,1060zM899,1078h3v7h-3zM908,1048 912,1046 914,1049 910,1051zM914,1016 920,1013 923,1018 917,1022zM938,1013h7v6h-7zM912,1057h5v6h-5zM957,1049 961,1046 964,1051 960,1053zM953,1031h6v3h-6zM957,1066h4v6h-4zM920,1073h6v8h-6zM921,1023h8v4h-8zM915,1022 920,1019 922,1021 916,1025zM930,1030 933,1028 935,1032 932,1033zM935,1017h3v8h-3zM946,1086 948,1087 946,1092 944,1091zM895,1018 901,1015 903,1018 897,1021zM941,1065h4v4h-4zM931,1058h4v7h-4zM969,1071h6v9h-6zM888,1025 894,1027 893,1032 887,1030zM880,1042 888,1038 891,1043 883,1047zM949,1085 956,1081 960,1089 953,1093zM924,1031 931,1026 935,1033 927,1037zM912,1016h4v7h-4zM919,939 926,934 930,940 922,945zM931,950h4v4h-4zM928,909h8v5h-8zM788,1134h3v4h-3zM796,1105 799,1106 796,1115 793,1114zM852,1066h4v8h-4zM830,1102 836,1104 834,1110 828,1108zM857,1055h5v8h-5zM831,1081 837,1083 834,1090 828,1088zM812,1114h5v5h-5zM787,1116h8v4h-8zM812,1045 816,1043 820,1050 817,1053zM778,1130 783,1128 788,1136 783,1138zM844,1052 850,1054 847,1063 841,1060zM821,1100 824,1099 827,1104 824,1106zM853,1091h5v6h-5zM817,1081 820,1082 817,1088 815,1087zM794,1125h8v8h-8zM816,1096 824,1099 822,1105 814,1102zM831,1094 838,1090 839,1092 832,1096zM854,1059 857,1057 859,1061 857,1063z" fill="#fb9c80" opacity="0.20"/><path d="M971,874h4v4h-4zM1016,870 1018,870 1016,876 1013,875zM961,852 964,850 968,857 965,859zM1006,866h6v3h-6zM985,878h7v3h-7zM945,867h4v3h-4zM981,849h8v4h-8zM931,889h7v9h-7zM983,938h8v5h-8zM976,927h7v9h-7zM951,903 953,904 952,908 950,907zM987,900 993,897 997,905 991,908zM989,908 996,911 995,913 988,911zM942,934h8v4h-8zM957,884 961,882 963,887 960,889zM950,879 956,876 960,883 954,886zM978,890 980,888 983,893 981,895zM981,889h6v5h-6zM964,901h3v7h-3zM944,871h6v7h-6zM985,896h8v9h-8zM972,886 976,887 975,892 970,890zM945,916 948,917 947,920 944,919zM943,887h7v8h-7zM973,914h5v6h-5zM943,931 945,930 949,936 947,938zM969,944 974,941 976,944 971,947zM975,914 978,912 981,918 978,920zM940,909h7v3h-7zM959,894 964,896 963,899 958,897zM1006,1001h8v9h-8zM1039,952 1045,955 1042,963 1036,960zM971,951 978,953 976,959 969,956zM935,971 941,968 943,971 937,975zM1006,971h9v9h-9zM1051,946 1056,948 1055,951 1049,949zM1026,1023 1028,1022 1031,1026 1029,1027zM1040,1070 1046,1073 1044,1079 1038,1077zM976,1027h4v8h-4zM1004,949 1008,950 1006,953 1003,952zM977,956 983,958 980,966 974,964zM973,1012 977,1014 976,1017 972,1015zM970,1008h8v5h-8zM989,991 995,987 996,990 991,993zM1038,1073h8v3h-8zM964,992 967,993 965,999 961,998zM1032,993 1035,991 1038,996 1035,998zM973,1019h5v3h-5zM1054,966 1060,968 1059,973 1053,971zM1017,972h7v7h-7zM1049,1047h4v4h-4zM1057,1065 1062,1067 1060,1072 1055,1070zM1001,962 1005,963 1002,971 998,970zM1041,913h7v3h-7zM1045,949 1049,947 1051,950 1047,952zM1037,974 1042,976 1040,980 1036,978zM924,969 930,966 933,971 927,974zM991,1036h4v3h-4zM990,968h3v8h-3zM1026,1068 1032,1070 1031,1074 1025,1072zM997,1026 1001,1024 1004,1030 1001,1032zM1008,992 1012,989 1015,993 1010,996zM1000,958 1005,955 1006,958 1002,961zM1060,995h4v7h-4zM996,949h7v7h-7zM1032,944h8v5h-8zM1043,936 1046,937 1044,940 1042,939zM945,965 948,966 946,973 942,972zM1049,1011h4v5h-4zM1004,1069 1007,1067 1008,1070 1006,1072zM955,954 958,952 963,960 959,962zM1010,985 1013,986 1011,991 1008,990zM1024,1003 1027,1004 1026,1009 1022,1008zM1053,960 1056,961 1053,968 1050,967zM983,1067 990,1063 992,1066 985,1070zM978,1055h6v4h-6zM1037,971h7v4h-7zM1049,956 1054,957 1053,960 1048,959zM986,972 993,968 995,971 988,975zM1008,967 1013,964 1017,972 1012,974zM1037,906h5v5h-5zM1002,1055 1006,1053 1008,1056 1003,1058zM1024,943 1030,940 1034,946 1028,950zM1031,1010h7v3h-7zM1003,1028h3v5h-3zM1000,968h6v8h-6zM964,992 969,989 971,993 966,995zM949,1016h3v5h-3zM973,1064h9v6h-9zM949,1018h5v9h-5zM960,1076 967,1072 969,1075 962,1079zM939,1074 945,1070 948,1076 942,1080zM884,1042h5v9h-5zM952,1067h6v4h-6zM933,1031 936,1032 934,1040 930,1038zM961,1056 965,1054 969,1061 965,1063zM976,1062 979,1063 976,1071 973,1070zM922,993 924,994 921,1002 919,1001zM904,1035h4v7h-4zM896,1052h3v4h-3zM953,1054h3v7h-3zM970,1057 976,1054 980,1060 974,1064zM938,1054h6v6h-6zM895,1026h5v5h-5zM923,1056h8v6h-8zM917,1064h5v7h-5zM931,1033 935,1035 933,1039 930,1037zM954,1047h3v7h-3zM965,1058 968,1059 966,1066 962,1065zM914,1015 920,1012 921,1015 916,1018zM953,1041h8v6h-8zM899,1048 904,1050 903,1053 898,1051zM918,1024h5v3h-5zM959,1054h8v9h-8zM953,1040h6v8h-6zM913,1021h4v7h-4zM936,1023h4v8h-4zM886,1050h5v4h-5zM956,1018 959,1019 957,1024 954,1023zM921,1035h3v8h-3zM922,993 926,991 930,997 926,1000zM884,1049h9v5h-9zM900,1040 902,1038 905,1043 903,1045zM891,1022h6v4h-6zM924,1027h4v8h-4zM918,938h4v4h-4zM922,966h7v5h-7zM915,966h3v3h-3zM936,893 940,894 937,903 933,901zM919,935 923,936 921,942 917,940zM916,957h6v7h-6zM895,971h7v5h-7zM900,1000 908,996 912,1003 904,1008zM921,957h5v9h-5zM904,992 909,994 907,1000 902,998zM917,967h4v5h-4zM912,991 915,992 912,1000 909,999zM893,988h7v7h-7zM931,954 936,951 940,957 934,960zM927,914h6v4h-6zM834,1079h6v7h-6zM826,1062h7v7h-7zM849,1054 854,1055 851,1061 847,1060zM843,1081h3v5h-3zM825,1051h5v3h-5zM801,1108 804,1109 801,1117 798,1116zM819,1051 825,1047 829,1054 823,1058zM849,1054 852,1055 851,1057 848,1056zM796,1116h7v7h-7zM797,1104 803,1100 807,1108 801,1111zM800,1098h3v4h-3zM851,1079 855,1077 859,1084 856,1086zM826,1056h7v3h-7zM803,1086h5v3h-5zM806,1121h3v5h-3zM806,1064 814,1067 813,1071 805,1069zM838,1053 842,1051 845,1056 841,1058zM831,1071h3v5h-3zM802,1112 810,1108 812,1111 804,1116zM808,1079 814,1076 817,1081 811,1084zM800,1090h8v3h-8zM788,1124h9v4h-9zM829,1074h7v3h-7zM849,1083 852,1084 849,1093 846,1092zM857,1077h9v9h-9zM813,1050 821,1046 823,1049 815,1054zM849,1078h8v5h-8zM824,1060 827,1061 825,1066 823,1065zM825,1059 829,1061 827,1067 823,1066z" fill="#fff" opacity="0.40"/><path d="M983,857 991,860 988,868 980,865zM1008,885h7v5h-7zM936,874 942,870 945,875 939,879zM972,851h5v6h-5zM980,848h6v7h-6zM950,909 954,910 952,918 947,916zM995,897 1000,895 1003,900 998,903zM964,943 969,944 966,952 961,951zM949,942h6v7h-6zM949,885 956,887 954,892 947,889zM972,915h4v8h-4zM962,911 964,912 963,916 960,915zM953,895h3v8h-3zM958,919 961,920 960,923 957,922zM950,915 954,916 952,922 948,920zM1031,989 1035,986 1038,992 1034,994zM1046,1047h6v4h-6zM963,969 967,966 971,973 967,975zM1006,977 1010,974 1012,978 1008,981zM1037,1051h6v5h-6zM1000,1071 1009,1074 1007,1077 999,1074zM980,1059h7v4h-7zM1030,993 1038,996 1037,999 1029,996zM1010,966 1015,968 1013,973 1008,972zM1045,917h5v5h-5zM1033,943h8v3h-8zM975,952 982,955 981,958 974,955zM981,1062h7v8h-7zM976,1001 983,997 984,1000 977,1004zM922,980 927,977 930,983 926,986zM1025,1005h8v9h-8zM1053,1030h4v8h-4zM996,1032 1002,1034 1000,1041 994,1039zM1046,919 1052,921 1051,924 1045,922zM1054,934 1057,935 1055,942 1052,941zM936,996h6v6h-6zM986,1065 991,1062 994,1066 988,1069zM1020,944h6v4h-6zM1024,1044 1031,1046 1028,1053 1022,1051zM990,963h4v4h-4zM1031,940 1038,942 1035,949 1029,947zM973,963h9v4h-9zM977,983 980,985 977,993 974,992zM1049,1019 1053,1017 1054,1019 1050,1021zM1020,955 1027,951 1031,959 1025,962zM1003,957h7v8h-7zM1008,950 1012,952 1009,959 1006,958zM1007,1034h8v7h-8zM1056,1022h7v5h-7zM975,998 977,999 977,1001 974,1000zM1034,1069 1039,1070 1036,1078 1031,1076zM1001,1022h6v8h-6zM972,1011 979,1013 978,1016 971,1014zM986,992h3v5h-3zM981,1054h9v3h-9zM1039,930h5v3h-5zM989,955h5v8h-5zM1001,1014 1007,1010 1010,1015 1004,1019zM1031,1035h8v6h-8zM1006,987h7v5h-7zM1038,1067 1040,1065 1042,1069 1040,1071zM987,1045 994,1041 998,1049 991,1053zM1018,935 1026,938 1024,943 1016,940zM1042,1000h5v4h-5zM1052,1072h9v8h-9zM1046,1079 1051,1081 1048,1087 1043,1085zM1010,1011 1017,1007 1021,1015 1014,1019zM1028,1009 1034,1012 1033,1015 1027,1013zM895,1046h5v6h-5zM954,1031h3v6h-3zM918,1041h7v4h-7zM949,1046h7v8h-7zM909,1033 915,1036 914,1039 907,1037zM928,1006 934,1003 936,1007 931,1010zM901,1021 908,1024 907,1028 899,1025zM923,1032h7v5h-7zM902,1018 909,1020 907,1027 900,1024zM918,994h8v5h-8zM965,1058h8v8h-8zM938,1063 942,1065 940,1070 936,1069zM909,1059h3v4h-3zM949,1052 957,1048 961,1055 954,1060zM932,1057 935,1058 932,1065 930,1064zM882,1056 888,1052 890,1056 884,1059zM932,1086h7v8h-7zM938,1062 945,1064 943,1070 936,1067zM947,1045h6v4h-6zM923,1036 926,1034 930,1041 927,1043zM913,1065h8v5h-8zM952,1056 958,1059 956,1065 949,1063zM936,1081h9v3h-9zM963,1016h4v6h-4zM897,1029h8v5h-8zM938,1010h8v7h-8zM950,1031h8v3h-8zM941,1037 948,1040 946,1044 939,1041zM947,1041h8v4h-8zM937,1060 941,1062 940,1064 936,1063zM904,1046h7v5h-7zM933,1023h4v8h-4zM922,989 926,987 929,993 926,995zM952,1071h6v7h-6zM898,1071h5v7h-5zM934,1058h5v6h-5zM916,941h6v4h-6zM903,976h3v5h-3zM912,934h8v8h-8zM813,1116h9v4h-9zM863,1074 869,1076 866,1084 860,1082zM863,1048h3v8h-3zM831,1081h4v8h-4zM855,1040 861,1037 865,1044 859,1047zM787,1104 794,1106 793,1109 786,1106zM837,1100h9v8h-9zM809,1051h6v4h-6zM836,1083 842,1079 845,1083 839,1087zM812,1089h5v8h-5zM811,1069h7v7h-7zM828,1072 832,1073 830,1079 825,1078zM812,1074h9v4h-9zM837,1097h6v5h-6zM799,1093 806,1096 804,1099 798,1097zM837,1109h6v3h-6zM816,1082 819,1080 821,1083 818,1085zM847,1048 852,1046 856,1052 851,1055zM814,1118h4v5h-4zM828,1079 831,1077 833,1081 830,1083zM800,1101 806,1104 804,1110 797,1108zM827,1084h9v5h-9z" fill="#fb9c80" opacity="0.40"/><path d="M997,849 1000,850 998,855 995,854zM978,850 981,851 979,857 975,856zM999,852h6v8h-6zM1008,874 1011,875 1010,878 1007,877zM971,849 974,850 971,858 968,858zM950,859 955,860 954,863 949,861zM962,915 970,917 967,923 960,920zM938,947 941,945 942,948 939,949zM975,932h3v9h-3zM974,905 980,907 978,911 973,909zM984,901h8v7h-8zM982,891h7v3h-7zM937,944h8v7h-8zM949,936 956,932 958,935 950,939zM968,932 972,933 970,941 965,939zM978,917h8v7h-8zM942,929 949,925 951,930 945,934zM941,941 945,939 947,943 943,945zM951,901h6v4h-6zM991,901 996,902 994,907 990,906zM980,921h3v5h-3zM940,937h4v8h-4zM997,893 1003,895 1001,900 995,898zM995,942h4v8h-4zM993,900h6v6h-6zM942,895 949,891 954,898 946,902zM976,893h8v9h-8zM953,950h8v5h-8zM970,918 977,914 979,917 972,921zM961,898h4v9h-4zM1041,1070 1045,1071 1043,1076 1040,1075zM1021,1023 1024,1022 1026,1025 1023,1027zM1043,923 1050,919 1054,926 1047,931zM1055,968 1062,971 1060,978 1052,975zM1017,1023 1025,1026 1022,1033 1014,1030zM933,984 939,981 942,986 936,989zM990,1044h5v7h-5zM987,975 994,977 992,982 985,979zM1016,933h3v3h-3zM1038,1016 1043,1013 1046,1018 1041,1021zM994,984h4v3h-4zM994,961 997,959 1001,964 997,966zM943,959h9v9h-9zM945,1006 948,1007 946,1011 944,1010zM1018,1061 1025,1058 1027,1061 1020,1065zM991,977h6v3h-6zM1035,994 1038,993 1041,999 1039,1001zM993,1001h5v4h-5zM995,947h4v4h-4zM1025,930h8v3h-8zM955,987 962,989 960,994 953,991zM923,974 929,970 934,978 927,982zM988,1056h6v3h-6zM960,980h3v8h-3zM1032,955 1036,953 1040,961 1036,963zM979,975 983,973 987,979 983,982zM1012,938h5v4h-5zM1024,980h6v3h-6zM1018,1001h6v9h-6zM956,1005 961,1002 964,1007 959,1010zM1024,947 1029,949 1027,955 1022,953zM1034,1068h7v4h-7zM1026,958h8v6h-8zM969,947 973,945 975,949 971,951zM966,979h6v3h-6zM1049,1024h3v4h-3zM1042,961 1046,963 1044,969 1040,967zM1028,1019h5v6h-5zM1019,1056h9v5h-9zM1001,1026 1009,1021 1013,1028 1005,1033zM937,998h9v8h-9zM1049,1048 1053,1046 1056,1051 1052,1053zM999,1016h6v3h-6zM965,1021h5v3h-5zM926,972h5v3h-5zM1046,1008h9v9h-9zM1049,939h5v8h-5zM930,979 937,975 938,978 931,982zM990,1041 995,1043 993,1047 989,1045zM967,989 972,991 970,995 966,993zM978,971 985,974 983,981 976,978zM1042,951 1049,947 1053,953 1046,957zM1021,1061h8v4h-8zM1042,1003 1049,1005 1047,1012 1040,1010zM1045,953h6v6h-6zM1019,996 1022,995 1025,1001 1023,1003zM989,981h4v7h-4zM946,1074h7v4h-7zM899,1030h7v7h-7zM934,1024h4v5h-4zM885,1031h6v9h-6zM955,1037h4v3h-4zM966,1063h4v3h-4zM919,1068 923,1066 925,1071 921,1073zM935,1041h5v3h-5zM887,1055 894,1058 892,1064 885,1062zM932,1063h3v8h-3zM881,1041h7v4h-7zM932,1086 937,1083 940,1089 935,1092zM953,1024h4v5h-4zM921,1036h8v8h-8zM897,1055 902,1057 901,1061 896,1059zM936,1040 940,1042 939,1045 935,1044zM938,1047h5v5h-5zM940,1072h3v5h-3zM917,1000h7v5h-7zM947,1051h5v3h-5zM962,1044h9v3h-9zM910,1059h8v3h-8zM900,1005h9v9h-9zM937,1010h5v7h-5zM952,1055 954,1053 959,1061 956,1062zM957,1061h6v5h-6zM941,1060 947,1057 950,1063 945,1066zM916,1081h6v8h-6zM926,993 928,992 930,995 927,996zM899,991h6v6h-6zM910,972 917,969 919,972 912,976zM899,969 905,971 903,976 898,974zM921,963 927,966 924,974 918,972zM904,968 907,966 909,970 906,971zM923,951h7v7h-7zM892,982 896,980 900,988 896,990zM908,984 914,986 913,989 907,987zM917,974h8v9h-8zM927,918 934,914 936,918 930,922zM940,899 947,901 945,906 939,904zM931,920 937,922 934,929 928,927zM933,948 940,944 944,951 937,955zM913,992h4v8h-4zM920,964h6v4h-6zM894,985 901,981 903,985 897,989zM909,956 913,953 917,959 913,961zM939,896h8v3h-8zM928,940 936,943 935,947 926,944zM904,961h5v3h-5zM824,1062h7v8h-7zM859,1080h3v7h-3zM782,1119 788,1116 790,1120 784,1123zM844,1060h7v4h-7zM859,1074 864,1076 862,1081 858,1079zM834,1066h8v8h-8zM867,1063 872,1060 876,1066 870,1069zM784,1104 788,1106 786,1113 781,1111zM853,1073 856,1072 858,1075 856,1076zM823,1054 827,1055 825,1059 822,1057zM817,1109 822,1106 824,1110 819,1113zM850,1045 853,1047 852,1051 849,1050zM823,1114h8v4h-8zM864,1077 871,1079 870,1082 863,1079zM842,1047 849,1043 851,1046 844,1050zM838,1061h9v8h-9zM788,1105 792,1107 789,1112 786,1111zM843,1047h4v3h-4zM804,1075h4v7h-4zM823,1094h8v8h-8zM831,1098h5v8h-5zM850,1050 856,1052 853,1060 847,1058zM853,1066 856,1064 860,1071 856,1073zM843,1093h5v6h-5zM845,1062 849,1059 851,1062 846,1064z" fill="#fff" opacity="0.70"/><path d="M981,1057 1005,1060 1018,1078 998,1076 982,1071.0Z" fill="#feffff" opacity="1"/></g><path d="M1022.2,956.5 1044.2,973 1044.2,984 1033.2,995 1031.8,1039 1024.9,1050 1012.6,1058.2 1016.7,1066.4 1024.9,1063.7 1027.7,1077.4 1019.4,1080.2" fill="none"/><path d="M944,850 942.4,860 939.7,876.7 942.4,871.2 970,879.5 978.2,887.7 1005.7,894.6 1013.9,885 1024.9,871.2 1035.9,860 1040,850.0Z" fill="none"/><path d="M942.4,871.2 970,879.5 978.2,887.7 1005.7,894.6 997.4,909.7 990.5,912.5 991.9,926 1000,940 997.4,948 983.7,945.5 970,948 961.7,956.5 942.4,951 934.2,940 932.8,923.5 939.7,912.5 945.2,898.7 939.7,894.6 934.2,896 939.7,876.7Z" fill="none"/><path d="M942.4,951 961.7,956.5 970,948 983.7,945.5 997.4,948 1000,940 1008.4,951 1013.9,959 1018,964.7 1020.8,956.5 1013.9,940 1022.2,923.5 1035.9,931.7 1041.4,929 1038.7,920.7 1027.7,915.2 1030.4,907 1038.7,902.9 1062,911 1062,1084.8 1019.4,1080.2 997.4,1077.4 981,1072 978.2,1069.2 981,1055.4 968.6,1041.7 970,1033.4 964.4,1014.2 953.4,1019.7 942.4,1006 931.4,988 921.8,986.7 921.8,978.5 931.4,962.0Z" fill="none"/><path d="M921.8,986.7 931.4,988 942.4,1006 953.4,1019.7 964.4,1014.2 970,1033.4 968.6,1041.7 981,1055.4 978.2,1069.2 970,1080.2 953.4,1088.4 934.2,1093.9 931.4,1088.4 904,1089.8 895.7,1085.7 898.5,1077.4 884.7,1066.4 882,1050 891.6,1022.4 895.7,1010 912.2,1004.5 917.7,995.0Z" fill="none"/><path d="M934.2,896 926,920.7 915,940 904,959.2 894.3,975.7 891.6,1003.2 895.7,1008.7 912.2,1003.2 917.7,995 921.8,978.5 931.4,962 942.4,951 934.2,940 932.8,923.5 939.7,912.5 945.2,898.7 939.7,894.6Z" fill="none"/><path d="M930,1109 932.8,1095.3 956.2,1091.2 983.7,1083 1008.4,1078.8 970,1096.7 942.4,1105.0Z" fill="none"/><path d="M778.9,1131 784.4,1138 805,1128.3 818.7,1118.7 838,1116 860,1091 875,1072 865.5,1043 860,1041.7 827,1047 816,1044.4 806.4,1055.4 807.7,1069 802.2,1083 794,1102 784.4,1107.7 785.7,1121.4Z" fill="none"/><ellipse cx="1011" cy="894" rx="2" ry="4" fill="#fff" stroke-width="1.4" transform="rotate(20 1011 894)"/><ellipse cx="1011.5" cy="913" rx="2" ry="3.5" fill="#fff" stroke-width="1.4" transform="rotate(15 1011.5 913)"/><ellipse cx="1003" cy="917" rx="2.2" ry="4.5" fill="#fff" stroke-width="1.4" transform="rotate(-10 1003 917)"/><ellipse cx="892" cy="1017" rx="4" ry="2" fill="#fff" stroke-width="1.4" transform="rotate(-35 892 1017)"/><circle cx="879.5" cy="1015.5" r="1.2" fill="#4d4d4d" stroke="none"/><circle cx="882" cy="1010" r="1.2" fill="#4d4d4d" stroke="none"/></g><rect x="765.5" y="859.5" width="292.5" height="291.5" fill="none" stroke="#333" stroke-width="1.2"/>
<g font-family="'Liberation Sans', sans-serif"><text x="279.1" y="123.3" font-size="80" font-weight="bold" fill="#222" text-anchor="start" textLength="290" lengthAdjust="spacingAndGlyphs">Partisan</text><text x="590" y="123.3" font-size="80" font-weight="bold" fill="#0c0cee" text-anchor="start" textLength="163" lengthAdjust="spacingAndGlyphs">Shift</text><text x="260.5" y="197.5" font-size="39.5" font-weight="bold" fill="#000" text-anchor="start" textLength="166" lengthAdjust="spacingAndGlyphs">Between</text><text x="436.7" y="197.8" font-size="81" font-weight="bold" fill="#f01010" text-anchor="start" textLength="335" lengthAdjust="spacingAndGlyphs">2010 and</text><text x="295.5" y="271" font-size="81" font-weight="bold" fill="#f01010" text-anchor="start" textLength="184" lengthAdjust="spacingAndGlyphs">2018</text><text x="489.5" y="271" font-size="39.5" font-weight="bold" fill="#000" text-anchor="start" textLength="247.5" lengthAdjust="spacingAndGlyphs">Gubernatoral</text><text x="432" y="318.4" font-size="39.5" font-weight="bold" fill="#000" text-anchor="start" textLength="170" lengthAdjust="spacingAndGlyphs">Elections</text><rect x="232" y="948" width="473" height="24" fill="url(#lg)"/><path d="M326.8,948v3M326.8,969v3" stroke="#fff" stroke-width="1" opacity="0.6"/><path d="M421.1,948v3M421.1,969v3" stroke="#fff" stroke-width="1" opacity="0.6"/><path d="M515.4,948v3M515.4,969v3" stroke="#fff" stroke-width="1" opacity="0.6"/><path d="M609.7,948v3M609.7,969v3" stroke="#fff" stroke-width="1" opacity="0.6"/><text x="232.5" y="1011" font-size="18" font-weight="normal" fill="#1a1a1a" text-anchor="middle" textLength="43" lengthAdjust="spacingAndGlyphs">-50%</text><text x="326.8" y="1011" font-size="18" font-weight="normal" fill="#1a1a1a" text-anchor="middle" textLength="43" lengthAdjust="spacingAndGlyphs">-30%</text><text x="421.1" y="1011" font-size="18" font-weight="normal" fill="#1a1a1a" text-anchor="middle" textLength="43" lengthAdjust="spacingAndGlyphs">-10%</text><text x="515.4" y="1011" font-size="18" font-weight="normal" fill="#1a1a1a" text-anchor="middle" textLength="35.5" lengthAdjust="spacingAndGlyphs">10%</text><text x="609.7" y="1011" font-size="18" font-weight="normal" fill="#1a1a1a" text-anchor="middle" textLength="35.5" lengthAdjust="spacingAndGlyphs">30%</text><text x="704" y="1011" font-size="18" font-weight="normal" fill="#1a1a1a" text-anchor="middle" textLength="35.5" lengthAdjust="spacingAndGlyphs">50%</text><text x="767" y="853.4" font-size="18" font-weight="normal" fill="#1a1a1a" text-anchor="start" textLength="120" lengthAdjust="spacingAndGlyphs">New York City</text><text x="221" y="1161.6" font-size="16.4" font-weight="normal" fill="#555" text-anchor="start" textLength="171" lengthAdjust="spacingAndGlyphs">Andy Arthur, 10/27/22</text><text x="221" y="1179.5" font-size="16.4" font-weight="normal" fill="#555" text-anchor="start" textLength="754" lengthAdjust="spacingAndGlyphs">Source: LATFOR, US Census Bureau, 2010 VTDs were Population Weighted Interpolated to 2020 VTDs.</text></g>
</svg></body></html>
